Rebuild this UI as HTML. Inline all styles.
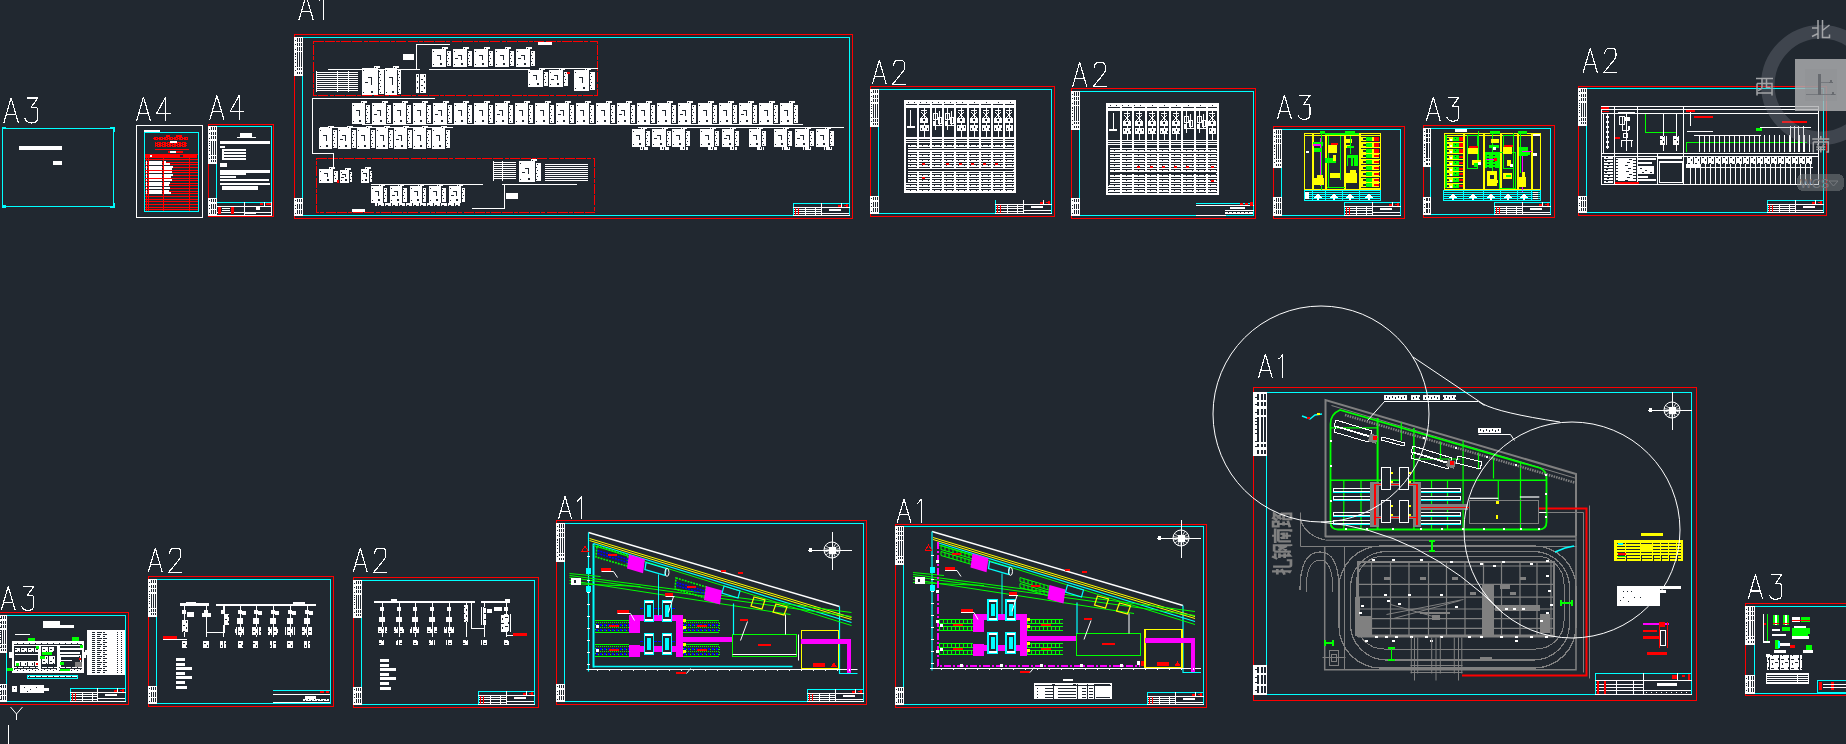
<!DOCTYPE html>
<html><head><meta charset="utf-8"><style>
html,body{margin:0;padding:0;background:#212830;overflow:hidden;width:1846px;height:744px}
svg{display:block}
</style></head><body>
<svg width="1846" height="744" viewBox="0 0 1846 744" shape-rendering="crispEdges">
<defs><pattern id="dense" width="4" height="3" patternUnits="userSpaceOnUse"><rect width="4" height="3" fill="#fff"/><rect x="1" y="1" width="1" height="1" fill="#212830"/><rect x="3" y="2" width="1" height="1" fill="#212830"/></pattern><pattern id="rows" width="3" height="2" patternUnits="userSpaceOnUse"><rect width="3" height="1" fill="#fff"/></pattern><pattern id="rows3" width="3" height="3" patternUnits="userSpaceOnUse"><rect width="3" height="1" fill="#fff"/></pattern><pattern id="blk" width="10" height="9" patternUnits="userSpaceOnUse"><rect width="10" height="9" fill="#fff"/><rect x="1" y="2" width="3" height="1" fill="#212830"/><rect x="5" y="5" width="3" height="1" fill="#212830"/><rect x="2" y="6" width="1" height="2" fill="#212830"/><rect x="8" y="1" width="1" height="2" fill="#212830"/><rect x="9" y="0" width="1" height="9" fill="#212830"/></pattern><pattern id="blk2" width="7" height="6" patternUnits="userSpaceOnUse"><rect width="7" height="6" fill="#fff"/><rect x="1" y="1" width="2" height="1" fill="#212830"/><rect x="4" y="3" width="1" height="2" fill="#212830"/><rect x="6" y="0" width="1" height="6" fill="#212830"/></pattern><pattern id="txt" width="6" height="3" patternUnits="userSpaceOnUse"><rect width="6" height="2" fill="#fff"/><rect x="2" y="0" width="1" height="1" fill="#212830"/><rect x="5" y="1" width="1" height="1" fill="#212830"/></pattern><pattern id="redtxt" width="5" height="2" patternUnits="userSpaceOnUse"><rect width="5" height="2" fill="#ff0000"/><rect x="1" y="0" width="1" height="1" fill="#212830"/><rect x="3" y="1" width="1" height="1" fill="#212830"/></pattern><pattern id="bluedash" width="4" height="2" patternUnits="userSpaceOnUse"><rect width="2" height="2" fill="#0000ff"/></pattern><pattern id="rows2" width="6" height="5" patternUnits="userSpaceOnUse"><rect width="6" height="2" fill="#fff"/><rect y="3" width="6" height="1" fill="#fff"/><rect x="4" y="0" width="1" height="1" fill="#212830"/></pattern><pattern id="grow" width="3" height="2" patternUnits="userSpaceOnUse"><rect width="3" height="1" fill="#808080"/></pattern></defs>
<rect width="1846" height="744" fill="#212830"/>
<rect x="2" y="128" width="112" height="1" fill="#00ffff"/>
<rect x="2" y="206" width="112" height="1" fill="#00ffff"/>
<rect x="2" y="128" width="1" height="79" fill="#00ffff"/>
<rect x="113" y="128" width="1" height="79" fill="#00ffff"/>
<rect x="2" y="127" width="4" height="2" fill="#00ffff" />
<rect x="110" y="127" width="4" height="2" fill="#00ffff" />
<rect x="113" y="127" width="2" height="5" fill="#00ffff" />
<rect x="2" y="205" width="4" height="3" fill="#00ffff" />
<rect x="110" y="206" width="5" height="2" fill="#00ffff" />
<rect x="113" y="203" width="2" height="5" fill="#00ffff" />
<path d="M0,24 L7,0 L14,24 M2.3,16 L11.7,16" transform="translate(3.80,98.00) scale(1.0417)" fill="none" stroke="#fff" stroke-width="1.104" stroke-linejoin="round"/>
<path d="M2,0 L12.5,0 L6.3,9 L10,9 C11.5,9 12.4,10.2 12.4,11.5 L12.4,19.5 C12.4,22.5 10,24 6.5,24 C3.5,24 1.5,22.5 0.3,19.5" transform="translate(24.63,98.00) scale(1.0417)" fill="none" stroke="#fff" stroke-width="1.104" stroke-linejoin="round"/>
<rect x="19" y="146" width="43" height="4" fill="#ffffff" />
<rect x="53" y="161" width="9" height="4" fill="#ffffff" />
<rect x="136" y="125" width="67" height="1" fill="#ffffff"/>
<rect x="136" y="217" width="67" height="1" fill="#ffffff"/>
<rect x="136" y="125" width="1" height="93" fill="#ffffff"/>
<rect x="202" y="125" width="1" height="93" fill="#ffffff"/>
<rect x="144" y="132" width="55" height="1" fill="#00ffff"/>
<rect x="144" y="211" width="55" height="1" fill="#00ffff"/>
<rect x="144" y="132" width="1" height="80" fill="#00ffff"/>
<rect x="198" y="132" width="1" height="80" fill="#00ffff"/>
<path d="M0,24 L7,0 L14,24 M2.3,16 L11.7,16" transform="translate(136.40,97.10) scale(1.0125)" fill="none" stroke="#fff" stroke-width="1.136" stroke-linejoin="round"/>
<path d="M14.2,16 L0,16 L9,0 L9,24" transform="translate(156.65,97.10) scale(1.0125)" fill="none" stroke="#fff" stroke-width="1.136" stroke-linejoin="round"/>
<rect x="144" y="130" width="16" height="2" fill="#ffffff" />
<rect x="153" y="137" width="35" height="3" fill="url(#redtxt)"/>
<rect x="166" y="135" width="4" height="2" fill="#ff0000" />
<rect x="176" y="135" width="6" height="2" fill="#ff0000" />
<rect x="155" y="142" width="32" height="5" fill="url(#redtxt)"/>
<rect x="170" y="141" width="7" height="2" fill="#ffffff" />
<rect x="155" y="149" width="34" height="1" fill="#ff0000"/>
<rect x="168" y="151" width="15" height="2" fill="#ff0000" />
<rect x="170" y="151" width="6" height="2" fill="#ffffff" />
<rect x="145" y="154" width="53" height="1" fill="#ff0000"/>
<rect x="145" y="159" width="53" height="1" fill="#ff0000"/>
<rect x="145" y="162" width="53" height="1" fill="#ff0000"/>
<rect x="145" y="164" width="53" height="1" fill="#ff0000"/>
<rect x="145" y="167" width="53" height="1" fill="#ff0000"/>
<rect x="145" y="170" width="53" height="1" fill="#ff0000"/>
<rect x="145" y="172" width="53" height="1" fill="#ff0000"/>
<rect x="145" y="175" width="53" height="1" fill="#ff0000"/>
<rect x="145" y="178" width="53" height="1" fill="#ff0000"/>
<rect x="145" y="180" width="53" height="1" fill="#ff0000"/>
<rect x="145" y="183" width="53" height="1" fill="#ff0000"/>
<rect x="145" y="185" width="53" height="1" fill="#ff0000"/>
<rect x="145" y="188" width="53" height="1" fill="#ff0000"/>
<rect x="145" y="191" width="53" height="1" fill="#ff0000"/>
<rect x="145" y="193" width="53" height="1" fill="#ff0000"/>
<rect x="145" y="196" width="53" height="1" fill="#ff0000"/>
<rect x="145" y="199" width="53" height="1" fill="#ff0000"/>
<rect x="145" y="201" width="53" height="1" fill="#ff0000"/>
<rect x="145" y="204" width="53" height="1" fill="#ff0000"/>
<rect x="145" y="207" width="53" height="1" fill="#ff0000"/>
<rect x="145" y="209" width="53" height="1" fill="#ff0000"/>
<rect x="146" y="154" width="1" height="57" fill="#ff0000"/>
<rect x="148" y="154" width="1" height="57" fill="#ff0000"/>
<rect x="163" y="154" width="1" height="57" fill="#ff0000"/>
<rect x="189" y="154" width="1" height="57" fill="#ff0000"/>
<rect x="145" y="155" width="52" height="3" fill="#ff0000" />
<rect x="150" y="155" width="2" height="2" fill="#ffffff" />
<rect x="180" y="155" width="3" height="2" fill="#212830" />
<rect x="149" y="161" width="13" height="1.5999999999999943" fill="#ffffff" />
<rect x="164" y="161" width="2" height="1.5999999999999943" fill="#ffffff" />
<rect x="146" y="161" width="1" height="1.5999999999999943" fill="#ffffff" />
<rect x="149" y="163" width="13" height="1.5999999999999943" fill="#ffffff" />
<rect x="164" y="163" width="6" height="1.5999999999999943" fill="#ffffff" />
<rect x="146" y="163" width="1" height="1.5999999999999943" fill="#ffffff" />
<rect x="149" y="166" width="13" height="1.5999999999999943" fill="#ffffff" />
<rect x="164" y="166" width="9" height="1.5999999999999943" fill="#ffffff" />
<rect x="146" y="166" width="1" height="1.5999999999999943" fill="#ffffff" />
<rect x="149" y="168" width="13" height="1.5999999999999943" fill="#ffffff" />
<rect x="164" y="168" width="8" height="1.5999999999999943" fill="#ffffff" />
<rect x="146" y="168" width="1" height="1.5999999999999943" fill="#ffffff" />
<rect x="149" y="171" width="13" height="1.5999999999999943" fill="#ffffff" />
<rect x="164" y="171" width="8" height="1.5999999999999943" fill="#ffffff" />
<rect x="146" y="171" width="1" height="1.5999999999999943" fill="#ffffff" />
<rect x="149" y="174" width="13" height="1.5999999999999943" fill="#ffffff" />
<rect x="164" y="174" width="9" height="1.5999999999999943" fill="#ffffff" />
<rect x="146" y="174" width="1" height="1.5999999999999943" fill="#ffffff" />
<rect x="149" y="176" width="13" height="1.5999999999999943" fill="#ffffff" />
<rect x="164" y="176" width="7" height="1.5999999999999943" fill="#ffffff" />
<rect x="146" y="176" width="1" height="1.5999999999999943" fill="#ffffff" />
<rect x="149" y="179" width="13" height="1.5999999999999943" fill="#ffffff" />
<rect x="164" y="179" width="8" height="1.5999999999999943" fill="#ffffff" />
<rect x="146" y="179" width="1" height="1.5999999999999943" fill="#ffffff" />
<rect x="149" y="182" width="13" height="1.5999999999999943" fill="#ffffff" />
<rect x="164" y="182" width="6" height="1.5999999999999943" fill="#ffffff" />
<rect x="146" y="182" width="1" height="1.5999999999999943" fill="#ffffff" />
<rect x="149" y="184" width="13" height="1.5999999999999943" fill="#ffffff" />
<rect x="164" y="184" width="5" height="1.5999999999999943" fill="#ffffff" />
<rect x="146" y="184" width="1" height="1.5999999999999943" fill="#ffffff" />
<rect x="149" y="187" width="13" height="1.5999999999999943" fill="#ffffff" />
<rect x="164" y="187" width="6" height="1.5999999999999943" fill="#ffffff" />
<rect x="146" y="187" width="1" height="1.5999999999999943" fill="#ffffff" />
<rect x="149" y="190" width="13" height="1.5999999999999943" fill="#ffffff" />
<rect x="164" y="190" width="5" height="1.5999999999999943" fill="#ffffff" />
<rect x="146" y="190" width="1" height="1.5999999999999943" fill="#ffffff" />
<rect x="149" y="192" width="13" height="1.5999999999999943" fill="#ffffff" />
<rect x="164" y="192" width="7" height="1.5999999999999943" fill="#ffffff" />
<rect x="146" y="192" width="1" height="1.5999999999999943" fill="#ffffff" />
<rect x="208" y="124" width="66" height="1" fill="#ff0000"/>
<rect x="208" y="216" width="66" height="1" fill="#ff0000"/>
<rect x="208" y="124" width="1" height="93" fill="#ff0000"/>
<rect x="273" y="124" width="1" height="93" fill="#ff0000"/>
<rect x="216" y="126" width="56" height="1" fill="#00ffff"/>
<rect x="216" y="202" width="56" height="1" fill="#00ffff"/>
<rect x="216" y="126" width="1" height="77" fill="#00ffff"/>
<rect x="271" y="126" width="1" height="77" fill="#00ffff"/>
<rect x="208" y="126" width="9" height="38" fill="#ffffff" />
<rect x="211" y="127" width="1" height="3" fill="#212830"/>
<rect x="211" y="132" width="1" height="3" fill="#212830"/>
<rect x="211" y="136" width="1" height="3" fill="#212830"/>
<rect x="211" y="141" width="1" height="14" fill="#212830"/>
<rect x="211" y="156" width="1" height="3" fill="#212830"/>
<rect x="211" y="160" width="1" height="2" fill="#212830"/>
<rect x="213" y="127" width="1" height="3" fill="#212830"/>
<rect x="213" y="132" width="1" height="3" fill="#212830"/>
<rect x="213" y="136" width="1" height="3" fill="#212830"/>
<rect x="213" y="141" width="1" height="14" fill="#212830"/>
<rect x="213" y="156" width="1" height="3" fill="#212830"/>
<rect x="213" y="160" width="1" height="2" fill="#212830"/>
<rect x="215" y="127" width="1" height="3" fill="#212830"/>
<rect x="215" y="132" width="1" height="3" fill="#212830"/>
<rect x="215" y="136" width="1" height="3" fill="#212830"/>
<rect x="215" y="141" width="1" height="14" fill="#212830"/>
<rect x="215" y="156" width="1" height="3" fill="#212830"/>
<rect x="215" y="160" width="1" height="2" fill="#212830"/>
<rect x="209" y="129" width="1" height="1" fill="#212830"/>
<rect x="209" y="133" width="1" height="1" fill="#212830"/>
<rect x="209" y="138" width="1" height="1" fill="#212830"/>
<rect x="209" y="141" width="1" height="1" fill="#212830"/>
<rect x="209" y="143" width="1" height="1" fill="#212830"/>
<rect x="209" y="145" width="1" height="1" fill="#212830"/>
<rect x="209" y="148" width="1" height="1" fill="#212830"/>
<rect x="209" y="150" width="1" height="1" fill="#212830"/>
<rect x="209" y="154" width="1" height="1" fill="#212830"/>
<rect x="209" y="158" width="1" height="1" fill="#212830"/>
<rect x="208" y="198" width="9" height="18" fill="#ffffff" />
<rect x="211" y="199" width="1" height="3" fill="#212830"/>
<rect x="211" y="204" width="1" height="5" fill="#212830"/>
<rect x="211" y="210" width="1" height="4" fill="#212830"/>
<rect x="213" y="199" width="1" height="3" fill="#212830"/>
<rect x="213" y="204" width="1" height="5" fill="#212830"/>
<rect x="213" y="210" width="1" height="4" fill="#212830"/>
<rect x="215" y="199" width="1" height="3" fill="#212830"/>
<rect x="215" y="204" width="1" height="5" fill="#212830"/>
<rect x="215" y="210" width="1" height="4" fill="#212830"/>
<rect x="209" y="200" width="1" height="1" fill="#212830"/>
<rect x="209" y="205" width="1" height="1" fill="#212830"/>
<rect x="209" y="208" width="1" height="1" fill="#212830"/>
<rect x="209" y="213" width="1" height="1" fill="#212830"/>
<path d="M0,24 L7,0 L14,24 M2.3,16 L11.7,16" transform="translate(209.80,95.50) scale(1.0125)" fill="none" stroke="#fff" stroke-width="1.136" stroke-linejoin="round"/>
<path d="M14.2,16 L0,16 L9,0 L9,24" transform="translate(230.05,95.50) scale(1.0125)" fill="none" stroke="#fff" stroke-width="1.136" stroke-linejoin="round"/>
<rect x="271" y="202" width="1" height="14" fill="#ffffff"/>
<rect x="217" y="206" width="55" height="1" fill="#ffffff"/>
<rect x="217" y="212" width="55" height="1" fill="#ffffff"/>
<rect x="217" y="215" width="55" height="1" fill="#ffffff"/>
<rect x="244" y="202" width="1" height="14" fill="#ffffff"/>
<rect x="264" y="202" width="1" height="5" fill="#ffffff"/>
<rect x="218" y="207" width="3" height="7" fill="#ff0000" />
<rect x="231" y="207" width="3" height="7" fill="#ff0000" />
<rect x="222" y="208" width="8" height="1" fill="#ffffff" />
<rect x="222" y="210" width="8" height="1" fill="#ffffff" />
<rect x="260" y="203" width="3" height="2" fill="#ff0000" />
<rect x="266" y="203" width="5" height="2" fill="#ff0000" />
<rect x="256" y="207" width="4" height="3" fill="#ffffff" />
<rect x="245" y="213" width="11" height="1" fill="#ffffff" />
<rect x="240" y="133" width="12" height="4" fill="#ffffff" />
<rect x="237" y="137" width="19" height="1" fill="#ffffff"/>
<rect x="220" y="141" width="50" height="3" fill="#ffffff" />
<rect x="220" y="146" width="5" height="2" fill="#ffffff" />
<rect x="222" y="149" width="24" height="2" fill="#ffffff" />
<rect x="222" y="152" width="24" height="2" fill="#ffffff" />
<rect x="222" y="155" width="24" height="2" fill="#ffffff" />
<rect x="222" y="158" width="24" height="2" fill="#ffffff" />
<rect x="222" y="151" width="2" height="9" fill="#ffffff" />
<rect x="220" y="163" width="7" height="4" fill="#ffffff" />
<rect x="220" y="170" width="50" height="3" fill="#ffffff" />
<rect x="220" y="173" width="26" height="2" fill="#ffffff" />
<rect x="220" y="176" width="16" height="2" fill="#ffffff" />
<rect x="220" y="179" width="49" height="2" fill="#ffffff" />
<rect x="220" y="183" width="50" height="2" fill="#ffffff" />
<rect x="222" y="186" width="36" height="4" fill="#ffffff" />
<rect x="294" y="34" width="559" height="1" fill="#ff0000"/>
<rect x="294" y="218" width="559" height="1" fill="#ff0000"/>
<rect x="294" y="34" width="1" height="185" fill="#ff0000"/>
<rect x="852" y="34" width="1" height="185" fill="#ff0000"/>
<rect x="302" y="37" width="548" height="1" fill="#00ffff"/>
<rect x="302" y="215" width="548" height="1" fill="#00ffff"/>
<rect x="302" y="37" width="1" height="179" fill="#00ffff"/>
<rect x="849" y="37" width="1" height="179" fill="#00ffff"/>
<rect x="294" y="37" width="9" height="39" fill="#ffffff" />
<rect x="297" y="38" width="1" height="4" fill="#212830"/>
<rect x="297" y="43" width="1" height="3" fill="#212830"/>
<rect x="297" y="47" width="1" height="4" fill="#212830"/>
<rect x="297" y="52" width="1" height="15" fill="#212830"/>
<rect x="297" y="68" width="1" height="2" fill="#212830"/>
<rect x="297" y="72" width="1" height="2" fill="#212830"/>
<rect x="299" y="38" width="1" height="4" fill="#212830"/>
<rect x="299" y="43" width="1" height="3" fill="#212830"/>
<rect x="299" y="47" width="1" height="4" fill="#212830"/>
<rect x="299" y="52" width="1" height="15" fill="#212830"/>
<rect x="299" y="68" width="1" height="2" fill="#212830"/>
<rect x="299" y="72" width="1" height="2" fill="#212830"/>
<rect x="301" y="38" width="1" height="4" fill="#212830"/>
<rect x="301" y="43" width="1" height="3" fill="#212830"/>
<rect x="301" y="47" width="1" height="4" fill="#212830"/>
<rect x="301" y="52" width="1" height="15" fill="#212830"/>
<rect x="301" y="68" width="1" height="2" fill="#212830"/>
<rect x="301" y="72" width="1" height="2" fill="#212830"/>
<rect x="295" y="40" width="1" height="1" fill="#212830"/>
<rect x="295" y="44" width="1" height="1" fill="#212830"/>
<rect x="295" y="49" width="1" height="1" fill="#212830"/>
<rect x="295" y="53" width="1" height="1" fill="#212830"/>
<rect x="295" y="54" width="1" height="1" fill="#212830"/>
<rect x="295" y="56" width="1" height="1" fill="#212830"/>
<rect x="295" y="59" width="1" height="1" fill="#212830"/>
<rect x="295" y="62" width="1" height="1" fill="#212830"/>
<rect x="295" y="66" width="1" height="1" fill="#212830"/>
<rect x="295" y="70" width="1" height="1" fill="#212830"/>
<rect x="294" y="198" width="9" height="18" fill="#ffffff" />
<rect x="297" y="199" width="1" height="3" fill="#212830"/>
<rect x="297" y="204" width="1" height="5" fill="#212830"/>
<rect x="297" y="210" width="1" height="4" fill="#212830"/>
<rect x="299" y="199" width="1" height="3" fill="#212830"/>
<rect x="299" y="204" width="1" height="5" fill="#212830"/>
<rect x="299" y="210" width="1" height="4" fill="#212830"/>
<rect x="301" y="199" width="1" height="3" fill="#212830"/>
<rect x="301" y="204" width="1" height="5" fill="#212830"/>
<rect x="301" y="210" width="1" height="4" fill="#212830"/>
<rect x="295" y="200" width="1" height="1" fill="#212830"/>
<rect x="295" y="205" width="1" height="1" fill="#212830"/>
<rect x="295" y="208" width="1" height="1" fill="#212830"/>
<rect x="295" y="213" width="1" height="1" fill="#212830"/>
<path d="M0,24 L7,0 L14,24 M2.3,16 L11.7,16" transform="translate(299.00,-4.50) scale(1.0125)" fill="none" stroke="#fff" stroke-width="1.136" stroke-linejoin="round"/>
<path d="M0,5 C1.6,4 3.2,2.6 4.3,0 L4.3,24" transform="translate(319.25,-4.50) scale(1.0125)" fill="none" stroke="#fff" stroke-width="1.136" stroke-linejoin="round"/>
<rect x="313.5" y="41.5" width="284" height="54" fill="none" stroke="#ff0000" stroke-width="1" stroke-dasharray="10,1.2,10,1.2,4,1.2"/>
<rect x="316.5" y="158.5" width="278" height="54" fill="none" stroke="#ff0000" stroke-width="1" stroke-dasharray="10,1.2,10,1.2,4,1.2"/>
<rect x="416" y="44" width="34" height="1" fill="#ffffff"/>
<rect x="416" y="44" width="1" height="26" fill="#ffffff"/>
<rect x="403" y="54" width="11" height="6" fill="#ffffff" />
<rect x="328" y="69" width="92" height="1" fill="#ffffff"/>
<rect x="429" y="69" width="101" height="1" fill="#ffffff"/>
<rect x="539" y="68" width="59" height="1" fill="#ffffff"/>
<rect x="432" y="49" width="14" height="18" fill="#ffffff" />
<rect x="447" y="51" width="4" height="15" fill="#ffffff" />
<rect x="448" y="52" width="1" height="1" fill="#212830" />
<rect x="447" y="55" width="1" height="1" fill="#212830" />
<rect x="448" y="58" width="1" height="1" fill="#212830" />
<rect x="447" y="61" width="1" height="1" fill="#212830" />
<rect x="448" y="64" width="1" height="1" fill="#212830" />
<rect x="433" y="51" width="1" height="1" fill="#212830" />
<rect x="433" y="64" width="1" height="1" fill="#212830" />
<rect x="437" y="55" width="4" height="1" fill="#212830" />
<rect x="440" y="55" width="1" height="5" fill="#212830" />
<rect x="440" y="63" width="2" height="2" fill="#212830" />
<rect x="442" y="47" width="6" height="2" fill="#ffffff" />
<rect x="443" y="48" width="1" height="1" fill="#212830" />
<rect x="453" y="49" width="14" height="18" fill="#ffffff" />
<rect x="468" y="51" width="4" height="15" fill="#ffffff" />
<rect x="468" y="52" width="1" height="1" fill="#212830" />
<rect x="469" y="55" width="1" height="1" fill="#212830" />
<rect x="468" y="58" width="1" height="1" fill="#212830" />
<rect x="469" y="61" width="1" height="1" fill="#212830" />
<rect x="468" y="64" width="1" height="1" fill="#212830" />
<rect x="454" y="51" width="1" height="1" fill="#212830" />
<rect x="454" y="64" width="1" height="1" fill="#212830" />
<rect x="458" y="55" width="4" height="1" fill="#212830" />
<rect x="461" y="55" width="1" height="5" fill="#212830" />
<rect x="461" y="63" width="2" height="2" fill="#212830" />
<rect x="455" y="58" width="3" height="1" fill="#212830" />
<rect x="463" y="47" width="6" height="2" fill="#ffffff" />
<rect x="464" y="48" width="1" height="1" fill="#212830" />
<rect x="474" y="49" width="14" height="18" fill="#ffffff" />
<rect x="489" y="51" width="4" height="15" fill="#ffffff" />
<rect x="490" y="52" width="1" height="1" fill="#212830" />
<rect x="489" y="55" width="1" height="1" fill="#212830" />
<rect x="490" y="58" width="1" height="1" fill="#212830" />
<rect x="489" y="61" width="1" height="1" fill="#212830" />
<rect x="490" y="64" width="1" height="1" fill="#212830" />
<rect x="475" y="51" width="1" height="1" fill="#212830" />
<rect x="475" y="64" width="1" height="1" fill="#212830" />
<rect x="479" y="55" width="4" height="1" fill="#212830" />
<rect x="482" y="55" width="1" height="5" fill="#212830" />
<rect x="482" y="63" width="2" height="2" fill="#212830" />
<rect x="484" y="47" width="6" height="2" fill="#ffffff" />
<rect x="485" y="48" width="1" height="1" fill="#212830" />
<rect x="495" y="49" width="14" height="18" fill="#ffffff" />
<rect x="510" y="51" width="4" height="15" fill="#ffffff" />
<rect x="510" y="52" width="1" height="1" fill="#212830" />
<rect x="511" y="55" width="1" height="1" fill="#212830" />
<rect x="510" y="58" width="1" height="1" fill="#212830" />
<rect x="511" y="61" width="1" height="1" fill="#212830" />
<rect x="510" y="64" width="1" height="1" fill="#212830" />
<rect x="496" y="51" width="1" height="1" fill="#212830" />
<rect x="496" y="64" width="1" height="1" fill="#212830" />
<rect x="500" y="55" width="4" height="1" fill="#212830" />
<rect x="503" y="55" width="1" height="5" fill="#212830" />
<rect x="503" y="63" width="2" height="2" fill="#212830" />
<rect x="505" y="47" width="6" height="2" fill="#ffffff" />
<rect x="506" y="48" width="1" height="1" fill="#212830" />
<rect x="516" y="49" width="14" height="18" fill="#ffffff" />
<rect x="531" y="51" width="4" height="15" fill="#ffffff" />
<rect x="532" y="52" width="1" height="1" fill="#212830" />
<rect x="531" y="55" width="1" height="1" fill="#212830" />
<rect x="532" y="58" width="1" height="1" fill="#212830" />
<rect x="531" y="61" width="1" height="1" fill="#212830" />
<rect x="532" y="64" width="1" height="1" fill="#212830" />
<rect x="517" y="51" width="1" height="1" fill="#212830" />
<rect x="517" y="64" width="1" height="1" fill="#212830" />
<rect x="521" y="55" width="4" height="1" fill="#212830" />
<rect x="524" y="55" width="1" height="5" fill="#212830" />
<rect x="524" y="63" width="2" height="2" fill="#212830" />
<rect x="518" y="58" width="3" height="1" fill="#212830" />
<rect x="526" y="47" width="6" height="2" fill="#ffffff" />
<rect x="527" y="48" width="1" height="1" fill="#212830" />
<rect x="316" y="71" width="42" height="20" fill="url(#rows)"/>
<rect x="316" y="71" width="1" height="21" fill="#ffffff"/>
<rect x="337" y="71" width="1" height="21" fill="#ffffff"/>
<rect x="348" y="71" width="1" height="21" fill="#ffffff"/>
<rect x="362" y="68" width="16" height="27" fill="#ffffff" />
<rect x="379" y="70" width="5" height="24" fill="#ffffff" />
<rect x="379" y="71" width="1" height="1" fill="#212830" />
<rect x="380" y="74" width="1" height="1" fill="#212830" />
<rect x="379" y="77" width="1" height="1" fill="#212830" />
<rect x="380" y="80" width="1" height="1" fill="#212830" />
<rect x="379" y="83" width="1" height="1" fill="#212830" />
<rect x="380" y="86" width="1" height="1" fill="#212830" />
<rect x="379" y="89" width="1" height="1" fill="#212830" />
<rect x="380" y="92" width="1" height="1" fill="#212830" />
<rect x="363" y="70" width="1" height="1" fill="#212830" />
<rect x="363" y="92" width="1" height="1" fill="#212830" />
<rect x="368" y="77" width="4" height="1" fill="#212830" />
<rect x="371" y="77" width="1" height="8" fill="#212830" />
<rect x="371" y="91" width="2" height="2" fill="#212830" />
<rect x="365" y="82" width="3" height="1" fill="#212830" />
<rect x="374" y="66" width="6" height="2" fill="#ffffff" />
<rect x="375" y="67" width="1" height="1" fill="#212830" />
<rect x="385" y="68" width="12" height="27" fill="#ffffff" />
<rect x="398" y="70" width="3" height="24" fill="#ffffff" />
<rect x="399" y="71" width="1" height="1" fill="#212830" />
<rect x="398" y="74" width="1" height="1" fill="#212830" />
<rect x="399" y="77" width="1" height="1" fill="#212830" />
<rect x="398" y="80" width="1" height="1" fill="#212830" />
<rect x="399" y="83" width="1" height="1" fill="#212830" />
<rect x="398" y="86" width="1" height="1" fill="#212830" />
<rect x="399" y="89" width="1" height="1" fill="#212830" />
<rect x="398" y="92" width="1" height="1" fill="#212830" />
<rect x="386" y="70" width="1" height="1" fill="#212830" />
<rect x="386" y="92" width="1" height="1" fill="#212830" />
<rect x="389" y="77" width="4" height="1" fill="#212830" />
<rect x="392" y="77" width="1" height="8" fill="#212830" />
<rect x="392" y="91" width="2" height="2" fill="#212830" />
<rect x="393" y="66" width="6" height="2" fill="#ffffff" />
<rect x="394" y="67" width="1" height="1" fill="#212830" />
<rect x="416" y="74" width="11" height="19" fill="url(#blk2)"/>
<rect x="528" y="70" width="15" height="17" fill="#ffffff" />
<rect x="544" y="72" width="4" height="14" fill="#ffffff" />
<rect x="544" y="73" width="1" height="1" fill="#212830" />
<rect x="545" y="76" width="1" height="1" fill="#212830" />
<rect x="544" y="79" width="1" height="1" fill="#212830" />
<rect x="545" y="82" width="1" height="1" fill="#212830" />
<rect x="529" y="72" width="1" height="1" fill="#212830" />
<rect x="529" y="84" width="1" height="1" fill="#212830" />
<rect x="533" y="75" width="4" height="1" fill="#212830" />
<rect x="536" y="75" width="1" height="5" fill="#212830" />
<rect x="537" y="83" width="2" height="2" fill="#212830" />
<rect x="539" y="68" width="6" height="2" fill="#ffffff" />
<rect x="540" y="69" width="1" height="1" fill="#212830" />
<rect x="549" y="70" width="14" height="17" fill="#ffffff" />
<rect x="564" y="72" width="4" height="14" fill="#ffffff" />
<rect x="565" y="73" width="1" height="1" fill="#212830" />
<rect x="564" y="76" width="1" height="1" fill="#212830" />
<rect x="565" y="79" width="1" height="1" fill="#212830" />
<rect x="564" y="82" width="1" height="1" fill="#212830" />
<rect x="550" y="72" width="1" height="1" fill="#212830" />
<rect x="550" y="84" width="1" height="1" fill="#212830" />
<rect x="554" y="75" width="4" height="1" fill="#212830" />
<rect x="557" y="75" width="1" height="5" fill="#212830" />
<rect x="557" y="83" width="2" height="2" fill="#212830" />
<rect x="551" y="79" width="3" height="1" fill="#212830" />
<rect x="559" y="68" width="6" height="2" fill="#ffffff" />
<rect x="560" y="69" width="1" height="1" fill="#212830" />
<rect x="574" y="70" width="15" height="21" fill="#ffffff" />
<rect x="590" y="72" width="5" height="18" fill="#ffffff" />
<rect x="590" y="73" width="1" height="1" fill="#212830" />
<rect x="591" y="76" width="1" height="1" fill="#212830" />
<rect x="590" y="79" width="1" height="1" fill="#212830" />
<rect x="591" y="82" width="1" height="1" fill="#212830" />
<rect x="590" y="85" width="1" height="1" fill="#212830" />
<rect x="591" y="88" width="1" height="1" fill="#212830" />
<rect x="575" y="72" width="1" height="1" fill="#212830" />
<rect x="575" y="88" width="1" height="1" fill="#212830" />
<rect x="579" y="77" width="4" height="1" fill="#212830" />
<rect x="582" y="77" width="1" height="6" fill="#212830" />
<rect x="583" y="87" width="2" height="2" fill="#212830" />
<rect x="585" y="68" width="6" height="2" fill="#ffffff" />
<rect x="586" y="69" width="1" height="1" fill="#212830" />
<rect x="567" y="72" width="3" height="2" fill="#ff0000" />
<rect x="538" y="42" width="14" height="3" fill="#ffffff" />
<rect x="312" y="98" width="123" height="1" fill="#ffffff"/>
<rect x="312" y="98" width="1" height="56" fill="#ffffff"/>
<rect x="312" y="153" width="22" height="1" fill="#ffffff"/>
<rect x="333" y="153" width="1" height="14" fill="#ffffff"/>
<rect x="352" y="103" width="13" height="21" fill="#ffffff" />
<rect x="366" y="105" width="4" height="18" fill="#ffffff" />
<rect x="367" y="106" width="1" height="1" fill="#212830" />
<rect x="366" y="109" width="1" height="1" fill="#212830" />
<rect x="367" y="112" width="1" height="1" fill="#212830" />
<rect x="366" y="115" width="1" height="1" fill="#212830" />
<rect x="367" y="118" width="1" height="1" fill="#212830" />
<rect x="366" y="121" width="1" height="1" fill="#212830" />
<rect x="353" y="105" width="1" height="1" fill="#212830" />
<rect x="353" y="121" width="1" height="1" fill="#212830" />
<rect x="356" y="110" width="4" height="1" fill="#212830" />
<rect x="359" y="110" width="1" height="6" fill="#212830" />
<rect x="359" y="120" width="2" height="2" fill="#212830" />
<rect x="361" y="101" width="6" height="2" fill="#ffffff" />
<rect x="362" y="102" width="1" height="1" fill="#212830" />
<rect x="372" y="103" width="14" height="21" fill="#ffffff" />
<rect x="387" y="105" width="4" height="18" fill="#ffffff" />
<rect x="387" y="106" width="1" height="1" fill="#212830" />
<rect x="388" y="109" width="1" height="1" fill="#212830" />
<rect x="387" y="112" width="1" height="1" fill="#212830" />
<rect x="388" y="115" width="1" height="1" fill="#212830" />
<rect x="387" y="118" width="1" height="1" fill="#212830" />
<rect x="388" y="121" width="1" height="1" fill="#212830" />
<rect x="373" y="105" width="1" height="1" fill="#212830" />
<rect x="373" y="121" width="1" height="1" fill="#212830" />
<rect x="377" y="110" width="4" height="1" fill="#212830" />
<rect x="380" y="110" width="1" height="6" fill="#212830" />
<rect x="380" y="120" width="2" height="2" fill="#212830" />
<rect x="374" y="114" width="3" height="1" fill="#212830" />
<rect x="382" y="101" width="6" height="2" fill="#ffffff" />
<rect x="383" y="102" width="1" height="1" fill="#212830" />
<rect x="393" y="103" width="13" height="21" fill="#ffffff" />
<rect x="407" y="105" width="4" height="18" fill="#ffffff" />
<rect x="408" y="106" width="1" height="1" fill="#212830" />
<rect x="407" y="109" width="1" height="1" fill="#212830" />
<rect x="408" y="112" width="1" height="1" fill="#212830" />
<rect x="407" y="115" width="1" height="1" fill="#212830" />
<rect x="408" y="118" width="1" height="1" fill="#212830" />
<rect x="407" y="121" width="1" height="1" fill="#212830" />
<rect x="394" y="105" width="1" height="1" fill="#212830" />
<rect x="394" y="121" width="1" height="1" fill="#212830" />
<rect x="397" y="110" width="4" height="1" fill="#212830" />
<rect x="400" y="110" width="1" height="6" fill="#212830" />
<rect x="400" y="120" width="2" height="2" fill="#212830" />
<rect x="402" y="101" width="6" height="2" fill="#ffffff" />
<rect x="403" y="102" width="1" height="1" fill="#212830" />
<rect x="413" y="103" width="13" height="21" fill="#ffffff" />
<rect x="427" y="105" width="4" height="18" fill="#ffffff" />
<rect x="427" y="106" width="1" height="1" fill="#212830" />
<rect x="428" y="109" width="1" height="1" fill="#212830" />
<rect x="427" y="112" width="1" height="1" fill="#212830" />
<rect x="428" y="115" width="1" height="1" fill="#212830" />
<rect x="427" y="118" width="1" height="1" fill="#212830" />
<rect x="428" y="121" width="1" height="1" fill="#212830" />
<rect x="414" y="105" width="1" height="1" fill="#212830" />
<rect x="414" y="121" width="1" height="1" fill="#212830" />
<rect x="417" y="110" width="4" height="1" fill="#212830" />
<rect x="420" y="110" width="1" height="6" fill="#212830" />
<rect x="420" y="120" width="2" height="2" fill="#212830" />
<rect x="422" y="101" width="6" height="2" fill="#ffffff" />
<rect x="423" y="102" width="1" height="1" fill="#212830" />
<rect x="433" y="103" width="14" height="21" fill="#ffffff" />
<rect x="448" y="105" width="4" height="18" fill="#ffffff" />
<rect x="449" y="106" width="1" height="1" fill="#212830" />
<rect x="448" y="109" width="1" height="1" fill="#212830" />
<rect x="449" y="112" width="1" height="1" fill="#212830" />
<rect x="448" y="115" width="1" height="1" fill="#212830" />
<rect x="449" y="118" width="1" height="1" fill="#212830" />
<rect x="448" y="121" width="1" height="1" fill="#212830" />
<rect x="434" y="105" width="1" height="1" fill="#212830" />
<rect x="434" y="121" width="1" height="1" fill="#212830" />
<rect x="438" y="110" width="4" height="1" fill="#212830" />
<rect x="441" y="110" width="1" height="6" fill="#212830" />
<rect x="441" y="120" width="2" height="2" fill="#212830" />
<rect x="435" y="114" width="3" height="1" fill="#212830" />
<rect x="443" y="101" width="6" height="2" fill="#ffffff" />
<rect x="444" y="102" width="1" height="1" fill="#212830" />
<rect x="454" y="103" width="13" height="21" fill="#ffffff" />
<rect x="468" y="105" width="4" height="18" fill="#ffffff" />
<rect x="468" y="106" width="1" height="1" fill="#212830" />
<rect x="469" y="109" width="1" height="1" fill="#212830" />
<rect x="468" y="112" width="1" height="1" fill="#212830" />
<rect x="469" y="115" width="1" height="1" fill="#212830" />
<rect x="468" y="118" width="1" height="1" fill="#212830" />
<rect x="469" y="121" width="1" height="1" fill="#212830" />
<rect x="455" y="105" width="1" height="1" fill="#212830" />
<rect x="455" y="121" width="1" height="1" fill="#212830" />
<rect x="458" y="110" width="4" height="1" fill="#212830" />
<rect x="461" y="110" width="1" height="6" fill="#212830" />
<rect x="461" y="120" width="2" height="2" fill="#212830" />
<rect x="463" y="101" width="6" height="2" fill="#ffffff" />
<rect x="464" y="102" width="1" height="1" fill="#212830" />
<rect x="474" y="103" width="14" height="21" fill="#ffffff" />
<rect x="489" y="105" width="4" height="18" fill="#ffffff" />
<rect x="490" y="106" width="1" height="1" fill="#212830" />
<rect x="489" y="109" width="1" height="1" fill="#212830" />
<rect x="490" y="112" width="1" height="1" fill="#212830" />
<rect x="489" y="115" width="1" height="1" fill="#212830" />
<rect x="490" y="118" width="1" height="1" fill="#212830" />
<rect x="489" y="121" width="1" height="1" fill="#212830" />
<rect x="475" y="105" width="1" height="1" fill="#212830" />
<rect x="475" y="121" width="1" height="1" fill="#212830" />
<rect x="479" y="110" width="4" height="1" fill="#212830" />
<rect x="482" y="110" width="1" height="6" fill="#212830" />
<rect x="482" y="120" width="2" height="2" fill="#212830" />
<rect x="484" y="101" width="6" height="2" fill="#ffffff" />
<rect x="485" y="102" width="1" height="1" fill="#212830" />
<rect x="495" y="103" width="13" height="21" fill="#ffffff" />
<rect x="509" y="105" width="4" height="18" fill="#ffffff" />
<rect x="509" y="106" width="1" height="1" fill="#212830" />
<rect x="510" y="109" width="1" height="1" fill="#212830" />
<rect x="509" y="112" width="1" height="1" fill="#212830" />
<rect x="510" y="115" width="1" height="1" fill="#212830" />
<rect x="509" y="118" width="1" height="1" fill="#212830" />
<rect x="510" y="121" width="1" height="1" fill="#212830" />
<rect x="496" y="105" width="1" height="1" fill="#212830" />
<rect x="496" y="121" width="1" height="1" fill="#212830" />
<rect x="499" y="110" width="4" height="1" fill="#212830" />
<rect x="502" y="110" width="1" height="6" fill="#212830" />
<rect x="502" y="120" width="2" height="2" fill="#212830" />
<rect x="497" y="114" width="3" height="1" fill="#212830" />
<rect x="504" y="101" width="6" height="2" fill="#ffffff" />
<rect x="505" y="102" width="1" height="1" fill="#212830" />
<rect x="515" y="103" width="13" height="21" fill="#ffffff" />
<rect x="529" y="105" width="4" height="18" fill="#ffffff" />
<rect x="530" y="106" width="1" height="1" fill="#212830" />
<rect x="529" y="109" width="1" height="1" fill="#212830" />
<rect x="530" y="112" width="1" height="1" fill="#212830" />
<rect x="529" y="115" width="1" height="1" fill="#212830" />
<rect x="530" y="118" width="1" height="1" fill="#212830" />
<rect x="529" y="121" width="1" height="1" fill="#212830" />
<rect x="516" y="105" width="1" height="1" fill="#212830" />
<rect x="516" y="121" width="1" height="1" fill="#212830" />
<rect x="519" y="110" width="4" height="1" fill="#212830" />
<rect x="522" y="110" width="1" height="6" fill="#212830" />
<rect x="522" y="120" width="2" height="2" fill="#212830" />
<rect x="524" y="101" width="6" height="2" fill="#ffffff" />
<rect x="525" y="102" width="1" height="1" fill="#212830" />
<rect x="535" y="103" width="14" height="21" fill="#ffffff" />
<rect x="550" y="105" width="4" height="18" fill="#ffffff" />
<rect x="550" y="106" width="1" height="1" fill="#212830" />
<rect x="551" y="109" width="1" height="1" fill="#212830" />
<rect x="550" y="112" width="1" height="1" fill="#212830" />
<rect x="551" y="115" width="1" height="1" fill="#212830" />
<rect x="550" y="118" width="1" height="1" fill="#212830" />
<rect x="551" y="121" width="1" height="1" fill="#212830" />
<rect x="536" y="105" width="1" height="1" fill="#212830" />
<rect x="536" y="121" width="1" height="1" fill="#212830" />
<rect x="540" y="110" width="4" height="1" fill="#212830" />
<rect x="543" y="110" width="1" height="6" fill="#212830" />
<rect x="543" y="120" width="2" height="2" fill="#212830" />
<rect x="545" y="101" width="6" height="2" fill="#ffffff" />
<rect x="546" y="102" width="1" height="1" fill="#212830" />
<rect x="556" y="103" width="13" height="21" fill="#ffffff" />
<rect x="570" y="105" width="4" height="18" fill="#ffffff" />
<rect x="571" y="106" width="1" height="1" fill="#212830" />
<rect x="570" y="109" width="1" height="1" fill="#212830" />
<rect x="571" y="112" width="1" height="1" fill="#212830" />
<rect x="570" y="115" width="1" height="1" fill="#212830" />
<rect x="571" y="118" width="1" height="1" fill="#212830" />
<rect x="570" y="121" width="1" height="1" fill="#212830" />
<rect x="557" y="105" width="1" height="1" fill="#212830" />
<rect x="557" y="121" width="1" height="1" fill="#212830" />
<rect x="560" y="110" width="4" height="1" fill="#212830" />
<rect x="563" y="110" width="1" height="6" fill="#212830" />
<rect x="563" y="120" width="2" height="2" fill="#212830" />
<rect x="558" y="114" width="3" height="1" fill="#212830" />
<rect x="565" y="101" width="6" height="2" fill="#ffffff" />
<rect x="566" y="102" width="1" height="1" fill="#212830" />
<rect x="576" y="103" width="13" height="21" fill="#ffffff" />
<rect x="590" y="105" width="4" height="18" fill="#ffffff" />
<rect x="590" y="106" width="1" height="1" fill="#212830" />
<rect x="591" y="109" width="1" height="1" fill="#212830" />
<rect x="590" y="112" width="1" height="1" fill="#212830" />
<rect x="591" y="115" width="1" height="1" fill="#212830" />
<rect x="590" y="118" width="1" height="1" fill="#212830" />
<rect x="591" y="121" width="1" height="1" fill="#212830" />
<rect x="577" y="105" width="1" height="1" fill="#212830" />
<rect x="577" y="121" width="1" height="1" fill="#212830" />
<rect x="580" y="110" width="4" height="1" fill="#212830" />
<rect x="583" y="110" width="1" height="6" fill="#212830" />
<rect x="583" y="120" width="2" height="2" fill="#212830" />
<rect x="585" y="101" width="6" height="2" fill="#ffffff" />
<rect x="586" y="102" width="1" height="1" fill="#212830" />
<rect x="596" y="103" width="14" height="21" fill="#ffffff" />
<rect x="611" y="105" width="4" height="18" fill="#ffffff" />
<rect x="612" y="106" width="1" height="1" fill="#212830" />
<rect x="611" y="109" width="1" height="1" fill="#212830" />
<rect x="612" y="112" width="1" height="1" fill="#212830" />
<rect x="611" y="115" width="1" height="1" fill="#212830" />
<rect x="612" y="118" width="1" height="1" fill="#212830" />
<rect x="611" y="121" width="1" height="1" fill="#212830" />
<rect x="597" y="105" width="1" height="1" fill="#212830" />
<rect x="597" y="121" width="1" height="1" fill="#212830" />
<rect x="601" y="110" width="4" height="1" fill="#212830" />
<rect x="604" y="110" width="1" height="6" fill="#212830" />
<rect x="604" y="120" width="2" height="2" fill="#212830" />
<rect x="606" y="101" width="6" height="2" fill="#ffffff" />
<rect x="607" y="102" width="1" height="1" fill="#212830" />
<rect x="617" y="103" width="13" height="21" fill="#ffffff" />
<rect x="631" y="105" width="4" height="18" fill="#ffffff" />
<rect x="631" y="106" width="1" height="1" fill="#212830" />
<rect x="632" y="109" width="1" height="1" fill="#212830" />
<rect x="631" y="112" width="1" height="1" fill="#212830" />
<rect x="632" y="115" width="1" height="1" fill="#212830" />
<rect x="631" y="118" width="1" height="1" fill="#212830" />
<rect x="632" y="121" width="1" height="1" fill="#212830" />
<rect x="618" y="105" width="1" height="1" fill="#212830" />
<rect x="618" y="121" width="1" height="1" fill="#212830" />
<rect x="621" y="110" width="4" height="1" fill="#212830" />
<rect x="624" y="110" width="1" height="6" fill="#212830" />
<rect x="624" y="120" width="2" height="2" fill="#212830" />
<rect x="619" y="114" width="3" height="1" fill="#212830" />
<rect x="626" y="101" width="6" height="2" fill="#ffffff" />
<rect x="627" y="102" width="1" height="1" fill="#212830" />
<rect x="637" y="103" width="13" height="21" fill="#ffffff" />
<rect x="651" y="105" width="4" height="18" fill="#ffffff" />
<rect x="652" y="106" width="1" height="1" fill="#212830" />
<rect x="651" y="109" width="1" height="1" fill="#212830" />
<rect x="652" y="112" width="1" height="1" fill="#212830" />
<rect x="651" y="115" width="1" height="1" fill="#212830" />
<rect x="652" y="118" width="1" height="1" fill="#212830" />
<rect x="651" y="121" width="1" height="1" fill="#212830" />
<rect x="638" y="105" width="1" height="1" fill="#212830" />
<rect x="638" y="121" width="1" height="1" fill="#212830" />
<rect x="641" y="110" width="4" height="1" fill="#212830" />
<rect x="644" y="110" width="1" height="6" fill="#212830" />
<rect x="644" y="120" width="2" height="2" fill="#212830" />
<rect x="646" y="101" width="6" height="2" fill="#ffffff" />
<rect x="647" y="102" width="1" height="1" fill="#212830" />
<rect x="657" y="103" width="14" height="21" fill="#ffffff" />
<rect x="672" y="105" width="4" height="18" fill="#ffffff" />
<rect x="672" y="106" width="1" height="1" fill="#212830" />
<rect x="673" y="109" width="1" height="1" fill="#212830" />
<rect x="672" y="112" width="1" height="1" fill="#212830" />
<rect x="673" y="115" width="1" height="1" fill="#212830" />
<rect x="672" y="118" width="1" height="1" fill="#212830" />
<rect x="673" y="121" width="1" height="1" fill="#212830" />
<rect x="658" y="105" width="1" height="1" fill="#212830" />
<rect x="658" y="121" width="1" height="1" fill="#212830" />
<rect x="662" y="110" width="4" height="1" fill="#212830" />
<rect x="665" y="110" width="1" height="6" fill="#212830" />
<rect x="665" y="120" width="2" height="2" fill="#212830" />
<rect x="667" y="101" width="6" height="2" fill="#ffffff" />
<rect x="668" y="102" width="1" height="1" fill="#212830" />
<rect x="678" y="103" width="13" height="21" fill="#ffffff" />
<rect x="692" y="105" width="4" height="18" fill="#ffffff" />
<rect x="693" y="106" width="1" height="1" fill="#212830" />
<rect x="692" y="109" width="1" height="1" fill="#212830" />
<rect x="693" y="112" width="1" height="1" fill="#212830" />
<rect x="692" y="115" width="1" height="1" fill="#212830" />
<rect x="693" y="118" width="1" height="1" fill="#212830" />
<rect x="692" y="121" width="1" height="1" fill="#212830" />
<rect x="679" y="105" width="1" height="1" fill="#212830" />
<rect x="679" y="121" width="1" height="1" fill="#212830" />
<rect x="682" y="110" width="4" height="1" fill="#212830" />
<rect x="685" y="110" width="1" height="6" fill="#212830" />
<rect x="685" y="120" width="2" height="2" fill="#212830" />
<rect x="680" y="114" width="3" height="1" fill="#212830" />
<rect x="687" y="101" width="6" height="2" fill="#ffffff" />
<rect x="688" y="102" width="1" height="1" fill="#212830" />
<rect x="698" y="103" width="14" height="21" fill="#ffffff" />
<rect x="713" y="105" width="4" height="18" fill="#ffffff" />
<rect x="713" y="106" width="1" height="1" fill="#212830" />
<rect x="714" y="109" width="1" height="1" fill="#212830" />
<rect x="713" y="112" width="1" height="1" fill="#212830" />
<rect x="714" y="115" width="1" height="1" fill="#212830" />
<rect x="713" y="118" width="1" height="1" fill="#212830" />
<rect x="714" y="121" width="1" height="1" fill="#212830" />
<rect x="699" y="105" width="1" height="1" fill="#212830" />
<rect x="699" y="121" width="1" height="1" fill="#212830" />
<rect x="703" y="110" width="4" height="1" fill="#212830" />
<rect x="706" y="110" width="1" height="6" fill="#212830" />
<rect x="706" y="120" width="2" height="2" fill="#212830" />
<rect x="708" y="101" width="6" height="2" fill="#ffffff" />
<rect x="709" y="102" width="1" height="1" fill="#212830" />
<rect x="719" y="103" width="13" height="21" fill="#ffffff" />
<rect x="733" y="105" width="4" height="18" fill="#ffffff" />
<rect x="734" y="106" width="1" height="1" fill="#212830" />
<rect x="733" y="109" width="1" height="1" fill="#212830" />
<rect x="734" y="112" width="1" height="1" fill="#212830" />
<rect x="733" y="115" width="1" height="1" fill="#212830" />
<rect x="734" y="118" width="1" height="1" fill="#212830" />
<rect x="733" y="121" width="1" height="1" fill="#212830" />
<rect x="720" y="105" width="1" height="1" fill="#212830" />
<rect x="720" y="121" width="1" height="1" fill="#212830" />
<rect x="723" y="110" width="4" height="1" fill="#212830" />
<rect x="726" y="110" width="1" height="6" fill="#212830" />
<rect x="726" y="120" width="2" height="2" fill="#212830" />
<rect x="728" y="101" width="6" height="2" fill="#ffffff" />
<rect x="729" y="102" width="1" height="1" fill="#212830" />
<rect x="739" y="103" width="13" height="21" fill="#ffffff" />
<rect x="753" y="105" width="4" height="18" fill="#ffffff" />
<rect x="753" y="106" width="1" height="1" fill="#212830" />
<rect x="754" y="109" width="1" height="1" fill="#212830" />
<rect x="753" y="112" width="1" height="1" fill="#212830" />
<rect x="754" y="115" width="1" height="1" fill="#212830" />
<rect x="753" y="118" width="1" height="1" fill="#212830" />
<rect x="754" y="121" width="1" height="1" fill="#212830" />
<rect x="740" y="105" width="1" height="1" fill="#212830" />
<rect x="740" y="121" width="1" height="1" fill="#212830" />
<rect x="743" y="110" width="4" height="1" fill="#212830" />
<rect x="746" y="110" width="1" height="6" fill="#212830" />
<rect x="746" y="120" width="2" height="2" fill="#212830" />
<rect x="741" y="114" width="3" height="1" fill="#212830" />
<rect x="748" y="101" width="6" height="2" fill="#ffffff" />
<rect x="749" y="102" width="1" height="1" fill="#212830" />
<rect x="759" y="103" width="14" height="21" fill="#ffffff" />
<rect x="774" y="105" width="4" height="18" fill="#ffffff" />
<rect x="775" y="106" width="1" height="1" fill="#212830" />
<rect x="774" y="109" width="1" height="1" fill="#212830" />
<rect x="775" y="112" width="1" height="1" fill="#212830" />
<rect x="774" y="115" width="1" height="1" fill="#212830" />
<rect x="775" y="118" width="1" height="1" fill="#212830" />
<rect x="774" y="121" width="1" height="1" fill="#212830" />
<rect x="760" y="105" width="1" height="1" fill="#212830" />
<rect x="760" y="121" width="1" height="1" fill="#212830" />
<rect x="764" y="110" width="4" height="1" fill="#212830" />
<rect x="767" y="110" width="1" height="6" fill="#212830" />
<rect x="767" y="120" width="2" height="2" fill="#212830" />
<rect x="769" y="101" width="6" height="2" fill="#ffffff" />
<rect x="770" y="102" width="1" height="1" fill="#212830" />
<rect x="780" y="103" width="13" height="21" fill="#ffffff" />
<rect x="794" y="105" width="4" height="18" fill="#ffffff" />
<rect x="794" y="106" width="1" height="1" fill="#212830" />
<rect x="795" y="109" width="1" height="1" fill="#212830" />
<rect x="794" y="112" width="1" height="1" fill="#212830" />
<rect x="795" y="115" width="1" height="1" fill="#212830" />
<rect x="794" y="118" width="1" height="1" fill="#212830" />
<rect x="795" y="121" width="1" height="1" fill="#212830" />
<rect x="781" y="105" width="1" height="1" fill="#212830" />
<rect x="781" y="121" width="1" height="1" fill="#212830" />
<rect x="784" y="110" width="4" height="1" fill="#212830" />
<rect x="787" y="110" width="1" height="6" fill="#212830" />
<rect x="787" y="120" width="2" height="2" fill="#212830" />
<rect x="789" y="101" width="6" height="2" fill="#ffffff" />
<rect x="790" y="102" width="1" height="1" fill="#212830" />
<rect x="362" y="124" width="441" height="1" fill="#ffffff"/>
<rect x="320" y="127" width="133" height="1" fill="#ffffff"/>
<rect x="319" y="128" width="13" height="21" fill="#ffffff" />
<rect x="333" y="130" width="4" height="18" fill="#ffffff" />
<rect x="334" y="131" width="1" height="1" fill="#212830" />
<rect x="333" y="134" width="1" height="1" fill="#212830" />
<rect x="334" y="137" width="1" height="1" fill="#212830" />
<rect x="333" y="140" width="1" height="1" fill="#212830" />
<rect x="334" y="143" width="1" height="1" fill="#212830" />
<rect x="333" y="146" width="1" height="1" fill="#212830" />
<rect x="320" y="130" width="1" height="1" fill="#212830" />
<rect x="320" y="146" width="1" height="1" fill="#212830" />
<rect x="323" y="135" width="4" height="1" fill="#212830" />
<rect x="326" y="135" width="1" height="6" fill="#212830" />
<rect x="326" y="145" width="2" height="2" fill="#212830" />
<rect x="328" y="126" width="6" height="2" fill="#ffffff" />
<rect x="329" y="127" width="1" height="1" fill="#212830" />
<rect x="338" y="128" width="13" height="21" fill="#ffffff" />
<rect x="352" y="130" width="4" height="18" fill="#ffffff" />
<rect x="352" y="131" width="1" height="1" fill="#212830" />
<rect x="353" y="134" width="1" height="1" fill="#212830" />
<rect x="352" y="137" width="1" height="1" fill="#212830" />
<rect x="353" y="140" width="1" height="1" fill="#212830" />
<rect x="352" y="143" width="1" height="1" fill="#212830" />
<rect x="353" y="146" width="1" height="1" fill="#212830" />
<rect x="339" y="130" width="1" height="1" fill="#212830" />
<rect x="339" y="146" width="1" height="1" fill="#212830" />
<rect x="342" y="135" width="4" height="1" fill="#212830" />
<rect x="345" y="135" width="1" height="6" fill="#212830" />
<rect x="345" y="145" width="2" height="2" fill="#212830" />
<rect x="340" y="139" width="3" height="1" fill="#212830" />
<rect x="347" y="126" width="6" height="2" fill="#ffffff" />
<rect x="348" y="127" width="1" height="1" fill="#212830" />
<rect x="357" y="128" width="13" height="21" fill="#ffffff" />
<rect x="371" y="130" width="4" height="18" fill="#ffffff" />
<rect x="372" y="131" width="1" height="1" fill="#212830" />
<rect x="371" y="134" width="1" height="1" fill="#212830" />
<rect x="372" y="137" width="1" height="1" fill="#212830" />
<rect x="371" y="140" width="1" height="1" fill="#212830" />
<rect x="372" y="143" width="1" height="1" fill="#212830" />
<rect x="371" y="146" width="1" height="1" fill="#212830" />
<rect x="358" y="130" width="1" height="1" fill="#212830" />
<rect x="358" y="146" width="1" height="1" fill="#212830" />
<rect x="361" y="135" width="4" height="1" fill="#212830" />
<rect x="364" y="135" width="1" height="6" fill="#212830" />
<rect x="364" y="145" width="2" height="2" fill="#212830" />
<rect x="366" y="126" width="6" height="2" fill="#ffffff" />
<rect x="367" y="127" width="1" height="1" fill="#212830" />
<rect x="376" y="128" width="12" height="21" fill="#ffffff" />
<rect x="389" y="130" width="4" height="18" fill="#ffffff" />
<rect x="389" y="131" width="1" height="1" fill="#212830" />
<rect x="390" y="134" width="1" height="1" fill="#212830" />
<rect x="389" y="137" width="1" height="1" fill="#212830" />
<rect x="390" y="140" width="1" height="1" fill="#212830" />
<rect x="389" y="143" width="1" height="1" fill="#212830" />
<rect x="390" y="146" width="1" height="1" fill="#212830" />
<rect x="377" y="130" width="1" height="1" fill="#212830" />
<rect x="377" y="146" width="1" height="1" fill="#212830" />
<rect x="380" y="135" width="4" height="1" fill="#212830" />
<rect x="383" y="135" width="1" height="6" fill="#212830" />
<rect x="383" y="145" width="2" height="2" fill="#212830" />
<rect x="384" y="126" width="6" height="2" fill="#ffffff" />
<rect x="385" y="127" width="1" height="1" fill="#212830" />
<rect x="394" y="128" width="13" height="21" fill="#ffffff" />
<rect x="408" y="130" width="4" height="18" fill="#ffffff" />
<rect x="409" y="131" width="1" height="1" fill="#212830" />
<rect x="408" y="134" width="1" height="1" fill="#212830" />
<rect x="409" y="137" width="1" height="1" fill="#212830" />
<rect x="408" y="140" width="1" height="1" fill="#212830" />
<rect x="409" y="143" width="1" height="1" fill="#212830" />
<rect x="408" y="146" width="1" height="1" fill="#212830" />
<rect x="395" y="130" width="1" height="1" fill="#212830" />
<rect x="395" y="146" width="1" height="1" fill="#212830" />
<rect x="398" y="135" width="4" height="1" fill="#212830" />
<rect x="401" y="135" width="1" height="6" fill="#212830" />
<rect x="401" y="145" width="2" height="2" fill="#212830" />
<rect x="396" y="139" width="3" height="1" fill="#212830" />
<rect x="403" y="126" width="6" height="2" fill="#ffffff" />
<rect x="404" y="127" width="1" height="1" fill="#212830" />
<rect x="413" y="128" width="13" height="21" fill="#ffffff" />
<rect x="427" y="130" width="4" height="18" fill="#ffffff" />
<rect x="427" y="131" width="1" height="1" fill="#212830" />
<rect x="428" y="134" width="1" height="1" fill="#212830" />
<rect x="427" y="137" width="1" height="1" fill="#212830" />
<rect x="428" y="140" width="1" height="1" fill="#212830" />
<rect x="427" y="143" width="1" height="1" fill="#212830" />
<rect x="428" y="146" width="1" height="1" fill="#212830" />
<rect x="414" y="130" width="1" height="1" fill="#212830" />
<rect x="414" y="146" width="1" height="1" fill="#212830" />
<rect x="417" y="135" width="4" height="1" fill="#212830" />
<rect x="420" y="135" width="1" height="6" fill="#212830" />
<rect x="420" y="145" width="2" height="2" fill="#212830" />
<rect x="422" y="126" width="6" height="2" fill="#ffffff" />
<rect x="423" y="127" width="1" height="1" fill="#212830" />
<rect x="432" y="128" width="13" height="21" fill="#ffffff" />
<rect x="446" y="130" width="4" height="18" fill="#ffffff" />
<rect x="447" y="131" width="1" height="1" fill="#212830" />
<rect x="446" y="134" width="1" height="1" fill="#212830" />
<rect x="447" y="137" width="1" height="1" fill="#212830" />
<rect x="446" y="140" width="1" height="1" fill="#212830" />
<rect x="447" y="143" width="1" height="1" fill="#212830" />
<rect x="446" y="146" width="1" height="1" fill="#212830" />
<rect x="433" y="130" width="1" height="1" fill="#212830" />
<rect x="433" y="146" width="1" height="1" fill="#212830" />
<rect x="436" y="135" width="4" height="1" fill="#212830" />
<rect x="439" y="135" width="1" height="6" fill="#212830" />
<rect x="439" y="145" width="2" height="2" fill="#212830" />
<rect x="441" y="126" width="6" height="2" fill="#ffffff" />
<rect x="442" y="127" width="1" height="1" fill="#212830" />
<rect x="638" y="127" width="206" height="1" fill="#ffffff"/>
<rect x="632" y="129" width="13" height="18" fill="#ffffff" />
<rect x="646" y="131" width="4" height="15" fill="#ffffff" />
<rect x="646" y="132" width="1" height="1" fill="#212830" />
<rect x="647" y="135" width="1" height="1" fill="#212830" />
<rect x="646" y="138" width="1" height="1" fill="#212830" />
<rect x="647" y="141" width="1" height="1" fill="#212830" />
<rect x="646" y="144" width="1" height="1" fill="#212830" />
<rect x="633" y="131" width="1" height="1" fill="#212830" />
<rect x="633" y="144" width="1" height="1" fill="#212830" />
<rect x="636" y="135" width="4" height="1" fill="#212830" />
<rect x="639" y="135" width="1" height="5" fill="#212830" />
<rect x="639" y="143" width="2" height="2" fill="#212830" />
<rect x="641" y="127" width="6" height="2" fill="#ffffff" />
<rect x="642" y="128" width="1" height="1" fill="#212830" />
<rect x="640" y="147" width="8" height="3" fill="url(#blk2)"/>
<rect x="652" y="129" width="14" height="18" fill="#ffffff" />
<rect x="667" y="131" width="4" height="15" fill="#ffffff" />
<rect x="668" y="132" width="1" height="1" fill="#212830" />
<rect x="667" y="135" width="1" height="1" fill="#212830" />
<rect x="668" y="138" width="1" height="1" fill="#212830" />
<rect x="667" y="141" width="1" height="1" fill="#212830" />
<rect x="668" y="144" width="1" height="1" fill="#212830" />
<rect x="653" y="131" width="1" height="1" fill="#212830" />
<rect x="653" y="144" width="1" height="1" fill="#212830" />
<rect x="657" y="135" width="4" height="1" fill="#212830" />
<rect x="660" y="135" width="1" height="5" fill="#212830" />
<rect x="660" y="143" width="2" height="2" fill="#212830" />
<rect x="654" y="138" width="3" height="1" fill="#212830" />
<rect x="662" y="127" width="6" height="2" fill="#ffffff" />
<rect x="663" y="128" width="1" height="1" fill="#212830" />
<rect x="660" y="147" width="9" height="3" fill="url(#blk2)"/>
<rect x="672" y="129" width="13" height="18" fill="#ffffff" />
<rect x="686" y="131" width="4" height="15" fill="#ffffff" />
<rect x="686" y="132" width="1" height="1" fill="#212830" />
<rect x="687" y="135" width="1" height="1" fill="#212830" />
<rect x="686" y="138" width="1" height="1" fill="#212830" />
<rect x="687" y="141" width="1" height="1" fill="#212830" />
<rect x="686" y="144" width="1" height="1" fill="#212830" />
<rect x="673" y="131" width="1" height="1" fill="#212830" />
<rect x="673" y="144" width="1" height="1" fill="#212830" />
<rect x="676" y="135" width="4" height="1" fill="#212830" />
<rect x="679" y="135" width="1" height="5" fill="#212830" />
<rect x="679" y="143" width="2" height="2" fill="#212830" />
<rect x="681" y="127" width="6" height="2" fill="#ffffff" />
<rect x="682" y="128" width="1" height="1" fill="#212830" />
<rect x="680" y="147" width="8" height="3" fill="url(#blk2)"/>
<rect x="700" y="129" width="14" height="18" fill="#ffffff" />
<rect x="715" y="131" width="4" height="15" fill="#ffffff" />
<rect x="716" y="132" width="1" height="1" fill="#212830" />
<rect x="715" y="135" width="1" height="1" fill="#212830" />
<rect x="716" y="138" width="1" height="1" fill="#212830" />
<rect x="715" y="141" width="1" height="1" fill="#212830" />
<rect x="716" y="144" width="1" height="1" fill="#212830" />
<rect x="701" y="131" width="1" height="1" fill="#212830" />
<rect x="701" y="144" width="1" height="1" fill="#212830" />
<rect x="705" y="135" width="4" height="1" fill="#212830" />
<rect x="708" y="135" width="1" height="5" fill="#212830" />
<rect x="708" y="143" width="2" height="2" fill="#212830" />
<rect x="710" y="127" width="6" height="2" fill="#ffffff" />
<rect x="711" y="128" width="1" height="1" fill="#212830" />
<rect x="708" y="147" width="9" height="3" fill="url(#blk2)"/>
<rect x="722" y="129" width="12" height="18" fill="#ffffff" />
<rect x="735" y="131" width="4" height="15" fill="#ffffff" />
<rect x="735" y="132" width="1" height="1" fill="#212830" />
<rect x="736" y="135" width="1" height="1" fill="#212830" />
<rect x="735" y="138" width="1" height="1" fill="#212830" />
<rect x="736" y="141" width="1" height="1" fill="#212830" />
<rect x="735" y="144" width="1" height="1" fill="#212830" />
<rect x="723" y="131" width="1" height="1" fill="#212830" />
<rect x="723" y="144" width="1" height="1" fill="#212830" />
<rect x="726" y="135" width="4" height="1" fill="#212830" />
<rect x="729" y="135" width="1" height="5" fill="#212830" />
<rect x="729" y="143" width="2" height="2" fill="#212830" />
<rect x="724" y="138" width="3" height="1" fill="#212830" />
<rect x="730" y="127" width="6" height="2" fill="#ffffff" />
<rect x="731" y="128" width="1" height="1" fill="#212830" />
<rect x="730" y="147" width="7" height="3" fill="url(#blk2)"/>
<rect x="749" y="129" width="12" height="18" fill="#ffffff" />
<rect x="762" y="131" width="4" height="15" fill="#ffffff" />
<rect x="763" y="132" width="1" height="1" fill="#212830" />
<rect x="762" y="135" width="1" height="1" fill="#212830" />
<rect x="763" y="138" width="1" height="1" fill="#212830" />
<rect x="762" y="141" width="1" height="1" fill="#212830" />
<rect x="763" y="144" width="1" height="1" fill="#212830" />
<rect x="750" y="131" width="1" height="1" fill="#212830" />
<rect x="750" y="144" width="1" height="1" fill="#212830" />
<rect x="753" y="135" width="4" height="1" fill="#212830" />
<rect x="756" y="135" width="1" height="5" fill="#212830" />
<rect x="756" y="143" width="2" height="2" fill="#212830" />
<rect x="757" y="127" width="6" height="2" fill="#ffffff" />
<rect x="758" y="128" width="1" height="1" fill="#212830" />
<rect x="757" y="147" width="7" height="3" fill="url(#blk2)"/>
<rect x="774" y="129" width="13" height="18" fill="#ffffff" />
<rect x="788" y="131" width="4" height="15" fill="#ffffff" />
<rect x="788" y="132" width="1" height="1" fill="#212830" />
<rect x="789" y="135" width="1" height="1" fill="#212830" />
<rect x="788" y="138" width="1" height="1" fill="#212830" />
<rect x="789" y="141" width="1" height="1" fill="#212830" />
<rect x="788" y="144" width="1" height="1" fill="#212830" />
<rect x="775" y="131" width="1" height="1" fill="#212830" />
<rect x="775" y="144" width="1" height="1" fill="#212830" />
<rect x="778" y="135" width="4" height="1" fill="#212830" />
<rect x="781" y="135" width="1" height="5" fill="#212830" />
<rect x="781" y="143" width="2" height="2" fill="#212830" />
<rect x="783" y="127" width="6" height="2" fill="#ffffff" />
<rect x="784" y="128" width="1" height="1" fill="#212830" />
<rect x="782" y="147" width="8" height="3" fill="url(#blk2)"/>
<rect x="795" y="129" width="14" height="18" fill="#ffffff" />
<rect x="810" y="131" width="4" height="15" fill="#ffffff" />
<rect x="811" y="132" width="1" height="1" fill="#212830" />
<rect x="810" y="135" width="1" height="1" fill="#212830" />
<rect x="811" y="138" width="1" height="1" fill="#212830" />
<rect x="810" y="141" width="1" height="1" fill="#212830" />
<rect x="811" y="144" width="1" height="1" fill="#212830" />
<rect x="796" y="131" width="1" height="1" fill="#212830" />
<rect x="796" y="144" width="1" height="1" fill="#212830" />
<rect x="800" y="135" width="4" height="1" fill="#212830" />
<rect x="803" y="135" width="1" height="5" fill="#212830" />
<rect x="803" y="143" width="2" height="2" fill="#212830" />
<rect x="797" y="138" width="3" height="1" fill="#212830" />
<rect x="805" y="127" width="6" height="2" fill="#ffffff" />
<rect x="806" y="128" width="1" height="1" fill="#212830" />
<rect x="803" y="147" width="9" height="3" fill="url(#blk2)"/>
<rect x="816" y="129" width="13" height="18" fill="#ffffff" />
<rect x="830" y="131" width="4" height="15" fill="#ffffff" />
<rect x="830" y="132" width="1" height="1" fill="#212830" />
<rect x="831" y="135" width="1" height="1" fill="#212830" />
<rect x="830" y="138" width="1" height="1" fill="#212830" />
<rect x="831" y="141" width="1" height="1" fill="#212830" />
<rect x="830" y="144" width="1" height="1" fill="#212830" />
<rect x="817" y="131" width="1" height="1" fill="#212830" />
<rect x="817" y="144" width="1" height="1" fill="#212830" />
<rect x="820" y="135" width="4" height="1" fill="#212830" />
<rect x="823" y="135" width="1" height="5" fill="#212830" />
<rect x="823" y="143" width="2" height="2" fill="#212830" />
<rect x="825" y="127" width="6" height="2" fill="#ffffff" />
<rect x="826" y="128" width="1" height="1" fill="#212830" />
<rect x="824" y="147" width="8" height="3" fill="url(#blk2)"/>
<rect x="319" y="169" width="14" height="14" fill="#ffffff" />
<rect x="334" y="171" width="4" height="11" fill="#ffffff" />
<rect x="335" y="172" width="1" height="1" fill="#212830" />
<rect x="334" y="175" width="1" height="1" fill="#212830" />
<rect x="335" y="178" width="1" height="1" fill="#212830" />
<rect x="320" y="171" width="1" height="1" fill="#212830" />
<rect x="320" y="180" width="1" height="1" fill="#212830" />
<rect x="324" y="173" width="4" height="1" fill="#212830" />
<rect x="327" y="173" width="1" height="4" fill="#212830" />
<rect x="327" y="179" width="2" height="2" fill="#212830" />
<rect x="329" y="167" width="6" height="2" fill="#ffffff" />
<rect x="330" y="168" width="1" height="1" fill="#212830" />
<rect x="340" y="170" width="9" height="13" fill="#ffffff" />
<rect x="350" y="172" width="2" height="10" fill="#ffffff" />
<rect x="350" y="173" width="1" height="1" fill="#212830" />
<rect x="351" y="176" width="1" height="1" fill="#212830" />
<rect x="350" y="179" width="1" height="1" fill="#212830" />
<rect x="341" y="172" width="1" height="1" fill="#212830" />
<rect x="341" y="180" width="1" height="1" fill="#212830" />
<rect x="342" y="174" width="4" height="1" fill="#212830" />
<rect x="345" y="174" width="1" height="3" fill="#212830" />
<rect x="345" y="179" width="2" height="2" fill="#212830" />
<rect x="341" y="177" width="3" height="1" fill="#212830" />
<rect x="345" y="168" width="6" height="2" fill="#ffffff" />
<rect x="346" y="169" width="1" height="1" fill="#212830" />
<rect x="361" y="169" width="8" height="14" fill="#ffffff" />
<rect x="370" y="171" width="2" height="11" fill="#ffffff" />
<rect x="371" y="172" width="1" height="1" fill="#212830" />
<rect x="370" y="175" width="1" height="1" fill="#212830" />
<rect x="371" y="178" width="1" height="1" fill="#212830" />
<rect x="362" y="171" width="1" height="1" fill="#212830" />
<rect x="362" y="180" width="1" height="1" fill="#212830" />
<rect x="363" y="173" width="4" height="1" fill="#212830" />
<rect x="366" y="173" width="1" height="4" fill="#212830" />
<rect x="365" y="179" width="2" height="2" fill="#212830" />
<rect x="365" y="167" width="6" height="2" fill="#ffffff" />
<rect x="366" y="168" width="1" height="1" fill="#212830" />
<rect x="337" y="180" width="2" height="3" fill="#ff0000" />
<rect x="371" y="184" width="112" height="1" fill="#ffffff"/>
<rect x="371" y="186" width="12" height="17" fill="#ffffff" />
<rect x="384" y="188" width="3" height="14" fill="#ffffff" />
<rect x="385" y="189" width="1" height="1" fill="#212830" />
<rect x="384" y="192" width="1" height="1" fill="#212830" />
<rect x="385" y="195" width="1" height="1" fill="#212830" />
<rect x="384" y="198" width="1" height="1" fill="#212830" />
<rect x="372" y="188" width="1" height="1" fill="#212830" />
<rect x="372" y="200" width="1" height="1" fill="#212830" />
<rect x="375" y="191" width="4" height="1" fill="#212830" />
<rect x="378" y="191" width="1" height="5" fill="#212830" />
<rect x="378" y="199" width="2" height="2" fill="#212830" />
<rect x="379" y="184" width="6" height="2" fill="#ffffff" />
<rect x="380" y="185" width="1" height="1" fill="#212830" />
<rect x="390" y="186" width="12" height="17" fill="#ffffff" />
<rect x="403" y="188" width="4" height="14" fill="#ffffff" />
<rect x="403" y="189" width="1" height="1" fill="#212830" />
<rect x="404" y="192" width="1" height="1" fill="#212830" />
<rect x="403" y="195" width="1" height="1" fill="#212830" />
<rect x="404" y="198" width="1" height="1" fill="#212830" />
<rect x="391" y="188" width="1" height="1" fill="#212830" />
<rect x="391" y="200" width="1" height="1" fill="#212830" />
<rect x="394" y="191" width="4" height="1" fill="#212830" />
<rect x="397" y="191" width="1" height="5" fill="#212830" />
<rect x="397" y="199" width="2" height="2" fill="#212830" />
<rect x="392" y="195" width="3" height="1" fill="#212830" />
<rect x="398" y="184" width="6" height="2" fill="#ffffff" />
<rect x="399" y="185" width="1" height="1" fill="#212830" />
<rect x="410" y="186" width="12" height="17" fill="#ffffff" />
<rect x="423" y="188" width="3" height="14" fill="#ffffff" />
<rect x="424" y="189" width="1" height="1" fill="#212830" />
<rect x="423" y="192" width="1" height="1" fill="#212830" />
<rect x="424" y="195" width="1" height="1" fill="#212830" />
<rect x="423" y="198" width="1" height="1" fill="#212830" />
<rect x="411" y="188" width="1" height="1" fill="#212830" />
<rect x="411" y="200" width="1" height="1" fill="#212830" />
<rect x="414" y="191" width="4" height="1" fill="#212830" />
<rect x="417" y="191" width="1" height="5" fill="#212830" />
<rect x="417" y="199" width="2" height="2" fill="#212830" />
<rect x="418" y="184" width="6" height="2" fill="#ffffff" />
<rect x="419" y="185" width="1" height="1" fill="#212830" />
<rect x="429" y="186" width="12" height="17" fill="#ffffff" />
<rect x="442" y="188" width="4" height="14" fill="#ffffff" />
<rect x="442" y="189" width="1" height="1" fill="#212830" />
<rect x="443" y="192" width="1" height="1" fill="#212830" />
<rect x="442" y="195" width="1" height="1" fill="#212830" />
<rect x="443" y="198" width="1" height="1" fill="#212830" />
<rect x="430" y="188" width="1" height="1" fill="#212830" />
<rect x="430" y="200" width="1" height="1" fill="#212830" />
<rect x="433" y="191" width="4" height="1" fill="#212830" />
<rect x="436" y="191" width="1" height="5" fill="#212830" />
<rect x="436" y="199" width="2" height="2" fill="#212830" />
<rect x="437" y="184" width="6" height="2" fill="#ffffff" />
<rect x="438" y="185" width="1" height="1" fill="#212830" />
<rect x="449" y="186" width="12" height="17" fill="#ffffff" />
<rect x="462" y="188" width="3" height="14" fill="#ffffff" />
<rect x="463" y="189" width="1" height="1" fill="#212830" />
<rect x="462" y="192" width="1" height="1" fill="#212830" />
<rect x="463" y="195" width="1" height="1" fill="#212830" />
<rect x="462" y="198" width="1" height="1" fill="#212830" />
<rect x="450" y="188" width="1" height="1" fill="#212830" />
<rect x="450" y="200" width="1" height="1" fill="#212830" />
<rect x="453" y="191" width="4" height="1" fill="#212830" />
<rect x="456" y="191" width="1" height="5" fill="#212830" />
<rect x="456" y="199" width="2" height="2" fill="#212830" />
<rect x="451" y="195" width="3" height="1" fill="#212830" />
<rect x="457" y="184" width="6" height="2" fill="#ffffff" />
<rect x="458" y="185" width="1" height="1" fill="#212830" />
<rect x="375" y="203" width="85" height="3" fill="url(#blk2)"/>
<rect x="493" y="161" width="23" height="19" fill="url(#rows)"/>
<rect x="493" y="161" width="1" height="20" fill="#ffffff"/>
<rect x="502" y="161" width="1" height="20" fill="#ffffff"/>
<rect x="519" y="161" width="16" height="21" fill="#ffffff" />
<rect x="536" y="163" width="5" height="18" fill="#ffffff" />
<rect x="537" y="164" width="1" height="1" fill="#212830" />
<rect x="536" y="167" width="1" height="1" fill="#212830" />
<rect x="537" y="170" width="1" height="1" fill="#212830" />
<rect x="536" y="173" width="1" height="1" fill="#212830" />
<rect x="537" y="176" width="1" height="1" fill="#212830" />
<rect x="536" y="179" width="1" height="1" fill="#212830" />
<rect x="520" y="163" width="1" height="1" fill="#212830" />
<rect x="520" y="179" width="1" height="1" fill="#212830" />
<rect x="525" y="168" width="4" height="1" fill="#212830" />
<rect x="528" y="168" width="1" height="6" fill="#212830" />
<rect x="528" y="178" width="2" height="2" fill="#212830" />
<rect x="522" y="172" width="3" height="1" fill="#212830" />
<rect x="531" y="159" width="6" height="2" fill="#ffffff" />
<rect x="532" y="160" width="1" height="1" fill="#212830" />
<rect x="545" y="163" width="43" height="18" fill="url(#rows)"/>
<rect x="502" y="184" width="75" height="1" fill="#ffffff"/>
<rect x="504" y="184" width="1" height="25" fill="#ffffff"/>
<rect x="472" y="208" width="33" height="1" fill="#ffffff"/>
<rect x="506" y="193" width="12" height="6" fill="#ffffff" />
<rect x="352" y="209" width="13" height="3" fill="#ffffff" />
<rect x="793" y="203" width="57" height="1" fill="#00ffff"/>
<rect x="793" y="203" width="1" height="13" fill="#00ffff"/>
<rect x="821" y="203" width="1" height="13" fill="#ffffff"/>
<rect x="841" y="203" width="1" height="5" fill="#ffffff"/>
<rect x="793" y="207" width="57" height="1" fill="#ffffff"/>
<rect x="794" y="209" width="27" height="1" fill="#ffffff"/>
<rect x="794" y="211" width="27" height="1" fill="#ffffff"/>
<rect x="794" y="213" width="27" height="1" fill="#ffffff"/>
<rect x="805" y="207" width="1" height="9" fill="#ffffff"/>
<rect x="815" y="207" width="1" height="9" fill="#ffffff"/>
<rect x="795" y="208" width="1" height="7" fill="#ff0000" />
<rect x="798" y="208" width="1" height="7" fill="#ff0000" />
<rect x="793" y="215" width="57" height="1" fill="#ffffff"/>
<rect x="822" y="213" width="27" height="1" fill="#ffffff"/>
<rect x="829" y="209" width="12" height="2" fill="#ffffff" />
<rect x="838" y="205" width="3" height="2" fill="#ff0000" />
<rect x="844" y="205" width="2" height="1" fill="#ff0000" />
<rect x="846" y="204" width="2" height="3" fill="#ff0000" />
<rect x="824" y="215" width="1" height="-1" fill="#ffffff" />
<rect x="829" y="215" width="1" height="-1" fill="#ffffff" />
<rect x="834" y="215" width="1" height="-1" fill="#ffffff" />
<rect x="839" y="215" width="1" height="-1" fill="#ffffff" />
<rect x="844" y="215" width="1" height="-1" fill="#ffffff" />
<rect x="870" y="86" width="185" height="1" fill="#ff0000"/>
<rect x="870" y="216" width="185" height="1" fill="#ff0000"/>
<rect x="870" y="86" width="1" height="131" fill="#ff0000"/>
<rect x="1054" y="86" width="1" height="131" fill="#ff0000"/>
<rect x="878" y="89" width="174" height="1" fill="#00ffff"/>
<rect x="878" y="213" width="174" height="1" fill="#00ffff"/>
<rect x="878" y="89" width="1" height="125" fill="#00ffff"/>
<rect x="1051" y="89" width="1" height="125" fill="#00ffff"/>
<rect x="870" y="89" width="9" height="38" fill="#ffffff" />
<rect x="873" y="90" width="1" height="3" fill="#212830"/>
<rect x="873" y="95" width="1" height="3" fill="#212830"/>
<rect x="873" y="99" width="1" height="3" fill="#212830"/>
<rect x="873" y="104" width="1" height="14" fill="#212830"/>
<rect x="873" y="119" width="1" height="3" fill="#212830"/>
<rect x="873" y="123" width="1" height="2" fill="#212830"/>
<rect x="875" y="90" width="1" height="3" fill="#212830"/>
<rect x="875" y="95" width="1" height="3" fill="#212830"/>
<rect x="875" y="99" width="1" height="3" fill="#212830"/>
<rect x="875" y="104" width="1" height="14" fill="#212830"/>
<rect x="875" y="119" width="1" height="3" fill="#212830"/>
<rect x="875" y="123" width="1" height="2" fill="#212830"/>
<rect x="877" y="90" width="1" height="3" fill="#212830"/>
<rect x="877" y="95" width="1" height="3" fill="#212830"/>
<rect x="877" y="99" width="1" height="3" fill="#212830"/>
<rect x="877" y="104" width="1" height="14" fill="#212830"/>
<rect x="877" y="119" width="1" height="3" fill="#212830"/>
<rect x="877" y="123" width="1" height="2" fill="#212830"/>
<rect x="871" y="92" width="1" height="1" fill="#212830"/>
<rect x="871" y="96" width="1" height="1" fill="#212830"/>
<rect x="871" y="101" width="1" height="1" fill="#212830"/>
<rect x="871" y="104" width="1" height="1" fill="#212830"/>
<rect x="871" y="106" width="1" height="1" fill="#212830"/>
<rect x="871" y="108" width="1" height="1" fill="#212830"/>
<rect x="871" y="111" width="1" height="1" fill="#212830"/>
<rect x="871" y="113" width="1" height="1" fill="#212830"/>
<rect x="871" y="117" width="1" height="1" fill="#212830"/>
<rect x="871" y="121" width="1" height="1" fill="#212830"/>
<rect x="870" y="196" width="9" height="18" fill="#ffffff" />
<rect x="873" y="197" width="1" height="3" fill="#212830"/>
<rect x="873" y="202" width="1" height="5" fill="#212830"/>
<rect x="873" y="208" width="1" height="4" fill="#212830"/>
<rect x="875" y="197" width="1" height="3" fill="#212830"/>
<rect x="875" y="202" width="1" height="5" fill="#212830"/>
<rect x="875" y="208" width="1" height="4" fill="#212830"/>
<rect x="877" y="197" width="1" height="3" fill="#212830"/>
<rect x="877" y="202" width="1" height="5" fill="#212830"/>
<rect x="877" y="208" width="1" height="4" fill="#212830"/>
<rect x="871" y="198" width="1" height="1" fill="#212830"/>
<rect x="871" y="203" width="1" height="1" fill="#212830"/>
<rect x="871" y="206" width="1" height="1" fill="#212830"/>
<rect x="871" y="211" width="1" height="1" fill="#212830"/>
<path d="M0,24 L7,0 L14,24 M2.3,16 L11.7,16" transform="translate(872.30,60.30) scale(1.0000)" fill="none" stroke="#fff" stroke-width="1.150" stroke-linejoin="round"/>
<path d="M1.3,6 C1.3,2.5 3,0 5.5,0 L8.5,0 C11,0 12.3,2 12.3,4.5 L12.3,7.5 C12.3,9 11.5,10.3 10.5,11.4 L0.3,24 L13.6,24" transform="translate(892.30,60.30) scale(1.0000)" fill="none" stroke="#fff" stroke-width="1.150" stroke-linejoin="round"/>
<rect x="904" y="100" width="112" height="1" fill="#ffffff"/>
<rect x="904" y="192" width="112" height="1" fill="#ffffff"/>
<rect x="904" y="100" width="1" height="93" fill="#ffffff"/>
<rect x="1015" y="100" width="1" height="93" fill="#ffffff"/>
<rect x="905" y="101" width="110" height="1" fill="#ffffff"/>
<rect x="905" y="191" width="110" height="1" fill="#ffffff"/>
<rect x="905" y="101" width="1" height="91" fill="#ffffff"/>
<rect x="1014" y="101" width="1" height="91" fill="#ffffff"/>
<rect x="906" y="102" width="108" height="2" fill="#ffffff" />
<rect x="908" y="102" width="1" height="1" fill="#212830" />
<rect x="914" y="102" width="1" height="1" fill="#212830" />
<rect x="920" y="102" width="1" height="1" fill="#212830" />
<rect x="926" y="102" width="1" height="1" fill="#212830" />
<rect x="932" y="102" width="1" height="1" fill="#212830" />
<rect x="938" y="102" width="1" height="1" fill="#212830" />
<rect x="944" y="102" width="1" height="1" fill="#212830" />
<rect x="950" y="102" width="1" height="1" fill="#212830" />
<rect x="956" y="102" width="1" height="1" fill="#212830" />
<rect x="962" y="102" width="1" height="1" fill="#212830" />
<rect x="968" y="102" width="1" height="1" fill="#212830" />
<rect x="974" y="102" width="1" height="1" fill="#212830" />
<rect x="980" y="102" width="1" height="1" fill="#212830" />
<rect x="986" y="102" width="1" height="1" fill="#212830" />
<rect x="992" y="102" width="1" height="1" fill="#212830" />
<rect x="998" y="102" width="1" height="1" fill="#212830" />
<rect x="1004" y="102" width="1" height="1" fill="#212830" />
<rect x="1010" y="102" width="1" height="1" fill="#212830" />
<rect x="904" y="105" width="112" height="1" fill="#ffffff"/>
<rect x="904" y="106" width="112" height="1" fill="#ffffff"/>
<rect x="904" y="107" width="112" height="1" fill="#ffffff"/>
<rect x="904" y="137" width="112" height="1" fill="#ffffff"/>
<rect x="906" y="138" width="108" height="5" fill="url(#rows)"/>
<rect x="906" y="144" width="108" height="47" fill="url(#rows2)"/>
<rect x="904" y="100" width="1" height="93" fill="#ffffff"/>
<rect x="905" y="100" width="1" height="93" fill="#ffffff"/>
<rect x="917" y="100" width="1" height="93" fill="#ffffff"/>
<rect x="918" y="100" width="1" height="93" fill="#ffffff"/>
<rect x="930" y="100" width="1" height="93" fill="#ffffff"/>
<rect x="931" y="100" width="1" height="93" fill="#ffffff"/>
<rect x="942" y="100" width="1" height="93" fill="#ffffff"/>
<rect x="943" y="100" width="1" height="93" fill="#ffffff"/>
<rect x="954" y="100" width="1" height="93" fill="#ffffff"/>
<rect x="955" y="100" width="1" height="93" fill="#ffffff"/>
<rect x="967" y="100" width="1" height="93" fill="#ffffff"/>
<rect x="968" y="100" width="1" height="93" fill="#ffffff"/>
<rect x="979" y="100" width="1" height="93" fill="#ffffff"/>
<rect x="980" y="100" width="1" height="93" fill="#ffffff"/>
<rect x="991" y="100" width="1" height="93" fill="#ffffff"/>
<rect x="992" y="100" width="1" height="93" fill="#ffffff"/>
<rect x="1003" y="100" width="1" height="93" fill="#ffffff"/>
<rect x="1004" y="100" width="1" height="93" fill="#ffffff"/>
<rect x="1014" y="100" width="1" height="93" fill="#ffffff"/>
<rect x="1015" y="100" width="1" height="93" fill="#ffffff"/>
<rect x="924" y="108" width="1" height="29" fill="#ffffff"/>
<rect x="921" y="110" width="6" height="1" fill="#ffffff" />
<path d="M921,112 L927,118 M927,112 L921,118" stroke="#fff" stroke-width="1.3"/>
<rect x="920" y="118" width="8" height="5" fill="#ffffff" />
<rect x="923" y="119" width="2" height="2" fill="#212830" />
<rect x="920" y="125" width="9" height="6" fill="#ffffff" />
<rect x="921" y="128" width="1" height="2" fill="#212830" />
<rect x="924" y="126" width="1" height="2" fill="#212830" />
<rect x="927" y="128" width="1" height="2" fill="#212830" />
<rect x="935" y="108" width="1" height="22" fill="#ffffff"/>
<rect x="939" y="111" width="1" height="15" fill="#ffffff"/>
<rect x="933" y="125" width="9" height="1" fill="#ffffff"/>
<rect x="933" y="113" width="5" height="1" fill="#ffffff"/>
<rect x="933" y="119" width="5" height="1" fill="#ffffff"/>
<rect x="933" y="113" width="1" height="7" fill="#ffffff"/>
<rect x="937" y="113" width="1" height="7" fill="#ffffff"/>
<rect x="938" y="117" width="4" height="1" fill="#ffffff"/>
<rect x="938" y="123" width="4" height="1" fill="#ffffff"/>
<rect x="938" y="117" width="1" height="7" fill="#ffffff"/>
<rect x="941" y="117" width="1" height="7" fill="#ffffff"/>
<rect x="933" y="121" width="3" height="4" fill="#ffffff" />
<rect x="947" y="108" width="1" height="22" fill="#ffffff"/>
<rect x="951" y="111" width="1" height="15" fill="#ffffff"/>
<rect x="945" y="125" width="9" height="1" fill="#ffffff"/>
<rect x="945" y="113" width="5" height="1" fill="#ffffff"/>
<rect x="945" y="119" width="5" height="1" fill="#ffffff"/>
<rect x="945" y="113" width="1" height="7" fill="#ffffff"/>
<rect x="949" y="113" width="1" height="7" fill="#ffffff"/>
<rect x="950" y="117" width="4" height="1" fill="#ffffff"/>
<rect x="950" y="123" width="4" height="1" fill="#ffffff"/>
<rect x="950" y="117" width="1" height="7" fill="#ffffff"/>
<rect x="953" y="117" width="1" height="7" fill="#ffffff"/>
<rect x="945" y="121" width="3" height="4" fill="#ffffff" />
<rect x="961" y="108" width="1" height="29" fill="#ffffff"/>
<rect x="958" y="110" width="6" height="1" fill="#ffffff" />
<path d="M958,112 L964,118 M964,112 L958,118" stroke="#fff" stroke-width="1.3"/>
<rect x="957" y="118" width="8" height="5" fill="#ffffff" />
<rect x="960" y="119" width="2" height="2" fill="#212830" />
<rect x="957" y="125" width="9" height="6" fill="#ffffff" />
<rect x="958" y="126" width="1" height="2" fill="#212830" />
<rect x="961" y="128" width="1" height="2" fill="#212830" />
<rect x="964" y="126" width="1" height="2" fill="#212830" />
<rect x="974" y="108" width="1" height="29" fill="#ffffff"/>
<rect x="971" y="110" width="6" height="1" fill="#ffffff" />
<path d="M971,112 L977,118 M977,112 L971,118" stroke="#fff" stroke-width="1.3"/>
<rect x="970" y="118" width="8" height="5" fill="#ffffff" />
<rect x="973" y="119" width="2" height="2" fill="#212830" />
<rect x="970" y="125" width="8" height="6" fill="#ffffff" />
<rect x="971" y="128" width="1" height="2" fill="#212830" />
<rect x="974" y="126" width="1" height="2" fill="#212830" />
<rect x="977" y="128" width="1" height="2" fill="#212830" />
<rect x="986" y="108" width="1" height="29" fill="#ffffff"/>
<rect x="983" y="110" width="6" height="1" fill="#ffffff" />
<path d="M983,112 L989,118 M989,112 L983,118" stroke="#fff" stroke-width="1.3"/>
<rect x="982" y="118" width="8" height="5" fill="#ffffff" />
<rect x="985" y="119" width="2" height="2" fill="#212830" />
<rect x="982" y="125" width="8" height="6" fill="#ffffff" />
<rect x="983" y="128" width="1" height="2" fill="#212830" />
<rect x="986" y="126" width="1" height="2" fill="#212830" />
<rect x="989" y="128" width="1" height="2" fill="#212830" />
<rect x="998" y="108" width="1" height="29" fill="#ffffff"/>
<rect x="995" y="110" width="6" height="1" fill="#ffffff" />
<path d="M995,112 L1001,118 M1001,112 L995,118" stroke="#fff" stroke-width="1.3"/>
<rect x="994" y="118" width="8" height="5" fill="#ffffff" />
<rect x="997" y="119" width="2" height="2" fill="#212830" />
<rect x="994" y="125" width="8" height="6" fill="#ffffff" />
<rect x="995" y="128" width="1" height="2" fill="#212830" />
<rect x="998" y="126" width="1" height="2" fill="#212830" />
<rect x="1001" y="128" width="1" height="2" fill="#212830" />
<rect x="1009" y="108" width="1" height="29" fill="#ffffff"/>
<rect x="1006" y="110" width="6" height="1" fill="#ffffff" />
<path d="M1006,112 L1012,118 M1012,112 L1006,118" stroke="#fff" stroke-width="1.3"/>
<rect x="1005" y="118" width="8" height="5" fill="#ffffff" />
<rect x="1008" y="119" width="2" height="2" fill="#212830" />
<rect x="1006" y="125" width="7" height="6" fill="#ffffff" />
<rect x="1007" y="128" width="1" height="2" fill="#212830" />
<rect x="1010" y="126" width="1" height="2" fill="#212830" />
<rect x="908" y="149" width="105" height="2" fill="#212830" />
<rect x="908" y="149" width="105" height="2" fill="url(#rows3)"/>
<rect x="908" y="169" width="105" height="3" fill="#212830" />
<rect x="908" y="169" width="105" height="3" fill="url(#rows3)"/>
<rect x="922" y="163" width="3" height="2" fill="#ff0000" />
<rect x="946" y="163" width="3" height="2" fill="#ff0000" />
<rect x="959" y="163" width="3" height="2" fill="#ff0000" />
<rect x="971" y="163" width="3" height="2" fill="#ff0000" />
<rect x="983" y="163" width="3" height="2" fill="#ff0000" />
<rect x="995" y="163" width="3" height="2" fill="#ff0000" />
<rect x="922" y="177" width="3" height="2" fill="#ff0000" />
<rect x="906" y="145" width="2" height="37" fill="#212830" />
<rect x="906" y="108" width="10" height="28" fill="#212830" />
<rect x="910" y="110" width="1" height="16" fill="#ffffff"/>
<rect x="907" y="126" width="8" height="2" fill="#ffffff" />
<rect x="995" y="200" width="1" height="14" fill="#00ffff"/>
<rect x="1023" y="200" width="1" height="14" fill="#ffffff"/>
<rect x="1043" y="200" width="1" height="5" fill="#ffffff"/>
<rect x="995" y="204" width="57" height="1" fill="#ffffff"/>
<rect x="996" y="206" width="27" height="1" fill="#ffffff"/>
<rect x="996" y="208" width="27" height="1" fill="#ffffff"/>
<rect x="996" y="211" width="27" height="1" fill="#ffffff"/>
<rect x="1007" y="204" width="1" height="10" fill="#ffffff"/>
<rect x="1017" y="204" width="1" height="10" fill="#ffffff"/>
<rect x="997" y="205" width="1" height="8" fill="#ff0000" />
<rect x="1000" y="205" width="1" height="8" fill="#ff0000" />
<rect x="995" y="213" width="57" height="1" fill="#ffffff"/>
<rect x="1024" y="210" width="27" height="1" fill="#ffffff"/>
<rect x="1031" y="206" width="12" height="2" fill="#ffffff" />
<rect x="1040" y="202" width="3" height="2" fill="#ff0000" />
<rect x="1046" y="202" width="2" height="1" fill="#ff0000" />
<rect x="1048" y="201" width="2" height="3" fill="#ff0000" />
<rect x="1026" y="212" width="1" height="0" fill="#ffffff" />
<rect x="1031" y="212" width="1" height="0" fill="#ffffff" />
<rect x="1036" y="212" width="1" height="0" fill="#ffffff" />
<rect x="1041" y="212" width="1" height="0" fill="#ffffff" />
<rect x="1046" y="212" width="1" height="0" fill="#ffffff" />
<rect x="1071" y="88" width="185" height="1" fill="#ff0000"/>
<rect x="1071" y="218" width="185" height="1" fill="#ff0000"/>
<rect x="1071" y="88" width="1" height="131" fill="#ff0000"/>
<rect x="1255" y="88" width="1" height="131" fill="#ff0000"/>
<rect x="1079" y="91" width="175" height="1" fill="#00ffff"/>
<rect x="1079" y="215" width="175" height="1" fill="#00ffff"/>
<rect x="1079" y="91" width="1" height="125" fill="#00ffff"/>
<rect x="1253" y="91" width="1" height="125" fill="#00ffff"/>
<rect x="1071" y="91" width="9" height="39" fill="#ffffff" />
<rect x="1074" y="92" width="1" height="4" fill="#212830"/>
<rect x="1074" y="97" width="1" height="3" fill="#212830"/>
<rect x="1074" y="101" width="1" height="4" fill="#212830"/>
<rect x="1074" y="106" width="1" height="15" fill="#212830"/>
<rect x="1074" y="122" width="1" height="2" fill="#212830"/>
<rect x="1074" y="126" width="1" height="2" fill="#212830"/>
<rect x="1076" y="92" width="1" height="4" fill="#212830"/>
<rect x="1076" y="97" width="1" height="3" fill="#212830"/>
<rect x="1076" y="101" width="1" height="4" fill="#212830"/>
<rect x="1076" y="106" width="1" height="15" fill="#212830"/>
<rect x="1076" y="122" width="1" height="2" fill="#212830"/>
<rect x="1076" y="126" width="1" height="2" fill="#212830"/>
<rect x="1078" y="92" width="1" height="4" fill="#212830"/>
<rect x="1078" y="97" width="1" height="3" fill="#212830"/>
<rect x="1078" y="101" width="1" height="4" fill="#212830"/>
<rect x="1078" y="106" width="1" height="15" fill="#212830"/>
<rect x="1078" y="122" width="1" height="2" fill="#212830"/>
<rect x="1078" y="126" width="1" height="2" fill="#212830"/>
<rect x="1072" y="94" width="1" height="1" fill="#212830"/>
<rect x="1072" y="98" width="1" height="1" fill="#212830"/>
<rect x="1072" y="103" width="1" height="1" fill="#212830"/>
<rect x="1072" y="107" width="1" height="1" fill="#212830"/>
<rect x="1072" y="108" width="1" height="1" fill="#212830"/>
<rect x="1072" y="110" width="1" height="1" fill="#212830"/>
<rect x="1072" y="113" width="1" height="1" fill="#212830"/>
<rect x="1072" y="116" width="1" height="1" fill="#212830"/>
<rect x="1072" y="120" width="1" height="1" fill="#212830"/>
<rect x="1072" y="124" width="1" height="1" fill="#212830"/>
<rect x="1071" y="198" width="9" height="18" fill="#ffffff" />
<rect x="1074" y="199" width="1" height="3" fill="#212830"/>
<rect x="1074" y="204" width="1" height="5" fill="#212830"/>
<rect x="1074" y="210" width="1" height="4" fill="#212830"/>
<rect x="1076" y="199" width="1" height="3" fill="#212830"/>
<rect x="1076" y="204" width="1" height="5" fill="#212830"/>
<rect x="1076" y="210" width="1" height="4" fill="#212830"/>
<rect x="1078" y="199" width="1" height="3" fill="#212830"/>
<rect x="1078" y="204" width="1" height="5" fill="#212830"/>
<rect x="1078" y="210" width="1" height="4" fill="#212830"/>
<rect x="1072" y="200" width="1" height="1" fill="#212830"/>
<rect x="1072" y="205" width="1" height="1" fill="#212830"/>
<rect x="1072" y="208" width="1" height="1" fill="#212830"/>
<rect x="1072" y="213" width="1" height="1" fill="#212830"/>
<path d="M0,24 L7,0 L14,24 M2.3,16 L11.7,16" transform="translate(1072.60,62.40) scale(1.0125)" fill="none" stroke="#fff" stroke-width="1.136" stroke-linejoin="round"/>
<path d="M1.3,6 C1.3,2.5 3,0 5.5,0 L8.5,0 C11,0 12.3,2 12.3,4.5 L12.3,7.5 C12.3,9 11.5,10.3 10.5,11.4 L0.3,24 L13.6,24" transform="translate(1092.85,62.40) scale(1.0125)" fill="none" stroke="#fff" stroke-width="1.136" stroke-linejoin="round"/>
<rect x="1106" y="103" width="113" height="1" fill="#ffffff"/>
<rect x="1106" y="194" width="113" height="1" fill="#ffffff"/>
<rect x="1106" y="103" width="1" height="92" fill="#ffffff"/>
<rect x="1218" y="103" width="1" height="92" fill="#ffffff"/>
<rect x="1107" y="104" width="111" height="1" fill="#ffffff"/>
<rect x="1107" y="193" width="111" height="1" fill="#ffffff"/>
<rect x="1107" y="104" width="1" height="90" fill="#ffffff"/>
<rect x="1217" y="104" width="1" height="90" fill="#ffffff"/>
<rect x="1108" y="105" width="109" height="2" fill="#ffffff" />
<rect x="1110" y="105" width="1" height="1" fill="#212830" />
<rect x="1116" y="105" width="1" height="1" fill="#212830" />
<rect x="1122" y="105" width="1" height="1" fill="#212830" />
<rect x="1128" y="105" width="1" height="1" fill="#212830" />
<rect x="1134" y="105" width="1" height="1" fill="#212830" />
<rect x="1140" y="105" width="1" height="1" fill="#212830" />
<rect x="1146" y="105" width="1" height="1" fill="#212830" />
<rect x="1152" y="105" width="1" height="1" fill="#212830" />
<rect x="1158" y="105" width="1" height="1" fill="#212830" />
<rect x="1164" y="105" width="1" height="1" fill="#212830" />
<rect x="1170" y="105" width="1" height="1" fill="#212830" />
<rect x="1176" y="105" width="1" height="1" fill="#212830" />
<rect x="1182" y="105" width="1" height="1" fill="#212830" />
<rect x="1188" y="105" width="1" height="1" fill="#212830" />
<rect x="1194" y="105" width="1" height="1" fill="#212830" />
<rect x="1200" y="105" width="1" height="1" fill="#212830" />
<rect x="1206" y="105" width="1" height="1" fill="#212830" />
<rect x="1212" y="105" width="1" height="1" fill="#212830" />
<rect x="1106" y="108" width="113" height="1" fill="#ffffff"/>
<rect x="1106" y="109" width="113" height="1" fill="#ffffff"/>
<rect x="1106" y="110" width="113" height="1" fill="#ffffff"/>
<rect x="1106" y="140" width="113" height="1" fill="#ffffff"/>
<rect x="1108" y="141" width="109" height="5" fill="url(#rows)"/>
<rect x="1108" y="147" width="109" height="46" fill="url(#rows2)"/>
<rect x="1106" y="103" width="1" height="92" fill="#ffffff"/>
<rect x="1107" y="103" width="1" height="92" fill="#ffffff"/>
<rect x="1120" y="103" width="1" height="92" fill="#ffffff"/>
<rect x="1121" y="103" width="1" height="92" fill="#ffffff"/>
<rect x="1132" y="103" width="1" height="92" fill="#ffffff"/>
<rect x="1133" y="103" width="1" height="92" fill="#ffffff"/>
<rect x="1145" y="103" width="1" height="92" fill="#ffffff"/>
<rect x="1146" y="103" width="1" height="92" fill="#ffffff"/>
<rect x="1157" y="103" width="1" height="92" fill="#ffffff"/>
<rect x="1158" y="103" width="1" height="92" fill="#ffffff"/>
<rect x="1169" y="103" width="1" height="92" fill="#ffffff"/>
<rect x="1170" y="103" width="1" height="92" fill="#ffffff"/>
<rect x="1181" y="103" width="1" height="92" fill="#ffffff"/>
<rect x="1182" y="103" width="1" height="92" fill="#ffffff"/>
<rect x="1194" y="103" width="1" height="92" fill="#ffffff"/>
<rect x="1195" y="103" width="1" height="92" fill="#ffffff"/>
<rect x="1206" y="103" width="1" height="92" fill="#ffffff"/>
<rect x="1207" y="103" width="1" height="92" fill="#ffffff"/>
<rect x="1217" y="103" width="1" height="92" fill="#ffffff"/>
<rect x="1218" y="103" width="1" height="92" fill="#ffffff"/>
<rect x="1127" y="111" width="1" height="29" fill="#ffffff"/>
<rect x="1124" y="113" width="6" height="1" fill="#ffffff" />
<path d="M1124,115 L1130,121 M1130,115 L1124,121" stroke="#fff" stroke-width="1.3"/>
<rect x="1123" y="121" width="8" height="5" fill="#ffffff" />
<rect x="1126" y="122" width="2" height="2" fill="#212830" />
<rect x="1123" y="128" width="8" height="6" fill="#ffffff" />
<rect x="1124" y="129" width="1" height="2" fill="#212830" />
<rect x="1127" y="131" width="1" height="2" fill="#212830" />
<rect x="1130" y="129" width="1" height="2" fill="#212830" />
<rect x="1139" y="111" width="1" height="29" fill="#ffffff"/>
<rect x="1136" y="113" width="6" height="1" fill="#ffffff" />
<path d="M1136,115 L1142,121 M1142,115 L1136,121" stroke="#fff" stroke-width="1.3"/>
<rect x="1135" y="121" width="8" height="5" fill="#ffffff" />
<rect x="1138" y="122" width="2" height="2" fill="#212830" />
<rect x="1135" y="128" width="9" height="6" fill="#ffffff" />
<rect x="1136" y="129" width="1" height="2" fill="#212830" />
<rect x="1139" y="131" width="1" height="2" fill="#212830" />
<rect x="1142" y="129" width="1" height="2" fill="#212830" />
<rect x="1152" y="111" width="1" height="29" fill="#ffffff"/>
<rect x="1149" y="113" width="6" height="1" fill="#ffffff" />
<path d="M1149,115 L1155,121 M1155,115 L1149,121" stroke="#fff" stroke-width="1.3"/>
<rect x="1148" y="121" width="8" height="5" fill="#ffffff" />
<rect x="1151" y="122" width="2" height="2" fill="#212830" />
<rect x="1148" y="128" width="8" height="6" fill="#ffffff" />
<rect x="1149" y="131" width="1" height="2" fill="#212830" />
<rect x="1152" y="129" width="1" height="2" fill="#212830" />
<rect x="1155" y="131" width="1" height="2" fill="#212830" />
<rect x="1164" y="111" width="1" height="29" fill="#ffffff"/>
<rect x="1161" y="113" width="6" height="1" fill="#ffffff" />
<path d="M1161,115 L1167,121 M1167,115 L1161,121" stroke="#fff" stroke-width="1.3"/>
<rect x="1160" y="121" width="8" height="5" fill="#ffffff" />
<rect x="1163" y="122" width="2" height="2" fill="#212830" />
<rect x="1160" y="128" width="8" height="6" fill="#ffffff" />
<rect x="1161" y="131" width="1" height="2" fill="#212830" />
<rect x="1164" y="129" width="1" height="2" fill="#212830" />
<rect x="1167" y="131" width="1" height="2" fill="#212830" />
<rect x="1176" y="111" width="1" height="29" fill="#ffffff"/>
<rect x="1173" y="113" width="6" height="1" fill="#ffffff" />
<path d="M1173,115 L1179,121 M1179,115 L1173,121" stroke="#fff" stroke-width="1.3"/>
<rect x="1172" y="121" width="8" height="5" fill="#ffffff" />
<rect x="1175" y="122" width="2" height="2" fill="#212830" />
<rect x="1172" y="128" width="8" height="6" fill="#ffffff" />
<rect x="1173" y="131" width="1" height="2" fill="#212830" />
<rect x="1176" y="129" width="1" height="2" fill="#212830" />
<rect x="1179" y="131" width="1" height="2" fill="#212830" />
<rect x="1186" y="111" width="1" height="22" fill="#ffffff"/>
<rect x="1190" y="114" width="1" height="15" fill="#ffffff"/>
<rect x="1184" y="128" width="10" height="1" fill="#ffffff"/>
<rect x="1184" y="116" width="5" height="1" fill="#ffffff"/>
<rect x="1184" y="122" width="5" height="1" fill="#ffffff"/>
<rect x="1184" y="116" width="1" height="7" fill="#ffffff"/>
<rect x="1188" y="116" width="1" height="7" fill="#ffffff"/>
<rect x="1189" y="120" width="4" height="1" fill="#ffffff"/>
<rect x="1189" y="126" width="4" height="1" fill="#ffffff"/>
<rect x="1189" y="120" width="1" height="7" fill="#ffffff"/>
<rect x="1192" y="120" width="1" height="7" fill="#ffffff"/>
<rect x="1184" y="124" width="3" height="4" fill="#ffffff" />
<rect x="1199" y="111" width="1" height="22" fill="#ffffff"/>
<rect x="1203" y="114" width="1" height="15" fill="#ffffff"/>
<rect x="1197" y="128" width="9" height="1" fill="#ffffff"/>
<rect x="1197" y="116" width="5" height="1" fill="#ffffff"/>
<rect x="1197" y="122" width="5" height="1" fill="#ffffff"/>
<rect x="1197" y="116" width="1" height="7" fill="#ffffff"/>
<rect x="1201" y="116" width="1" height="7" fill="#ffffff"/>
<rect x="1202" y="120" width="4" height="1" fill="#ffffff"/>
<rect x="1202" y="126" width="4" height="1" fill="#ffffff"/>
<rect x="1202" y="120" width="1" height="7" fill="#ffffff"/>
<rect x="1205" y="120" width="1" height="7" fill="#ffffff"/>
<rect x="1197" y="124" width="3" height="4" fill="#ffffff" />
<rect x="1212" y="111" width="1" height="29" fill="#ffffff"/>
<rect x="1209" y="113" width="6" height="1" fill="#ffffff" />
<path d="M1209,115 L1215,121 M1215,115 L1209,121" stroke="#fff" stroke-width="1.3"/>
<rect x="1208" y="121" width="8" height="5" fill="#ffffff" />
<rect x="1211" y="122" width="2" height="2" fill="#212830" />
<rect x="1209" y="128" width="7" height="6" fill="#ffffff" />
<rect x="1210" y="129" width="1" height="2" fill="#212830" />
<rect x="1213" y="131" width="1" height="2" fill="#212830" />
<rect x="1110" y="152" width="106" height="2" fill="#212830" />
<rect x="1110" y="152" width="106" height="2" fill="url(#rows3)"/>
<rect x="1110" y="171" width="106" height="3" fill="#212830" />
<rect x="1110" y="171" width="106" height="3" fill="url(#rows3)"/>
<rect x="1137" y="166" width="3" height="2" fill="#ff0000" />
<rect x="1150" y="166" width="3" height="2" fill="#ff0000" />
<rect x="1162" y="166" width="3" height="2" fill="#ff0000" />
<rect x="1174" y="166" width="3" height="2" fill="#ff0000" />
<rect x="1186" y="166" width="3" height="2" fill="#ff0000" />
<rect x="1211" y="166" width="3" height="2" fill="#ff0000" />
<rect x="1211" y="180" width="3" height="2" fill="#ff0000" />
<rect x="1108" y="148" width="2" height="36" fill="#212830" />
<rect x="1108" y="111" width="10" height="28" fill="#212830" />
<rect x="1113" y="113" width="1" height="16" fill="#ffffff"/>
<rect x="1109" y="129" width="8" height="2" fill="#ffffff" />
<rect x="1196" y="203" width="58" height="1" fill="#00ffff"/>
<rect x="1196" y="205" width="58" height="1" fill="#ffffff"/>
<rect x="1230" y="207" width="15" height="2" fill="#ffffff" />
<rect x="1225" y="210" width="29" height="1" fill="#ffffff"/>
<rect x="1225" y="212" width="28" height="2" fill="#ffffff" />
<rect x="1196" y="215" width="30" height="1" fill="#ffffff"/>
<rect x="1228" y="212" width="1" height="1" fill="#212830" />
<rect x="1232" y="212" width="1" height="1" fill="#212830" />
<rect x="1236" y="212" width="1" height="1" fill="#212830" />
<rect x="1240" y="212" width="1" height="1" fill="#212830" />
<rect x="1244" y="212" width="1" height="1" fill="#212830" />
<rect x="1248" y="212" width="1" height="1" fill="#212830" />
<rect x="1240" y="203" width="3" height="2" fill="#ff0000" />
<rect x="1245" y="203" width="3" height="2" fill="#ff0000" />
<rect x="1250" y="202" width="3" height="4" fill="#ff0000" />
<rect x="1273" y="126" width="132" height="1" fill="#ff0000"/>
<rect x="1273" y="218" width="132" height="1" fill="#ff0000"/>
<rect x="1273" y="126" width="1" height="93" fill="#ff0000"/>
<rect x="1404" y="126" width="1" height="93" fill="#ff0000"/>
<rect x="1281" y="129" width="120" height="1" fill="#00ffff"/>
<rect x="1281" y="215" width="120" height="1" fill="#00ffff"/>
<rect x="1281" y="129" width="1" height="87" fill="#00ffff"/>
<rect x="1400" y="129" width="1" height="87" fill="#00ffff"/>
<rect x="1273" y="129" width="9" height="39" fill="#ffffff" />
<rect x="1276" y="130" width="1" height="4" fill="#212830"/>
<rect x="1276" y="135" width="1" height="3" fill="#212830"/>
<rect x="1276" y="139" width="1" height="4" fill="#212830"/>
<rect x="1276" y="144" width="1" height="15" fill="#212830"/>
<rect x="1276" y="160" width="1" height="2" fill="#212830"/>
<rect x="1276" y="164" width="1" height="2" fill="#212830"/>
<rect x="1278" y="130" width="1" height="4" fill="#212830"/>
<rect x="1278" y="135" width="1" height="3" fill="#212830"/>
<rect x="1278" y="139" width="1" height="4" fill="#212830"/>
<rect x="1278" y="144" width="1" height="15" fill="#212830"/>
<rect x="1278" y="160" width="1" height="2" fill="#212830"/>
<rect x="1278" y="164" width="1" height="2" fill="#212830"/>
<rect x="1280" y="130" width="1" height="4" fill="#212830"/>
<rect x="1280" y="135" width="1" height="3" fill="#212830"/>
<rect x="1280" y="139" width="1" height="4" fill="#212830"/>
<rect x="1280" y="144" width="1" height="15" fill="#212830"/>
<rect x="1280" y="160" width="1" height="2" fill="#212830"/>
<rect x="1280" y="164" width="1" height="2" fill="#212830"/>
<rect x="1274" y="132" width="1" height="1" fill="#212830"/>
<rect x="1274" y="136" width="1" height="1" fill="#212830"/>
<rect x="1274" y="141" width="1" height="1" fill="#212830"/>
<rect x="1274" y="145" width="1" height="1" fill="#212830"/>
<rect x="1274" y="146" width="1" height="1" fill="#212830"/>
<rect x="1274" y="148" width="1" height="1" fill="#212830"/>
<rect x="1274" y="151" width="1" height="1" fill="#212830"/>
<rect x="1274" y="154" width="1" height="1" fill="#212830"/>
<rect x="1274" y="158" width="1" height="1" fill="#212830"/>
<rect x="1274" y="162" width="1" height="1" fill="#212830"/>
<rect x="1273" y="197" width="9" height="19" fill="#ffffff" />
<rect x="1276" y="198" width="1" height="4" fill="#212830"/>
<rect x="1276" y="203" width="1" height="6" fill="#212830"/>
<rect x="1276" y="210" width="1" height="4" fill="#212830"/>
<rect x="1278" y="198" width="1" height="4" fill="#212830"/>
<rect x="1278" y="203" width="1" height="6" fill="#212830"/>
<rect x="1278" y="210" width="1" height="4" fill="#212830"/>
<rect x="1280" y="198" width="1" height="4" fill="#212830"/>
<rect x="1280" y="203" width="1" height="6" fill="#212830"/>
<rect x="1280" y="210" width="1" height="4" fill="#212830"/>
<rect x="1274" y="200" width="1" height="1" fill="#212830"/>
<rect x="1274" y="205" width="1" height="1" fill="#212830"/>
<rect x="1274" y="207" width="1" height="1" fill="#212830"/>
<rect x="1274" y="212" width="1" height="1" fill="#212830"/>
<path d="M0,24 L7,0 L14,24 M2.3,16 L11.7,16" transform="translate(1277.40,95.20) scale(1.0042)" fill="none" stroke="#fff" stroke-width="1.145" stroke-linejoin="round"/>
<path d="M2,0 L12.5,0 L6.3,9 L10,9 C11.5,9 12.4,10.2 12.4,11.5 L12.4,19.5 C12.4,22.5 10,24 6.5,24 C3.5,24 1.5,22.5 0.3,19.5" transform="translate(1297.48,95.20) scale(1.0042)" fill="none" stroke="#fff" stroke-width="1.145" stroke-linejoin="round"/>
<rect x="1304" y="133" width="77" height="1" fill="#ffff00"/>
<rect x="1304" y="189" width="77" height="1" fill="#ffff00"/>
<rect x="1304" y="133" width="1" height="57" fill="#ffff00"/>
<rect x="1380" y="133" width="1" height="57" fill="#ffff00"/>
<rect x="1304" y="135" width="77" height="1" fill="#ffff00"/>
<rect x="1312" y="133" width="1" height="57" fill="#ffff00"/>
<rect x="1313" y="133" width="1" height="57" fill="#ffff00"/>
<rect x="1325" y="133" width="1" height="57" fill="#ffff00"/>
<rect x="1326" y="133" width="1" height="57" fill="#ffff00"/>
<rect x="1344" y="133" width="1" height="57" fill="#ffff00"/>
<rect x="1345" y="133" width="1" height="57" fill="#ffff00"/>
<rect x="1359" y="133" width="1" height="57" fill="#ffff00"/>
<rect x="1360" y="133" width="1" height="57" fill="#ffff00"/>
<rect x="1320" y="131" width="5" height="3" fill="#00ff00" />
<rect x="1345" y="131" width="10" height="3" fill="#00ff00" />
<rect x="1325" y="133" width="34" height="2" fill="#00ff00" />
<rect x="1361" y="137.0" width="18" height="4.0" fill="#ffff00" />
<rect x="1363" y="138.0" width="3" height="2.0" fill="#212830" />
<rect x="1366" y="137.0" width="6" height="4.0" fill="#00ff00" />
<rect x="1374" y="137.0" width="5" height="4.0" fill="#ff0000" />
<rect x="1360" y="142" width="21" height="1" fill="#ffff00"/>
<rect x="1361" y="142.8" width="18" height="4.0" fill="#ffff00" />
<rect x="1363" y="143.8" width="3" height="2.0" fill="#212830" />
<rect x="1366" y="142.8" width="6" height="4.0" fill="#00ff00" />
<rect x="1374" y="142.8" width="5" height="4.0" fill="#ff0000" />
<rect x="1360" y="147" width="21" height="1" fill="#ffff00"/>
<rect x="1361" y="148.6" width="18" height="4.0" fill="#ffff00" />
<rect x="1363" y="149.6" width="3" height="2.0" fill="#212830" />
<rect x="1366" y="148.6" width="6" height="4.0" fill="#00ff00" />
<rect x="1374" y="148.6" width="5" height="4.0" fill="#ff0000" />
<rect x="1360" y="153" width="21" height="1" fill="#ffff00"/>
<rect x="1361" y="154.4" width="18" height="4.0" fill="#ffff00" />
<rect x="1363" y="155.4" width="3" height="2.0" fill="#212830" />
<rect x="1366" y="154.4" width="6" height="4.0" fill="#00ff00" />
<rect x="1374" y="155.4" width="5" height="2.0" fill="#ff0000" />
<rect x="1360" y="159" width="21" height="1" fill="#ffff00"/>
<rect x="1361" y="160.2" width="18" height="4.0" fill="#ffff00" />
<rect x="1363" y="161.2" width="3" height="2.0" fill="#212830" />
<rect x="1366" y="160.2" width="6" height="4.0" fill="#00ff00" />
<rect x="1374" y="161.2" width="5" height="2.0" fill="#ff0000" />
<rect x="1360" y="165" width="21" height="1" fill="#ffff00"/>
<rect x="1361" y="166.0" width="18" height="4.0" fill="#ffff00" />
<rect x="1363" y="167.0" width="3" height="2.0" fill="#212830" />
<rect x="1366" y="166.0" width="6" height="4.0" fill="#00ff00" />
<rect x="1374" y="167.0" width="5" height="2.0" fill="#ff0000" />
<rect x="1360" y="171" width="21" height="1" fill="#ffff00"/>
<rect x="1361" y="171.8" width="18" height="4.0" fill="#ffff00" />
<rect x="1363" y="172.8" width="3" height="2.0" fill="#212830" />
<rect x="1366" y="171.8" width="6" height="4.0" fill="#00ff00" />
<rect x="1374" y="172.8" width="5" height="2.0" fill="#ff0000" />
<rect x="1360" y="176" width="21" height="1" fill="#ffff00"/>
<rect x="1361" y="177.6" width="18" height="4.0" fill="#ffff00" />
<rect x="1363" y="178.6" width="3" height="2.0" fill="#212830" />
<rect x="1366" y="177.6" width="6" height="4.0" fill="#00ff00" />
<rect x="1374" y="178.6" width="5" height="2.0" fill="#ff0000" />
<rect x="1360" y="182" width="21" height="1" fill="#ffff00"/>
<rect x="1361" y="183.4" width="18" height="4.0" fill="#ffff00" />
<rect x="1363" y="184.4" width="3" height="2.0" fill="#212830" />
<rect x="1366" y="183.4" width="6" height="4.0" fill="#00ff00" />
<rect x="1374" y="184.4" width="5" height="2.0" fill="#ff0000" />
<rect x="1360" y="188" width="21" height="1" fill="#ffff00"/>
<rect x="1306" y="151" width="3" height="2" fill="#ffffff" />
<rect x="1321" y="133" width="1" height="57" fill="#00ff00"/>
<rect x="1320" y="138" width="1" height="48" fill="#ff00ff"/>
<rect x="1313" y="142" width="10" height="4" fill="#00ff00" />
<rect x="1313" y="144" width="8" height="2" fill="#ff00ff" />
<rect x="1314" y="148" width="7" height="4" fill="#00ff00" />
<rect x="1314" y="178" width="10" height="7" fill="#ffff00" />
<rect x="1317" y="175" width="6" height="4" fill="#ffff00" />
<rect x="1328" y="136" width="1" height="52" fill="#00ff00"/>
<rect x="1340" y="136" width="1" height="44" fill="#00ff00"/>
<rect x="1328" y="145" width="9" height="8" fill="#ffff00" />
<rect x="1331" y="143" width="7" height="2" fill="#ff0000" />
<rect x="1325" y="158" width="11" height="5" fill="#00ff00" />
<rect x="1333" y="155" width="3" height="6" fill="#ffff00" />
<rect x="1330" y="173" width="10" height="5" fill="#ffff00" />
<rect x="1327" y="187" width="18" height="1" fill="#00ff00"/>
<rect x="1344" y="139" width="8" height="4" fill="#ffff00" />
<rect x="1344" y="145" width="6" height="3" fill="#ffff00" />
<rect x="1347" y="146" width="7" height="2" fill="#00ff00" />
<rect x="1347" y="155" width="11" height="11" fill="#00ff00" />
<rect x="1348" y="158" width="3" height="8" fill="#212830" />
<rect x="1353" y="158" width="1" height="8" fill="#212830" />
<rect x="1346" y="173" width="11" height="10" fill="#ffff00" />
<rect x="1350" y="170" width="6" height="4" fill="#ffff00" />
<rect x="1350" y="136" width="1" height="18" fill="#00ff00"/>
<rect x="1304" y="190" width="77" height="1" fill="#00ffff"/>
<rect x="1304" y="200" width="77" height="1" fill="#00ffff"/>
<rect x="1304" y="190" width="1" height="11" fill="#00ffff"/>
<rect x="1380" y="190" width="1" height="11" fill="#00ffff"/>
<rect x="1304" y="192" width="77" height="1" fill="#00ffff"/>
<rect x="1304" y="194" width="77" height="1" fill="#00ffff"/>
<rect x="1304" y="196" width="77" height="1" fill="#00ffff"/>
<rect x="1304" y="198" width="77" height="1" fill="#00ffff"/>
<rect x="1312" y="190" width="1" height="11" fill="#00ffff"/>
<rect x="1325" y="190" width="1" height="11" fill="#00ffff"/>
<rect x="1342" y="190" width="1" height="11" fill="#00ffff"/>
<rect x="1359" y="190" width="1" height="11" fill="#00ffff"/>
<path d="M1314,198 L1318,193 L1322,198 Z" fill="#fff"/>
<rect x="1317" y="197" width="2" height="3" fill="#ffffff" />
<path d="M1330,198 L1334,193 L1338,198 Z" fill="#fff"/>
<rect x="1333" y="197" width="2" height="3" fill="#ffffff" />
<path d="M1346,198 L1350,193 L1354,198 Z" fill="#fff"/>
<rect x="1349" y="197" width="2" height="3" fill="#ffffff" />
<path d="M1365,198 L1369,193 L1373,198 Z" fill="#fff"/>
<rect x="1368" y="197" width="2" height="3" fill="#ffffff" />
<rect x="1305" y="192" width="4" height="7" fill="#ffffff" />
<rect x="1344" y="202" width="57" height="1" fill="#00ffff"/>
<rect x="1344" y="202" width="1" height="14" fill="#00ffff"/>
<rect x="1372" y="202" width="1" height="14" fill="#ffffff"/>
<rect x="1392" y="202" width="1" height="5" fill="#ffffff"/>
<rect x="1344" y="206" width="57" height="1" fill="#ffffff"/>
<rect x="1345" y="208" width="27" height="1" fill="#ffffff"/>
<rect x="1345" y="210" width="27" height="1" fill="#ffffff"/>
<rect x="1345" y="213" width="27" height="1" fill="#ffffff"/>
<rect x="1356" y="206" width="1" height="10" fill="#ffffff"/>
<rect x="1366" y="206" width="1" height="10" fill="#ffffff"/>
<rect x="1346" y="207" width="1" height="8" fill="#ff0000" />
<rect x="1349" y="207" width="1" height="8" fill="#ff0000" />
<rect x="1344" y="215" width="57" height="1" fill="#ffffff"/>
<rect x="1373" y="212" width="27" height="1" fill="#ffffff"/>
<rect x="1380" y="208" width="12" height="2" fill="#ffffff" />
<rect x="1389" y="204" width="3" height="2" fill="#ff0000" />
<rect x="1395" y="204" width="2" height="1" fill="#ff0000" />
<rect x="1397" y="203" width="2" height="3" fill="#ff0000" />
<rect x="1375" y="214" width="1" height="0" fill="#ffffff" />
<rect x="1380" y="214" width="1" height="0" fill="#ffffff" />
<rect x="1385" y="214" width="1" height="0" fill="#ffffff" />
<rect x="1390" y="214" width="1" height="0" fill="#ffffff" />
<rect x="1395" y="214" width="1" height="0" fill="#ffffff" />
<rect x="1423" y="125" width="132" height="1" fill="#ff0000"/>
<rect x="1423" y="217" width="132" height="1" fill="#ff0000"/>
<rect x="1423" y="125" width="1" height="93" fill="#ff0000"/>
<rect x="1554" y="125" width="1" height="93" fill="#ff0000"/>
<rect x="1430" y="128" width="121" height="1" fill="#00ffff"/>
<rect x="1430" y="214" width="121" height="1" fill="#00ffff"/>
<rect x="1430" y="128" width="1" height="87" fill="#00ffff"/>
<rect x="1550" y="128" width="1" height="87" fill="#00ffff"/>
<rect x="1423" y="128" width="8" height="39" fill="#ffffff" />
<rect x="1426" y="129" width="1" height="4" fill="#212830"/>
<rect x="1426" y="134" width="1" height="3" fill="#212830"/>
<rect x="1426" y="138" width="1" height="4" fill="#212830"/>
<rect x="1426" y="143" width="1" height="15" fill="#212830"/>
<rect x="1426" y="159" width="1" height="2" fill="#212830"/>
<rect x="1426" y="163" width="1" height="2" fill="#212830"/>
<rect x="1427" y="129" width="1" height="4" fill="#212830"/>
<rect x="1427" y="134" width="1" height="3" fill="#212830"/>
<rect x="1427" y="138" width="1" height="4" fill="#212830"/>
<rect x="1427" y="143" width="1" height="15" fill="#212830"/>
<rect x="1427" y="159" width="1" height="2" fill="#212830"/>
<rect x="1427" y="163" width="1" height="2" fill="#212830"/>
<rect x="1429" y="129" width="1" height="4" fill="#212830"/>
<rect x="1429" y="134" width="1" height="3" fill="#212830"/>
<rect x="1429" y="138" width="1" height="4" fill="#212830"/>
<rect x="1429" y="143" width="1" height="15" fill="#212830"/>
<rect x="1429" y="159" width="1" height="2" fill="#212830"/>
<rect x="1429" y="163" width="1" height="2" fill="#212830"/>
<rect x="1424" y="131" width="1" height="1" fill="#212830"/>
<rect x="1424" y="135" width="1" height="1" fill="#212830"/>
<rect x="1424" y="140" width="1" height="1" fill="#212830"/>
<rect x="1424" y="144" width="1" height="1" fill="#212830"/>
<rect x="1424" y="145" width="1" height="1" fill="#212830"/>
<rect x="1424" y="147" width="1" height="1" fill="#212830"/>
<rect x="1424" y="150" width="1" height="1" fill="#212830"/>
<rect x="1424" y="153" width="1" height="1" fill="#212830"/>
<rect x="1424" y="157" width="1" height="1" fill="#212830"/>
<rect x="1424" y="161" width="1" height="1" fill="#212830"/>
<rect x="1423" y="197" width="8" height="18" fill="#ffffff" />
<rect x="1426" y="198" width="1" height="3" fill="#212830"/>
<rect x="1426" y="203" width="1" height="5" fill="#212830"/>
<rect x="1426" y="209" width="1" height="4" fill="#212830"/>
<rect x="1427" y="198" width="1" height="3" fill="#212830"/>
<rect x="1427" y="203" width="1" height="5" fill="#212830"/>
<rect x="1427" y="209" width="1" height="4" fill="#212830"/>
<rect x="1429" y="198" width="1" height="3" fill="#212830"/>
<rect x="1429" y="203" width="1" height="5" fill="#212830"/>
<rect x="1429" y="209" width="1" height="4" fill="#212830"/>
<rect x="1424" y="199" width="1" height="1" fill="#212830"/>
<rect x="1424" y="204" width="1" height="1" fill="#212830"/>
<rect x="1424" y="207" width="1" height="1" fill="#212830"/>
<rect x="1424" y="212" width="1" height="1" fill="#212830"/>
<path d="M0,24 L7,0 L14,24 M2.3,16 L11.7,16" transform="translate(1426.30,97.20) scale(1.0000)" fill="none" stroke="#fff" stroke-width="1.150" stroke-linejoin="round"/>
<path d="M2,0 L12.5,0 L6.3,9 L10,9 C11.5,9 12.4,10.2 12.4,11.5 L12.4,19.5 C12.4,22.5 10,24 6.5,24 C3.5,24 1.5,22.5 0.3,19.5" transform="translate(1446.30,97.20) scale(1.0000)" fill="none" stroke="#fff" stroke-width="1.150" stroke-linejoin="round"/>
<rect x="1444" y="133" width="97" height="1" fill="#ffff00"/>
<rect x="1444" y="189" width="97" height="1" fill="#ffff00"/>
<rect x="1444" y="133" width="1" height="57" fill="#ffff00"/>
<rect x="1540" y="133" width="1" height="57" fill="#ffff00"/>
<rect x="1444" y="135" width="97" height="1" fill="#ffff00"/>
<rect x="1463" y="133" width="1" height="57" fill="#ffff00"/>
<rect x="1464" y="133" width="1" height="57" fill="#ffff00"/>
<rect x="1483" y="133" width="1" height="57" fill="#ffff00"/>
<rect x="1484" y="133" width="1" height="57" fill="#ffff00"/>
<rect x="1500" y="133" width="1" height="57" fill="#ffff00"/>
<rect x="1501" y="133" width="1" height="57" fill="#ffff00"/>
<rect x="1517" y="133" width="1" height="57" fill="#ffff00"/>
<rect x="1518" y="133" width="1" height="57" fill="#ffff00"/>
<rect x="1531" y="133" width="1" height="57" fill="#ffff00"/>
<rect x="1532" y="133" width="1" height="57" fill="#ffff00"/>
<rect x="1446" y="137.0" width="7" height="4.0" fill="#ffff00" />
<rect x="1447" y="138.0" width="2" height="2.0" fill="#212830" />
<rect x="1450" y="139.0" width="2" height="2.0" fill="#ffffff" />
<rect x="1453" y="137.0" width="6" height="4.0" fill="#00ff00" />
<rect x="1455" y="138.0" width="1" height="1.0" fill="#212830" />
<rect x="1459" y="137.0" width="4" height="4.0" fill="#ff0000" />
<rect x="1445" y="142" width="19" height="1" fill="#ffff00"/>
<rect x="1446" y="142.9" width="7" height="4.0" fill="#ffff00" />
<rect x="1447" y="143.9" width="2" height="2.0" fill="#212830" />
<rect x="1450" y="144.9" width="2" height="2.0" fill="#ffffff" />
<rect x="1453" y="142.9" width="6" height="4.0" fill="#00ff00" />
<rect x="1455" y="143.9" width="1" height="1.0" fill="#212830" />
<rect x="1459" y="142.9" width="4" height="4.0" fill="#ff0000" />
<rect x="1445" y="147" width="19" height="1" fill="#ffff00"/>
<rect x="1446" y="148.8" width="7" height="4.0" fill="#ffff00" />
<rect x="1447" y="149.8" width="2" height="2.0" fill="#212830" />
<rect x="1450" y="150.8" width="2" height="2.0" fill="#ffffff" />
<rect x="1453" y="148.8" width="6" height="4.0" fill="#00ff00" />
<rect x="1455" y="149.8" width="1" height="1.0" fill="#212830" />
<rect x="1459" y="148.8" width="4" height="4.0" fill="#ff0000" />
<rect x="1445" y="153" width="19" height="1" fill="#ffff00"/>
<rect x="1446" y="154.7" width="7" height="4.0" fill="#ffff00" />
<rect x="1447" y="155.7" width="2" height="2.0" fill="#212830" />
<rect x="1450" y="156.7" width="2" height="2.0" fill="#ffffff" />
<rect x="1453" y="154.7" width="6" height="4.0" fill="#00ff00" />
<rect x="1455" y="155.7" width="1" height="1.0" fill="#212830" />
<rect x="1459" y="155.7" width="4" height="2.0" fill="#ff0000" />
<rect x="1445" y="159" width="19" height="1" fill="#ffff00"/>
<rect x="1446" y="160.6" width="7" height="4.0" fill="#ffff00" />
<rect x="1447" y="161.6" width="2" height="2.0" fill="#212830" />
<rect x="1450" y="162.6" width="2" height="2.0" fill="#ffffff" />
<rect x="1453" y="160.6" width="6" height="4.0" fill="#00ff00" />
<rect x="1455" y="161.6" width="1" height="1.0" fill="#212830" />
<rect x="1459" y="161.6" width="4" height="2.0" fill="#ff0000" />
<rect x="1445" y="165" width="19" height="1" fill="#ffff00"/>
<rect x="1446" y="166.5" width="7" height="4.0" fill="#ffff00" />
<rect x="1447" y="167.5" width="2" height="2.0" fill="#212830" />
<rect x="1450" y="168.5" width="2" height="2.0" fill="#ffffff" />
<rect x="1453" y="166.5" width="6" height="4.0" fill="#00ff00" />
<rect x="1455" y="167.5" width="1" height="1.0" fill="#212830" />
<rect x="1459" y="167.5" width="4" height="2.0" fill="#ff0000" />
<rect x="1445" y="171" width="19" height="1" fill="#ffff00"/>
<rect x="1446" y="172.4" width="7" height="4.0" fill="#ffff00" />
<rect x="1447" y="173.4" width="2" height="2.0" fill="#212830" />
<rect x="1450" y="174.4" width="2" height="2.0" fill="#ffffff" />
<rect x="1453" y="172.4" width="6" height="4.0" fill="#00ff00" />
<rect x="1455" y="173.4" width="1" height="1.0" fill="#212830" />
<rect x="1459" y="173.4" width="4" height="2.0" fill="#ff0000" />
<rect x="1445" y="177" width="19" height="1" fill="#ffff00"/>
<rect x="1446" y="178.3" width="7" height="4.0" fill="#ffff00" />
<rect x="1447" y="179.3" width="2" height="2.0" fill="#212830" />
<rect x="1450" y="180.3" width="2" height="2.0" fill="#ffffff" />
<rect x="1453" y="178.3" width="6" height="4.0" fill="#00ff00" />
<rect x="1455" y="179.3" width="1" height="1.0" fill="#212830" />
<rect x="1459" y="179.3" width="4" height="2.0" fill="#ff0000" />
<rect x="1445" y="183" width="19" height="1" fill="#ffff00"/>
<rect x="1446" y="184.2" width="7" height="4.0" fill="#ffff00" />
<rect x="1447" y="185.2" width="2" height="2.0" fill="#212830" />
<rect x="1450" y="186.2" width="2" height="2.0" fill="#ffffff" />
<rect x="1453" y="184.2" width="6" height="4.0" fill="#00ff00" />
<rect x="1455" y="185.2" width="1" height="1.0" fill="#212830" />
<rect x="1459" y="185.2" width="4" height="2.0" fill="#ff0000" />
<rect x="1445" y="189" width="19" height="1" fill="#ffff00"/>
<rect x="1445" y="135" width="2" height="53" fill="#00ff00" />
<rect x="1467" y="135" width="11" height="1" fill="#00ff00"/>
<rect x="1467" y="168" width="11" height="1" fill="#00ff00"/>
<rect x="1467" y="135" width="1" height="34" fill="#00ff00"/>
<rect x="1477" y="135" width="1" height="34" fill="#00ff00"/>
<rect x="1478" y="131" width="1" height="33" fill="#00ff00"/>
<rect x="1469" y="146" width="9" height="2" fill="#ff0000" />
<rect x="1468" y="148" width="10" height="6" fill="#ffff00" />
<rect x="1472" y="160" width="9" height="5" fill="#ffff00" />
<rect x="1474" y="163" width="4" height="4" fill="#00ff00" />
<rect x="1478" y="162" width="3" height="3" fill="#ffffff" />
<rect x="1490" y="131" width="10" height="3" fill="#00ff00" />
<rect x="1492" y="133" width="1" height="38" fill="#00ff00"/>
<rect x="1491" y="139" width="8" height="4" fill="#ffff00" />
<rect x="1489" y="145" width="10" height="3" fill="#00ff00" />
<rect x="1493" y="147" width="3" height="3" fill="#ffffff" />
<rect x="1485" y="152" width="15" height="16" fill="#00ff00" />
<rect x="1487" y="155" width="2" height="1" fill="#212830" />
<rect x="1493" y="155" width="2" height="1" fill="#212830" />
<rect x="1487" y="158" width="2" height="1" fill="#212830" />
<rect x="1493" y="158" width="2" height="1" fill="#212830" />
<rect x="1487" y="161" width="2" height="1" fill="#212830" />
<rect x="1493" y="161" width="2" height="1" fill="#212830" />
<rect x="1487" y="164" width="2" height="1" fill="#212830" />
<rect x="1493" y="164" width="2" height="1" fill="#212830" />
<rect x="1487" y="167" width="2" height="1" fill="#212830" />
<rect x="1493" y="167" width="2" height="1" fill="#212830" />
<rect x="1486" y="159" width="9" height="1" fill="#ff00ff"/>
<rect x="1494" y="158" width="3" height="3" fill="#ff0000" />
<rect x="1487" y="171" width="10" height="15" fill="#ffff00" />
<rect x="1490" y="175" width="4" height="4" fill="#212830" />
<rect x="1493" y="180" width="5" height="3" fill="#ffff00" />
<rect x="1503" y="135" width="11" height="1" fill="#00ff00"/>
<rect x="1503" y="168" width="11" height="1" fill="#00ff00"/>
<rect x="1503" y="135" width="1" height="34" fill="#00ff00"/>
<rect x="1513" y="135" width="1" height="34" fill="#00ff00"/>
<rect x="1513" y="133" width="1" height="56" fill="#00ff00"/>
<rect x="1499" y="152" width="17" height="1" fill="#00ff00"/>
<rect x="1499" y="188" width="17" height="1" fill="#00ff00"/>
<rect x="1499" y="152" width="1" height="37" fill="#00ff00"/>
<rect x="1515" y="152" width="1" height="37" fill="#00ff00"/>
<rect x="1504" y="145" width="9" height="2" fill="#ff0000" />
<rect x="1503" y="147" width="9" height="7" fill="#ffff00" />
<rect x="1507" y="160" width="4" height="6" fill="#ffff00" />
<rect x="1510" y="164" width="3" height="3" fill="#ffffff" />
<rect x="1503" y="173" width="9" height="6" fill="#ffff00" />
<rect x="1506" y="175" width="5" height="2" fill="#00ff00" />
<rect x="1518" y="131" width="9" height="3" fill="#00ff00" />
<rect x="1520" y="133" width="1" height="40" fill="#00ff00"/>
<rect x="1522" y="147" width="1" height="45" fill="#ff00ff"/>
<rect x="1519" y="147" width="9" height="9" fill="#00ff00" />
<rect x="1522" y="151" width="10" height="1" fill="#ff00ff"/>
<rect x="1522" y="152" width="8" height="3" fill="#00ff00" />
<rect x="1518" y="177" width="8" height="10" fill="#ffff00" />
<rect x="1522" y="172" width="3" height="5" fill="#ffff00" />
<rect x="1533" y="153" width="4" height="3" fill="#ffffff" />
<rect x="1533" y="134" width="7" height="2" fill="#ffffff" />
<rect x="1455" y="129" width="12" height="3" fill="#ffffff" />
<rect x="1443" y="190" width="98" height="1" fill="#00ffff"/>
<rect x="1443" y="200" width="98" height="1" fill="#00ffff"/>
<rect x="1443" y="190" width="1" height="11" fill="#00ffff"/>
<rect x="1540" y="190" width="1" height="11" fill="#00ffff"/>
<rect x="1443" y="192" width="98" height="1" fill="#00ffff"/>
<rect x="1443" y="194" width="98" height="1" fill="#00ffff"/>
<rect x="1443" y="196" width="98" height="1" fill="#00ffff"/>
<rect x="1443" y="198" width="98" height="1" fill="#00ffff"/>
<rect x="1463" y="190" width="1" height="11" fill="#00ffff"/>
<rect x="1483" y="190" width="1" height="11" fill="#00ffff"/>
<rect x="1500" y="190" width="1" height="11" fill="#00ffff"/>
<rect x="1517" y="190" width="1" height="11" fill="#00ffff"/>
<rect x="1531" y="190" width="1" height="11" fill="#00ffff"/>
<path d="M1449,198 L1453,193 L1457,198 Z" fill="#fff"/>
<rect x="1452" y="197" width="2" height="3" fill="#ffffff" />
<path d="M1469,198 L1473,193 L1477,198 Z" fill="#fff"/>
<rect x="1472" y="197" width="2" height="3" fill="#ffffff" />
<path d="M1487,198 L1491,193 L1495,198 Z" fill="#fff"/>
<rect x="1490" y="197" width="2" height="3" fill="#ffffff" />
<path d="M1504,198 L1508,193 L1512,198 Z" fill="#fff"/>
<rect x="1507" y="197" width="2" height="3" fill="#ffffff" />
<path d="M1520,198 L1524,193 L1528,198 Z" fill="#fff"/>
<rect x="1523" y="197" width="2" height="3" fill="#ffffff" />
<rect x="1533" y="192" width="5" height="1" fill="#ffffff" />
<rect x="1533" y="194" width="5" height="1" fill="#ffffff" />
<rect x="1533" y="196" width="5" height="1" fill="#ffffff" />
<rect x="1533" y="198" width="5" height="1" fill="#ffffff" />
<rect x="1494" y="202" width="57" height="1" fill="#00ffff"/>
<rect x="1494" y="202" width="1" height="13" fill="#00ffff"/>
<rect x="1522" y="202" width="1" height="13" fill="#ffffff"/>
<rect x="1542" y="202" width="1" height="5" fill="#ffffff"/>
<rect x="1494" y="206" width="57" height="1" fill="#ffffff"/>
<rect x="1495" y="208" width="27" height="1" fill="#ffffff"/>
<rect x="1495" y="210" width="27" height="1" fill="#ffffff"/>
<rect x="1495" y="212" width="27" height="1" fill="#ffffff"/>
<rect x="1506" y="206" width="1" height="9" fill="#ffffff"/>
<rect x="1516" y="206" width="1" height="9" fill="#ffffff"/>
<rect x="1496" y="207" width="1" height="7" fill="#ff0000" />
<rect x="1499" y="207" width="1" height="7" fill="#ff0000" />
<rect x="1494" y="214" width="57" height="1" fill="#ffffff"/>
<rect x="1523" y="212" width="27" height="1" fill="#ffffff"/>
<rect x="1530" y="208" width="12" height="2" fill="#ffffff" />
<rect x="1539" y="204" width="3" height="2" fill="#ff0000" />
<rect x="1545" y="204" width="2" height="1" fill="#ff0000" />
<rect x="1547" y="203" width="2" height="3" fill="#ff0000" />
<rect x="1525" y="214" width="1" height="-1" fill="#ffffff" />
<rect x="1530" y="214" width="1" height="-1" fill="#ffffff" />
<rect x="1535" y="214" width="1" height="-1" fill="#ffffff" />
<rect x="1540" y="214" width="1" height="-1" fill="#ffffff" />
<rect x="1545" y="214" width="1" height="-1" fill="#ffffff" />
<rect x="1578" y="86" width="249" height="1" fill="#ff0000"/>
<rect x="1578" y="215" width="249" height="1" fill="#ff0000"/>
<rect x="1578" y="86" width="1" height="130" fill="#ff0000"/>
<rect x="1826" y="86" width="1" height="130" fill="#ff0000"/>
<rect x="1586" y="88" width="238" height="1" fill="#00ffff"/>
<rect x="1586" y="212" width="238" height="1" fill="#00ffff"/>
<rect x="1586" y="88" width="1" height="125" fill="#00ffff"/>
<rect x="1823" y="88" width="1" height="125" fill="#00ffff"/>
<rect x="1578" y="88" width="9" height="38" fill="#ffffff" />
<rect x="1581" y="89" width="1" height="3" fill="#212830"/>
<rect x="1581" y="94" width="1" height="3" fill="#212830"/>
<rect x="1581" y="98" width="1" height="3" fill="#212830"/>
<rect x="1581" y="103" width="1" height="14" fill="#212830"/>
<rect x="1581" y="118" width="1" height="3" fill="#212830"/>
<rect x="1581" y="122" width="1" height="2" fill="#212830"/>
<rect x="1583" y="89" width="1" height="3" fill="#212830"/>
<rect x="1583" y="94" width="1" height="3" fill="#212830"/>
<rect x="1583" y="98" width="1" height="3" fill="#212830"/>
<rect x="1583" y="103" width="1" height="14" fill="#212830"/>
<rect x="1583" y="118" width="1" height="3" fill="#212830"/>
<rect x="1583" y="122" width="1" height="2" fill="#212830"/>
<rect x="1585" y="89" width="1" height="3" fill="#212830"/>
<rect x="1585" y="94" width="1" height="3" fill="#212830"/>
<rect x="1585" y="98" width="1" height="3" fill="#212830"/>
<rect x="1585" y="103" width="1" height="14" fill="#212830"/>
<rect x="1585" y="118" width="1" height="3" fill="#212830"/>
<rect x="1585" y="122" width="1" height="2" fill="#212830"/>
<rect x="1579" y="91" width="1" height="1" fill="#212830"/>
<rect x="1579" y="95" width="1" height="1" fill="#212830"/>
<rect x="1579" y="100" width="1" height="1" fill="#212830"/>
<rect x="1579" y="103" width="1" height="1" fill="#212830"/>
<rect x="1579" y="105" width="1" height="1" fill="#212830"/>
<rect x="1579" y="107" width="1" height="1" fill="#212830"/>
<rect x="1579" y="110" width="1" height="1" fill="#212830"/>
<rect x="1579" y="112" width="1" height="1" fill="#212830"/>
<rect x="1579" y="116" width="1" height="1" fill="#212830"/>
<rect x="1579" y="120" width="1" height="1" fill="#212830"/>
<rect x="1578" y="196" width="9" height="17" fill="#ffffff" />
<rect x="1581" y="197" width="1" height="3" fill="#212830"/>
<rect x="1581" y="201" width="1" height="6" fill="#212830"/>
<rect x="1581" y="208" width="1" height="3" fill="#212830"/>
<rect x="1583" y="197" width="1" height="3" fill="#212830"/>
<rect x="1583" y="201" width="1" height="6" fill="#212830"/>
<rect x="1583" y="208" width="1" height="3" fill="#212830"/>
<rect x="1585" y="197" width="1" height="3" fill="#212830"/>
<rect x="1585" y="201" width="1" height="6" fill="#212830"/>
<rect x="1585" y="208" width="1" height="3" fill="#212830"/>
<rect x="1579" y="198" width="1" height="1" fill="#212830"/>
<rect x="1579" y="203" width="1" height="1" fill="#212830"/>
<rect x="1579" y="205" width="1" height="1" fill="#212830"/>
<rect x="1579" y="210" width="1" height="1" fill="#212830"/>
<path d="M0,24 L7,0 L14,24 M2.3,16 L11.7,16" transform="translate(1583.10,48.30) scale(1.0167)" fill="none" stroke="#fff" stroke-width="1.131" stroke-linejoin="round"/>
<path d="M1.3,6 C1.3,2.5 3,0 5.5,0 L8.5,0 C11,0 12.3,2 12.3,4.5 L12.3,7.5 C12.3,9 11.5,10.3 10.5,11.4 L0.3,24 L13.6,24" transform="translate(1603.43,48.30) scale(1.0167)" fill="none" stroke="#fff" stroke-width="1.131" stroke-linejoin="round"/>
<rect x="1601" y="106" width="218" height="1" fill="#ffffff"/>
<rect x="1601" y="184" width="218" height="1" fill="#ffffff"/>
<rect x="1601" y="106" width="1" height="79" fill="#ffffff"/>
<rect x="1818" y="106" width="1" height="79" fill="#ffffff"/>
<rect x="1601" y="109" width="218" height="1" fill="#ffffff"/>
<rect x="1601" y="153" width="218" height="1" fill="#ffffff"/>
<rect x="1601" y="156" width="218" height="1" fill="#ffffff"/>
<rect x="1614" y="106" width="1" height="79" fill="#ffffff"/>
<rect x="1637" y="106" width="1" height="79" fill="#ffffff"/>
<rect x="1683" y="106" width="1" height="79" fill="#ffffff"/>
<rect x="1603" y="113" width="1" height="41" fill="#ffffff"/>
<rect x="1657" y="153" width="1" height="32" fill="#ffffff"/>
<rect x="1601" y="113" width="218" height="1" fill="#ffffff"/>
<rect x="1601" y="107" width="8" height="2" fill="#ff0000" />
<rect x="1602" y="111" width="7" height="1" fill="#ff0000" />
<rect x="1607" y="113" width="1" height="36" fill="#ffffff"/>
<rect x="1606" y="116" width="3" height="2" fill="#ffffff" />
<rect x="1606" y="121" width="3" height="2" fill="#ffffff" />
<rect x="1606" y="126" width="3" height="2" fill="#ffffff" />
<rect x="1606" y="131" width="3" height="2" fill="#ffffff" />
<rect x="1606" y="136" width="3" height="2" fill="#ffffff" />
<rect x="1606" y="141" width="3" height="2" fill="#ffffff" />
<rect x="1606" y="146" width="3" height="2" fill="#ffffff" />
<rect x="1615" y="137" width="5" height="2" fill="#ff0000" />
<rect x="1618" y="112" width="17" height="1" fill="#ffffff"/>
<rect x="1626" y="112" width="1" height="39" fill="#ffffff"/>
<rect x="1619" y="116" width="6" height="1" fill="#ffffff"/>
<rect x="1619" y="124" width="6" height="1" fill="#ffffff"/>
<rect x="1619" y="116" width="1" height="9" fill="#ffffff"/>
<rect x="1624" y="116" width="1" height="9" fill="#ffffff"/>
<rect x="1622" y="116" width="1" height="15" fill="#ffffff"/>
<rect x="1622" y="130" width="7" height="1" fill="#ffffff"/>
<rect x="1623" y="133" width="5" height="1" fill="#ffffff"/>
<rect x="1623" y="137" width="5" height="1" fill="#ffffff"/>
<rect x="1623" y="133" width="1" height="5" fill="#ffffff"/>
<rect x="1627" y="133" width="1" height="5" fill="#ffffff"/>
<rect x="1621" y="140" width="12" height="1" fill="#ffffff"/>
<rect x="1621" y="140" width="1" height="7" fill="#ffffff"/>
<rect x="1631" y="140" width="1" height="7" fill="#ffffff"/>
<rect x="1625" y="117" width="5" height="4" fill="#ffffff" />
<rect x="1628" y="126" width="2" height="4" fill="#ffffff" />
<path d="M1645.5,114 L1645.5,132.5 L1675.5,132.5" fill="none" stroke="#00ff00" stroke-width="1"/>
<rect x="1645" y="113" width="33" height="1" fill="#ffffff"/>
<rect x="1663" y="113" width="1" height="38" fill="#ffffff"/>
<rect x="1676" y="113" width="1" height="38" fill="#ffffff"/>
<rect x="1660" y="136" width="7" height="9" fill="url(#blk2)"/>
<rect x="1673" y="136" width="7" height="9" fill="url(#blk2)"/>
<rect x="1686" y="110" width="9" height="2" fill="#ff0000" />
<rect x="1694" y="116" width="19" height="2" fill="#ff0000" />
<rect x="1690" y="112" width="1" height="14" fill="#ffffff"/>
<rect x="1687" y="131" width="26" height="1" fill="#ffffff"/>
<path d="M1686.5,152 L1686.5,142.5 L1806.5,142.5" fill="none" stroke="#00ff00" stroke-width="1"/>
<rect x="1694" y="135" width="67" height="1" fill="#ffffff"/>
<rect x="1760" y="127" width="51" height="1" fill="#ffffff"/>
<rect x="1699" y="135" width="1" height="17" fill="#ffffff"/>
<rect x="1704" y="135" width="1" height="17" fill="#ffffff"/>
<rect x="1709" y="135" width="1" height="17" fill="#ffffff"/>
<rect x="1714" y="135" width="1" height="17" fill="#ffffff"/>
<rect x="1719" y="135" width="1" height="17" fill="#ffffff"/>
<rect x="1724" y="135" width="1" height="17" fill="#ffffff"/>
<rect x="1729" y="135" width="1" height="17" fill="#ffffff"/>
<rect x="1734" y="135" width="1" height="17" fill="#ffffff"/>
<rect x="1739" y="135" width="1" height="17" fill="#ffffff"/>
<rect x="1744" y="135" width="1" height="17" fill="#ffffff"/>
<rect x="1749" y="135" width="1" height="17" fill="#ffffff"/>
<rect x="1754" y="135" width="1" height="17" fill="#ffffff"/>
<rect x="1759" y="135" width="1" height="17" fill="#ffffff"/>
<rect x="1764" y="135" width="1" height="17" fill="#ffffff"/>
<rect x="1769" y="135" width="1" height="17" fill="#ffffff"/>
<rect x="1774" y="135" width="1" height="17" fill="#ffffff"/>
<rect x="1779" y="135" width="1" height="17" fill="#ffffff"/>
<rect x="1784" y="135" width="1" height="17" fill="#ffffff"/>
<rect x="1789" y="135" width="1" height="17" fill="#ffffff"/>
<rect x="1794" y="135" width="1" height="17" fill="#ffffff"/>
<rect x="1799" y="135" width="1" height="17" fill="#ffffff"/>
<rect x="1804" y="135" width="1" height="17" fill="#ffffff"/>
<rect x="1809" y="135" width="1" height="17" fill="#ffffff"/>
<rect x="1756" y="128" width="6" height="3" fill="#00ff00" />
<rect x="1782" y="121" width="25" height="2" fill="#ff0000" />
<rect x="1790" y="126" width="1" height="26" fill="#ffffff"/>
<rect x="1794" y="126" width="1" height="26" fill="#ffffff"/>
<rect x="1798" y="126" width="1" height="26" fill="#ffffff"/>
<rect x="1803" y="126" width="1" height="26" fill="#ffffff"/>
<rect x="1604" y="157" width="9" height="2" fill="#ffffff" />
<rect x="1606" y="157" width="2" height="1" fill="#212830" />
<rect x="1604" y="160" width="9" height="2" fill="#ffffff" />
<rect x="1605" y="160" width="2" height="1" fill="#212830" />
<rect x="1604" y="163" width="9" height="2" fill="#ffffff" />
<rect x="1608" y="163" width="2" height="1" fill="#212830" />
<rect x="1604" y="166" width="9" height="2" fill="#ffffff" />
<rect x="1607" y="166" width="2" height="1" fill="#212830" />
<rect x="1604" y="169" width="9" height="2" fill="#ffffff" />
<rect x="1606" y="169" width="2" height="1" fill="#212830" />
<rect x="1604" y="172" width="9" height="2" fill="#ffffff" />
<rect x="1605" y="172" width="2" height="1" fill="#212830" />
<rect x="1604" y="175" width="9" height="2" fill="#ffffff" />
<rect x="1608" y="175" width="2" height="1" fill="#212830" />
<rect x="1604" y="178" width="9" height="2" fill="#ffffff" />
<rect x="1607" y="178" width="2" height="1" fill="#212830" />
<rect x="1604" y="181" width="9" height="2" fill="#ffffff" />
<rect x="1606" y="181" width="2" height="1" fill="#212830" />
<rect x="1616" y="158" width="20" height="23" fill="#ffffff" />
<rect x="1616" y="159" width="2" height="1" fill="#212830" />
<rect x="1629" y="159" width="3" height="1" fill="#212830" />
<rect x="1633" y="160" width="3" height="1" fill="#212830" />
<rect x="1616" y="162" width="2" height="1" fill="#212830" />
<rect x="1627" y="162" width="3" height="1" fill="#212830" />
<rect x="1633" y="163" width="3" height="1" fill="#212830" />
<rect x="1616" y="165" width="2" height="1" fill="#212830" />
<rect x="1625" y="165" width="3" height="1" fill="#212830" />
<rect x="1633" y="166" width="3" height="1" fill="#212830" />
<rect x="1616" y="168" width="2" height="1" fill="#212830" />
<rect x="1628" y="168" width="3" height="1" fill="#212830" />
<rect x="1633" y="169" width="3" height="1" fill="#212830" />
<rect x="1616" y="171" width="2" height="1" fill="#212830" />
<rect x="1626" y="171" width="3" height="1" fill="#212830" />
<rect x="1633" y="172" width="3" height="1" fill="#212830" />
<rect x="1616" y="174" width="2" height="1" fill="#212830" />
<rect x="1629" y="174" width="3" height="1" fill="#212830" />
<rect x="1633" y="175" width="3" height="1" fill="#212830" />
<rect x="1616" y="177" width="2" height="1" fill="#212830" />
<rect x="1627" y="177" width="3" height="1" fill="#212830" />
<rect x="1633" y="178" width="3" height="1" fill="#212830" />
<rect x="1616" y="180" width="2" height="1" fill="#212830" />
<rect x="1625" y="180" width="3" height="1" fill="#212830" />
<rect x="1633" y="181" width="3" height="1" fill="#212830" />
<rect x="1638" y="158" width="18" height="2" fill="#ffffff" />
<rect x="1638" y="162" width="14" height="2" fill="#ffffff" />
<rect x="1638" y="166" width="16" height="8" fill="#ffffff" />
<rect x="1638" y="176" width="10" height="2" fill="#ffffff" />
<rect x="1638" y="179" width="18" height="2" fill="#ffffff" />
<rect x="1640" y="168" width="2" height="1" fill="#212830" />
<rect x="1645" y="170" width="2" height="1" fill="#212830" />
<rect x="1650" y="172" width="2" height="1" fill="#212830" />
<rect x="1642" y="172" width="2" height="1" fill="#212830" />
<rect x="1658" y="157" width="24" height="2" fill="#ffffff" />
<rect x="1659" y="161" width="24" height="1" fill="#ffffff"/>
<rect x="1659" y="182" width="24" height="1" fill="#ffffff"/>
<rect x="1659" y="161" width="1" height="22" fill="#ffffff"/>
<rect x="1682" y="161" width="1" height="22" fill="#ffffff"/>
<rect x="1660" y="162" width="22" height="1" fill="#ffffff" />
<rect x="1686" y="157" width="126" height="7" fill="url(#blk2)"/>
<rect x="1686" y="164" width="14" height="4" fill="#ffffff" />
<rect x="1690" y="164" width="1" height="20" fill="#ffffff"/>
<rect x="1695" y="164" width="1" height="20" fill="#ffffff"/>
<rect x="1700" y="164" width="1" height="20" fill="#ffffff"/>
<rect x="1705" y="164" width="1" height="20" fill="#ffffff"/>
<rect x="1710" y="164" width="1" height="20" fill="#ffffff"/>
<rect x="1715" y="164" width="1" height="20" fill="#ffffff"/>
<rect x="1720" y="164" width="1" height="20" fill="#ffffff"/>
<rect x="1725" y="164" width="1" height="20" fill="#ffffff"/>
<rect x="1730" y="164" width="1" height="20" fill="#ffffff"/>
<rect x="1735" y="164" width="1" height="20" fill="#ffffff"/>
<rect x="1740" y="164" width="1" height="20" fill="#ffffff"/>
<rect x="1745" y="164" width="1" height="20" fill="#ffffff"/>
<rect x="1750" y="164" width="1" height="20" fill="#ffffff"/>
<rect x="1755" y="164" width="1" height="20" fill="#ffffff"/>
<rect x="1760" y="164" width="1" height="20" fill="#ffffff"/>
<rect x="1765" y="164" width="1" height="20" fill="#ffffff"/>
<rect x="1770" y="164" width="1" height="20" fill="#ffffff"/>
<rect x="1775" y="164" width="1" height="20" fill="#ffffff"/>
<rect x="1780" y="164" width="1" height="20" fill="#ffffff"/>
<rect x="1785" y="164" width="1" height="20" fill="#ffffff"/>
<rect x="1790" y="164" width="1" height="20" fill="#ffffff"/>
<rect x="1795" y="164" width="1" height="20" fill="#ffffff"/>
<rect x="1800" y="164" width="1" height="20" fill="#ffffff"/>
<rect x="1805" y="164" width="1" height="20" fill="#ffffff"/>
<rect x="1810" y="164" width="1" height="20" fill="#ffffff"/>
<rect x="1686" y="167" width="127" height="1" fill="#ffffff"/>
<rect x="1615" y="182" width="24" height="2" fill="#ff0000" />
<rect x="1767" y="200" width="57" height="1" fill="#00ffff"/>
<rect x="1767" y="200" width="1" height="13" fill="#00ffff"/>
<rect x="1795" y="200" width="1" height="13" fill="#ffffff"/>
<rect x="1815" y="200" width="1" height="5" fill="#ffffff"/>
<rect x="1767" y="204" width="57" height="1" fill="#ffffff"/>
<rect x="1768" y="206" width="27" height="1" fill="#ffffff"/>
<rect x="1768" y="208" width="27" height="1" fill="#ffffff"/>
<rect x="1768" y="210" width="27" height="1" fill="#ffffff"/>
<rect x="1779" y="204" width="1" height="9" fill="#ffffff"/>
<rect x="1789" y="204" width="1" height="9" fill="#ffffff"/>
<rect x="1769" y="205" width="1" height="7" fill="#ff0000" />
<rect x="1772" y="205" width="1" height="7" fill="#ff0000" />
<rect x="1767" y="212" width="57" height="1" fill="#ffffff"/>
<rect x="1796" y="210" width="27" height="1" fill="#ffffff"/>
<rect x="1803" y="206" width="12" height="2" fill="#ffffff" />
<rect x="1812" y="202" width="3" height="2" fill="#ff0000" />
<rect x="1818" y="202" width="2" height="1" fill="#ff0000" />
<rect x="1820" y="201" width="2" height="3" fill="#ff0000" />
<rect x="1798" y="212" width="1" height="-1" fill="#ffffff" />
<rect x="1803" y="212" width="1" height="-1" fill="#ffffff" />
<rect x="1808" y="212" width="1" height="-1" fill="#ffffff" />
<rect x="1813" y="212" width="1" height="-1" fill="#ffffff" />
<rect x="1818" y="212" width="1" height="-1" fill="#ffffff" />
<rect x="-2" y="612" width="131" height="1" fill="#ff0000"/>
<rect x="-2" y="704" width="131" height="1" fill="#ff0000"/>
<rect x="-2" y="612" width="1" height="93" fill="#ff0000"/>
<rect x="128" y="612" width="1" height="93" fill="#ff0000"/>
<rect x="6" y="615" width="120" height="1" fill="#00ffff"/>
<rect x="6" y="701" width="120" height="1" fill="#00ffff"/>
<rect x="6" y="615" width="1" height="87" fill="#00ffff"/>
<rect x="125" y="615" width="1" height="87" fill="#00ffff"/>
<rect x="-2" y="615" width="9" height="38" fill="#ffffff" />
<rect x="1" y="616" width="1" height="3" fill="#212830"/>
<rect x="1" y="621" width="1" height="3" fill="#212830"/>
<rect x="1" y="625" width="1" height="3" fill="#212830"/>
<rect x="1" y="630" width="1" height="14" fill="#212830"/>
<rect x="1" y="645" width="1" height="3" fill="#212830"/>
<rect x="1" y="649" width="1" height="2" fill="#212830"/>
<rect x="3" y="616" width="1" height="3" fill="#212830"/>
<rect x="3" y="621" width="1" height="3" fill="#212830"/>
<rect x="3" y="625" width="1" height="3" fill="#212830"/>
<rect x="3" y="630" width="1" height="14" fill="#212830"/>
<rect x="3" y="645" width="1" height="3" fill="#212830"/>
<rect x="3" y="649" width="1" height="2" fill="#212830"/>
<rect x="5" y="616" width="1" height="3" fill="#212830"/>
<rect x="5" y="621" width="1" height="3" fill="#212830"/>
<rect x="5" y="625" width="1" height="3" fill="#212830"/>
<rect x="5" y="630" width="1" height="14" fill="#212830"/>
<rect x="5" y="645" width="1" height="3" fill="#212830"/>
<rect x="5" y="649" width="1" height="2" fill="#212830"/>
<rect x="0" y="618" width="1" height="1" fill="#212830"/>
<rect x="0" y="622" width="1" height="1" fill="#212830"/>
<rect x="0" y="627" width="1" height="1" fill="#212830"/>
<rect x="0" y="630" width="1" height="1" fill="#212830"/>
<rect x="0" y="632" width="1" height="1" fill="#212830"/>
<rect x="0" y="634" width="1" height="1" fill="#212830"/>
<rect x="0" y="637" width="1" height="1" fill="#212830"/>
<rect x="0" y="639" width="1" height="1" fill="#212830"/>
<rect x="0" y="643" width="1" height="1" fill="#212830"/>
<rect x="0" y="647" width="1" height="1" fill="#212830"/>
<rect x="-2" y="684" width="9" height="18" fill="#ffffff" />
<rect x="1" y="685" width="1" height="3" fill="#212830"/>
<rect x="1" y="690" width="1" height="5" fill="#212830"/>
<rect x="1" y="696" width="1" height="4" fill="#212830"/>
<rect x="3" y="685" width="1" height="3" fill="#212830"/>
<rect x="3" y="690" width="1" height="5" fill="#212830"/>
<rect x="3" y="696" width="1" height="4" fill="#212830"/>
<rect x="5" y="685" width="1" height="3" fill="#212830"/>
<rect x="5" y="690" width="1" height="5" fill="#212830"/>
<rect x="5" y="696" width="1" height="4" fill="#212830"/>
<rect x="0" y="686" width="1" height="1" fill="#212830"/>
<rect x="0" y="691" width="1" height="1" fill="#212830"/>
<rect x="0" y="694" width="1" height="1" fill="#212830"/>
<rect x="0" y="699" width="1" height="1" fill="#212830"/>
<path d="M0,24 L7,0 L14,24 M2.3,16 L11.7,16" transform="translate(1.20,586.40) scale(1.0000)" fill="none" stroke="#fff" stroke-width="1.150" stroke-linejoin="round"/>
<path d="M2,0 L12.5,0 L6.3,9 L10,9 C11.5,9 12.4,10.2 12.4,11.5 L12.4,19.5 C12.4,22.5 10,24 6.5,24 C3.5,24 1.5,22.5 0.3,19.5" transform="translate(21.20,586.40) scale(1.0000)" fill="none" stroke="#fff" stroke-width="1.150" stroke-linejoin="round"/>
<rect x="12" y="641" width="72" height="1" fill="#ffffff"/>
<rect x="12" y="672" width="72" height="1" fill="#ffffff"/>
<rect x="12" y="641" width="1" height="32" fill="#ffffff"/>
<rect x="83" y="641" width="1" height="32" fill="#ffffff"/>
<rect x="13" y="642" width="70" height="1" fill="#ffffff"/>
<rect x="13" y="671" width="70" height="1" fill="#ffffff"/>
<rect x="13" y="642" width="1" height="30" fill="#ffffff"/>
<rect x="82" y="642" width="1" height="30" fill="#ffffff"/>
<rect x="14" y="643" width="68" height="2" fill="url(#txt)"/>
<rect x="14" y="645" width="68" height="1" fill="#ffffff" />
<rect x="15" y="648" width="23" height="4" fill="url(#blk2)"/>
<rect x="41" y="647" width="13" height="5" fill="url(#blk2)"/>
<rect x="59" y="648" width="23" height="2" fill="#ffffff" />
<rect x="60" y="652" width="20" height="2" fill="#ffffff" />
<rect x="38" y="646" width="3" height="26" fill="#ffffff" />
<rect x="57" y="646" width="3" height="26" fill="#ffffff" />
<rect x="15" y="654" width="23" height="1" fill="#ffffff" />
<rect x="15" y="661" width="23" height="1" fill="#ffffff" />
<rect x="15" y="662" width="23" height="4" fill="url(#blk2)"/>
<rect x="42" y="656" width="13" height="8" fill="url(#blk2)"/>
<rect x="61" y="656" width="18" height="1" fill="#ffffff" />
<rect x="61" y="660" width="11" height="1" fill="#ffffff" />
<rect x="60" y="655" width="21" height="1" fill="#ffffff"/>
<rect x="60" y="667" width="21" height="1" fill="#ffffff"/>
<rect x="60" y="655" width="1" height="13" fill="#ffffff"/>
<rect x="80" y="655" width="1" height="13" fill="#ffffff"/>
<rect x="14" y="667" width="68" height="4" fill="url(#txt)"/>
<rect x="9" y="652" width="4" height="6" fill="#ffffff" />
<rect x="83" y="652" width="3" height="6" fill="#ffffff" />
<rect x="28" y="638" width="7" height="3" fill="#00ff00" />
<rect x="72" y="637" width="7" height="4" fill="#00ff00" />
<rect x="36" y="646" width="3" height="3" fill="#00ff00" />
<rect x="42" y="652" width="10" height="3" fill="#00ff00" />
<rect x="40" y="656" width="5" height="3" fill="#00ff00" />
<rect x="16" y="663" width="3" height="3" fill="#00ff00" />
<rect x="7" y="668" width="6" height="3" fill="#00ff00" />
<rect x="60" y="662" width="4" height="3" fill="#00ff00" />
<rect x="60" y="669" width="10" height="2" fill="#00ff00" />
<rect x="80" y="645" width="3" height="3" fill="#00ff00" />
<rect x="75" y="662" width="7" height="5" fill="#808080" />
<rect x="36" y="663" width="2" height="2" fill="#ff0000" />
<rect x="79" y="658" width="2" height="2" fill="#ff0000" />
<rect x="15" y="634" width="15" height="1" fill="#ffffff" />
<rect x="27" y="676" width="51" height="2" fill="url(#txt)"/>
<rect x="27" y="675" width="51" height="1" fill="#00ffff"/>
<rect x="27" y="678" width="51" height="1" fill="#00ffff"/>
<rect x="27" y="675" width="1" height="4" fill="#00ffff"/>
<rect x="77" y="675" width="1" height="4" fill="#00ffff"/>
<rect x="43" y="621" width="17" height="7" fill="#ffffff" />
<rect x="58" y="625" width="16" height="3" fill="#ffffff" />
<rect x="87" y="630" width="38" height="45" fill="#ffffff" />
<rect x="92" y="632" width="3" height="1" fill="#212830" />
<rect x="97" y="632" width="5" height="1" fill="#212830" />
<rect x="103" y="632" width="2" height="1" fill="#212830" />
<rect x="117" y="632" width="1" height="1" fill="#212830" />
<rect x="121" y="632" width="1" height="1" fill="#212830" />
<rect x="92" y="634" width="3" height="1" fill="#212830" />
<rect x="97" y="634" width="4" height="1" fill="#212830" />
<rect x="103" y="634" width="4" height="1" fill="#212830" />
<rect x="117" y="634" width="1" height="1" fill="#212830" />
<rect x="121" y="634" width="1" height="1" fill="#212830" />
<rect x="92" y="636" width="3" height="1" fill="#212830" />
<rect x="97" y="636" width="3" height="1" fill="#212830" />
<rect x="103" y="636" width="2" height="1" fill="#212830" />
<rect x="117" y="636" width="1" height="1" fill="#212830" />
<rect x="121" y="636" width="1" height="1" fill="#212830" />
<rect x="92" y="638" width="3" height="1" fill="#212830" />
<rect x="97" y="638" width="5" height="1" fill="#212830" />
<rect x="103" y="638" width="4" height="1" fill="#212830" />
<rect x="117" y="638" width="1" height="1" fill="#212830" />
<rect x="121" y="638" width="1" height="1" fill="#212830" />
<rect x="92" y="640" width="3" height="1" fill="#212830" />
<rect x="97" y="640" width="4" height="1" fill="#212830" />
<rect x="103" y="640" width="2" height="1" fill="#212830" />
<rect x="117" y="640" width="1" height="1" fill="#212830" />
<rect x="121" y="640" width="1" height="1" fill="#212830" />
<rect x="92" y="642" width="3" height="1" fill="#212830" />
<rect x="97" y="642" width="3" height="1" fill="#212830" />
<rect x="103" y="642" width="4" height="1" fill="#212830" />
<rect x="117" y="642" width="1" height="1" fill="#212830" />
<rect x="121" y="642" width="1" height="1" fill="#212830" />
<rect x="92" y="644" width="3" height="1" fill="#212830" />
<rect x="97" y="644" width="5" height="1" fill="#212830" />
<rect x="103" y="644" width="2" height="1" fill="#212830" />
<rect x="117" y="644" width="1" height="1" fill="#212830" />
<rect x="121" y="644" width="1" height="1" fill="#212830" />
<rect x="92" y="646" width="3" height="1" fill="#212830" />
<rect x="97" y="646" width="4" height="1" fill="#212830" />
<rect x="103" y="646" width="4" height="1" fill="#212830" />
<rect x="117" y="646" width="1" height="1" fill="#212830" />
<rect x="121" y="646" width="1" height="1" fill="#212830" />
<rect x="92" y="648" width="3" height="1" fill="#212830" />
<rect x="97" y="648" width="3" height="1" fill="#212830" />
<rect x="103" y="648" width="2" height="1" fill="#212830" />
<rect x="117" y="648" width="1" height="1" fill="#212830" />
<rect x="121" y="648" width="1" height="1" fill="#212830" />
<rect x="92" y="650" width="3" height="1" fill="#212830" />
<rect x="97" y="650" width="5" height="1" fill="#212830" />
<rect x="103" y="650" width="4" height="1" fill="#212830" />
<rect x="117" y="650" width="1" height="1" fill="#212830" />
<rect x="121" y="650" width="1" height="1" fill="#212830" />
<rect x="92" y="652" width="3" height="1" fill="#212830" />
<rect x="97" y="652" width="4" height="1" fill="#212830" />
<rect x="103" y="652" width="2" height="1" fill="#212830" />
<rect x="117" y="652" width="1" height="1" fill="#212830" />
<rect x="121" y="652" width="1" height="1" fill="#212830" />
<rect x="92" y="654" width="3" height="1" fill="#212830" />
<rect x="97" y="654" width="3" height="1" fill="#212830" />
<rect x="103" y="654" width="4" height="1" fill="#212830" />
<rect x="117" y="654" width="1" height="1" fill="#212830" />
<rect x="121" y="654" width="1" height="1" fill="#212830" />
<rect x="92" y="656" width="3" height="1" fill="#212830" />
<rect x="97" y="656" width="5" height="1" fill="#212830" />
<rect x="103" y="656" width="2" height="1" fill="#212830" />
<rect x="117" y="656" width="1" height="1" fill="#212830" />
<rect x="121" y="656" width="1" height="1" fill="#212830" />
<rect x="92" y="658" width="3" height="1" fill="#212830" />
<rect x="97" y="658" width="4" height="1" fill="#212830" />
<rect x="103" y="658" width="4" height="1" fill="#212830" />
<rect x="117" y="658" width="1" height="1" fill="#212830" />
<rect x="121" y="658" width="1" height="1" fill="#212830" />
<rect x="92" y="660" width="3" height="1" fill="#212830" />
<rect x="97" y="660" width="3" height="1" fill="#212830" />
<rect x="103" y="660" width="2" height="1" fill="#212830" />
<rect x="117" y="660" width="1" height="1" fill="#212830" />
<rect x="121" y="660" width="1" height="1" fill="#212830" />
<rect x="92" y="662" width="3" height="1" fill="#212830" />
<rect x="97" y="662" width="5" height="1" fill="#212830" />
<rect x="103" y="662" width="4" height="1" fill="#212830" />
<rect x="117" y="662" width="1" height="1" fill="#212830" />
<rect x="121" y="662" width="1" height="1" fill="#212830" />
<rect x="92" y="664" width="3" height="1" fill="#212830" />
<rect x="97" y="664" width="4" height="1" fill="#212830" />
<rect x="103" y="664" width="2" height="1" fill="#212830" />
<rect x="117" y="664" width="1" height="1" fill="#212830" />
<rect x="121" y="664" width="1" height="1" fill="#212830" />
<rect x="92" y="666" width="3" height="1" fill="#212830" />
<rect x="97" y="666" width="3" height="1" fill="#212830" />
<rect x="103" y="666" width="4" height="1" fill="#212830" />
<rect x="117" y="666" width="1" height="1" fill="#212830" />
<rect x="121" y="666" width="1" height="1" fill="#212830" />
<rect x="92" y="668" width="3" height="1" fill="#212830" />
<rect x="97" y="668" width="5" height="1" fill="#212830" />
<rect x="103" y="668" width="2" height="1" fill="#212830" />
<rect x="117" y="668" width="1" height="1" fill="#212830" />
<rect x="121" y="668" width="1" height="1" fill="#212830" />
<rect x="92" y="670" width="3" height="1" fill="#212830" />
<rect x="97" y="670" width="4" height="1" fill="#212830" />
<rect x="103" y="670" width="4" height="1" fill="#212830" />
<rect x="117" y="670" width="1" height="1" fill="#212830" />
<rect x="121" y="670" width="1" height="1" fill="#212830" />
<rect x="92" y="672" width="3" height="1" fill="#212830" />
<rect x="97" y="672" width="3" height="1" fill="#212830" />
<rect x="103" y="672" width="2" height="1" fill="#212830" />
<rect x="117" y="672" width="1" height="1" fill="#212830" />
<rect x="121" y="672" width="1" height="1" fill="#212830" />
<rect x="85" y="650" width="3" height="5" fill="#ffffff" />
<rect x="20" y="685" width="24" height="8" fill="#ffffff" />
<rect x="44" y="688" width="5" height="3" fill="#ffffff" />
<rect x="12" y="686" width="5" height="6" fill="#ffffff" />
<rect x="24" y="687" width="1" height="1" fill="#212830" />
<rect x="30" y="689" width="1" height="1" fill="#212830" />
<rect x="36" y="687" width="1" height="1" fill="#212830" />
<rect x="27" y="691" width="1" height="1" fill="#212830" />
<rect x="14" y="688" width="1" height="1" fill="#212830" />
<rect x="70" y="688" width="56" height="1" fill="#00ffff"/>
<rect x="70" y="688" width="1" height="14" fill="#00ffff"/>
<rect x="97" y="688" width="1" height="14" fill="#ffffff"/>
<rect x="117" y="688" width="1" height="5" fill="#ffffff"/>
<rect x="70" y="692" width="56" height="1" fill="#ffffff"/>
<rect x="71" y="694" width="26" height="1" fill="#ffffff"/>
<rect x="71" y="696" width="26" height="1" fill="#ffffff"/>
<rect x="71" y="699" width="26" height="1" fill="#ffffff"/>
<rect x="82" y="692" width="1" height="10" fill="#ffffff"/>
<rect x="92" y="692" width="1" height="10" fill="#ffffff"/>
<rect x="72" y="693" width="1" height="8" fill="#ff0000" />
<rect x="75" y="693" width="1" height="8" fill="#ff0000" />
<rect x="70" y="701" width="56" height="1" fill="#ffffff"/>
<rect x="98" y="698" width="27" height="1" fill="#ffffff"/>
<rect x="105" y="694" width="12" height="2" fill="#ffffff" />
<rect x="114" y="690" width="3" height="2" fill="#ff0000" />
<rect x="120" y="690" width="2" height="1" fill="#ff0000" />
<rect x="122" y="689" width="2" height="3" fill="#ff0000" />
<rect x="100" y="700" width="1" height="0" fill="#ffffff" />
<rect x="105" y="700" width="1" height="0" fill="#ffffff" />
<rect x="110" y="700" width="1" height="0" fill="#ffffff" />
<rect x="115" y="700" width="1" height="0" fill="#ffffff" />
<rect x="120" y="700" width="1" height="0" fill="#ffffff" />
<rect x="148" y="576" width="186" height="1" fill="#ff0000"/>
<rect x="148" y="706" width="186" height="1" fill="#ff0000"/>
<rect x="148" y="576" width="1" height="131" fill="#ff0000"/>
<rect x="333" y="576" width="1" height="131" fill="#ff0000"/>
<rect x="156" y="579" width="175" height="1" fill="#00ffff"/>
<rect x="156" y="703" width="175" height="1" fill="#00ffff"/>
<rect x="156" y="579" width="1" height="125" fill="#00ffff"/>
<rect x="330" y="579" width="1" height="125" fill="#00ffff"/>
<rect x="148" y="579" width="9" height="38" fill="#ffffff" />
<rect x="151" y="580" width="1" height="3" fill="#212830"/>
<rect x="151" y="585" width="1" height="3" fill="#212830"/>
<rect x="151" y="589" width="1" height="3" fill="#212830"/>
<rect x="151" y="594" width="1" height="14" fill="#212830"/>
<rect x="151" y="609" width="1" height="3" fill="#212830"/>
<rect x="151" y="613" width="1" height="2" fill="#212830"/>
<rect x="153" y="580" width="1" height="3" fill="#212830"/>
<rect x="153" y="585" width="1" height="3" fill="#212830"/>
<rect x="153" y="589" width="1" height="3" fill="#212830"/>
<rect x="153" y="594" width="1" height="14" fill="#212830"/>
<rect x="153" y="609" width="1" height="3" fill="#212830"/>
<rect x="153" y="613" width="1" height="2" fill="#212830"/>
<rect x="155" y="580" width="1" height="3" fill="#212830"/>
<rect x="155" y="585" width="1" height="3" fill="#212830"/>
<rect x="155" y="589" width="1" height="3" fill="#212830"/>
<rect x="155" y="594" width="1" height="14" fill="#212830"/>
<rect x="155" y="609" width="1" height="3" fill="#212830"/>
<rect x="155" y="613" width="1" height="2" fill="#212830"/>
<rect x="149" y="582" width="1" height="1" fill="#212830"/>
<rect x="149" y="586" width="1" height="1" fill="#212830"/>
<rect x="149" y="591" width="1" height="1" fill="#212830"/>
<rect x="149" y="594" width="1" height="1" fill="#212830"/>
<rect x="149" y="596" width="1" height="1" fill="#212830"/>
<rect x="149" y="598" width="1" height="1" fill="#212830"/>
<rect x="149" y="601" width="1" height="1" fill="#212830"/>
<rect x="149" y="603" width="1" height="1" fill="#212830"/>
<rect x="149" y="607" width="1" height="1" fill="#212830"/>
<rect x="149" y="611" width="1" height="1" fill="#212830"/>
<rect x="148" y="686" width="9" height="18" fill="#ffffff" />
<rect x="151" y="687" width="1" height="3" fill="#212830"/>
<rect x="151" y="692" width="1" height="5" fill="#212830"/>
<rect x="151" y="698" width="1" height="4" fill="#212830"/>
<rect x="153" y="687" width="1" height="3" fill="#212830"/>
<rect x="153" y="692" width="1" height="5" fill="#212830"/>
<rect x="153" y="698" width="1" height="4" fill="#212830"/>
<rect x="155" y="687" width="1" height="3" fill="#212830"/>
<rect x="155" y="692" width="1" height="5" fill="#212830"/>
<rect x="155" y="698" width="1" height="4" fill="#212830"/>
<rect x="149" y="688" width="1" height="1" fill="#212830"/>
<rect x="149" y="693" width="1" height="1" fill="#212830"/>
<rect x="149" y="696" width="1" height="1" fill="#212830"/>
<rect x="149" y="701" width="1" height="1" fill="#212830"/>
<path d="M0,24 L7,0 L14,24 M2.3,16 L11.7,16" transform="translate(148.20,548.20) scale(1.0083)" fill="none" stroke="#fff" stroke-width="1.140" stroke-linejoin="round"/>
<path d="M1.3,6 C1.3,2.5 3,0 5.5,0 L8.5,0 C11,0 12.3,2 12.3,4.5 L12.3,7.5 C12.3,9 11.5,10.3 10.5,11.4 L0.3,24 L13.6,24" transform="translate(168.37,548.20) scale(1.0083)" fill="none" stroke="#fff" stroke-width="1.140" stroke-linejoin="round"/>
<rect x="180" y="603" width="29" height="3" fill="#ffffff" />
<rect x="216" y="604" width="100" height="2" fill="#ffffff" />
<rect x="186" y="602" width="10" height="2" fill="#ffffff" />
<rect x="293" y="602" width="12" height="2" fill="#ffffff" />
<rect x="184" y="606" width="1" height="31" fill="#ffffff"/>
<rect x="182" y="610" width="4" height="4" fill="#ffffff" />
<rect x="181" y="620" width="8" height="12" fill="url(#blk2)"/>
<rect x="187" y="612" width="7" height="5" fill="#ffffff" />
<rect x="181" y="641" width="6" height="7" fill="url(#blk2)"/>
<rect x="206" y="606" width="1" height="31" fill="#ffffff"/>
<rect x="204" y="610" width="4" height="4" fill="#ffffff" />
<rect x="202" y="613" width="9" height="4" fill="#ffffff" />
<rect x="206" y="617" width="1" height="17" fill="#ffffff"/>
<rect x="203" y="641" width="6" height="7" fill="url(#blk2)"/>
<rect x="223" y="606" width="1" height="31" fill="#ffffff"/>
<rect x="221" y="610" width="4" height="4" fill="#ffffff" />
<rect x="224" y="606" width="1" height="27" fill="#ffffff"/>
<rect x="206" y="632" width="18" height="1" fill="#ffffff"/>
<rect x="223" y="614" width="6" height="11" fill="url(#blk2)"/>
<rect x="220" y="641" width="6" height="7" fill="url(#blk2)"/>
<rect x="240" y="606" width="1" height="31" fill="#ffffff"/>
<rect x="238" y="610" width="4" height="4" fill="#ffffff" />
<rect x="237" y="618" width="6" height="6" fill="#ffffff" />
<rect x="235" y="627" width="10" height="8" fill="url(#blk2)"/>
<rect x="242" y="611" width="4" height="4" fill="#ffffff" />
<rect x="237" y="641" width="6" height="7" fill="url(#blk2)"/>
<rect x="256" y="606" width="1" height="31" fill="#ffffff"/>
<rect x="254" y="610" width="4" height="4" fill="#ffffff" />
<rect x="253" y="618" width="6" height="6" fill="#ffffff" />
<rect x="251" y="627" width="10" height="8" fill="url(#blk2)"/>
<rect x="258" y="611" width="4" height="4" fill="#ffffff" />
<rect x="253" y="641" width="6" height="7" fill="url(#blk2)"/>
<rect x="273" y="606" width="1" height="31" fill="#ffffff"/>
<rect x="271" y="610" width="4" height="4" fill="#ffffff" />
<rect x="270" y="618" width="6" height="6" fill="#ffffff" />
<rect x="268" y="627" width="10" height="8" fill="url(#blk2)"/>
<rect x="275" y="611" width="4" height="4" fill="#ffffff" />
<rect x="270" y="641" width="6" height="7" fill="url(#blk2)"/>
<rect x="290" y="606" width="1" height="31" fill="#ffffff"/>
<rect x="288" y="610" width="4" height="4" fill="#ffffff" />
<rect x="287" y="618" width="6" height="6" fill="#ffffff" />
<rect x="285" y="627" width="10" height="8" fill="url(#blk2)"/>
<rect x="292" y="611" width="4" height="4" fill="#ffffff" />
<rect x="287" y="641" width="6" height="7" fill="url(#blk2)"/>
<rect x="307" y="606" width="1" height="31" fill="#ffffff"/>
<rect x="305" y="610" width="4" height="4" fill="#ffffff" />
<rect x="304" y="618" width="6" height="6" fill="#ffffff" />
<rect x="302" y="627" width="10" height="8" fill="url(#blk2)"/>
<rect x="309" y="611" width="4" height="4" fill="#ffffff" />
<rect x="304" y="641" width="6" height="7" fill="url(#blk2)"/>
<rect x="163" y="636" width="14" height="3" fill="#ff0000" />
<rect x="163" y="639" width="24" height="1" fill="#ffffff"/>
<rect x="176" y="658.0" width="9" height="3.0" fill="#ffffff" />
<rect x="176" y="662.6" width="9" height="3.0" fill="#ffffff" />
<rect x="176" y="667.2" width="16" height="3.0" fill="#ffffff" />
<rect x="176" y="671.8" width="9" height="3.0" fill="#ffffff" />
<rect x="176" y="676.4" width="16" height="3.0" fill="#ffffff" />
<rect x="176" y="681.0" width="9" height="3.0" fill="#ffffff" />
<rect x="176" y="685.6" width="11" height="3.0" fill="#ffffff" />
<rect x="273" y="690" width="57" height="1" fill="#00ffff"/>
<rect x="273" y="694" width="57" height="1" fill="#ffffff"/>
<rect x="273" y="702" width="57" height="1" fill="#ffffff"/>
<rect x="305" y="696" width="11" height="3" fill="#ffffff" />
<rect x="320" y="691" width="4" height="2" fill="#ff0000" />
<rect x="326" y="691" width="3" height="2" fill="#ff0000" />
<rect x="303" y="699" width="26" height="3" fill="url(#txt)"/>
<rect x="353" y="577" width="186" height="1" fill="#ff0000"/>
<rect x="353" y="707" width="186" height="1" fill="#ff0000"/>
<rect x="353" y="577" width="1" height="131" fill="#ff0000"/>
<rect x="538" y="577" width="1" height="131" fill="#ff0000"/>
<rect x="361" y="580" width="174" height="1" fill="#00ffff"/>
<rect x="361" y="704" width="174" height="1" fill="#00ffff"/>
<rect x="361" y="580" width="1" height="125" fill="#00ffff"/>
<rect x="534" y="580" width="1" height="125" fill="#00ffff"/>
<rect x="353" y="580" width="9" height="38" fill="#ffffff" />
<rect x="356" y="581" width="1" height="3" fill="#212830"/>
<rect x="356" y="586" width="1" height="3" fill="#212830"/>
<rect x="356" y="590" width="1" height="3" fill="#212830"/>
<rect x="356" y="595" width="1" height="14" fill="#212830"/>
<rect x="356" y="610" width="1" height="3" fill="#212830"/>
<rect x="356" y="614" width="1" height="2" fill="#212830"/>
<rect x="358" y="581" width="1" height="3" fill="#212830"/>
<rect x="358" y="586" width="1" height="3" fill="#212830"/>
<rect x="358" y="590" width="1" height="3" fill="#212830"/>
<rect x="358" y="595" width="1" height="14" fill="#212830"/>
<rect x="358" y="610" width="1" height="3" fill="#212830"/>
<rect x="358" y="614" width="1" height="2" fill="#212830"/>
<rect x="360" y="581" width="1" height="3" fill="#212830"/>
<rect x="360" y="586" width="1" height="3" fill="#212830"/>
<rect x="360" y="590" width="1" height="3" fill="#212830"/>
<rect x="360" y="595" width="1" height="14" fill="#212830"/>
<rect x="360" y="610" width="1" height="3" fill="#212830"/>
<rect x="360" y="614" width="1" height="2" fill="#212830"/>
<rect x="354" y="583" width="1" height="1" fill="#212830"/>
<rect x="354" y="587" width="1" height="1" fill="#212830"/>
<rect x="354" y="592" width="1" height="1" fill="#212830"/>
<rect x="354" y="595" width="1" height="1" fill="#212830"/>
<rect x="354" y="597" width="1" height="1" fill="#212830"/>
<rect x="354" y="599" width="1" height="1" fill="#212830"/>
<rect x="354" y="602" width="1" height="1" fill="#212830"/>
<rect x="354" y="604" width="1" height="1" fill="#212830"/>
<rect x="354" y="608" width="1" height="1" fill="#212830"/>
<rect x="354" y="612" width="1" height="1" fill="#212830"/>
<rect x="353" y="687" width="9" height="18" fill="#ffffff" />
<rect x="356" y="688" width="1" height="3" fill="#212830"/>
<rect x="356" y="693" width="1" height="5" fill="#212830"/>
<rect x="356" y="699" width="1" height="4" fill="#212830"/>
<rect x="358" y="688" width="1" height="3" fill="#212830"/>
<rect x="358" y="693" width="1" height="5" fill="#212830"/>
<rect x="358" y="699" width="1" height="4" fill="#212830"/>
<rect x="360" y="688" width="1" height="3" fill="#212830"/>
<rect x="360" y="693" width="1" height="5" fill="#212830"/>
<rect x="360" y="699" width="1" height="4" fill="#212830"/>
<rect x="354" y="689" width="1" height="1" fill="#212830"/>
<rect x="354" y="694" width="1" height="1" fill="#212830"/>
<rect x="354" y="697" width="1" height="1" fill="#212830"/>
<rect x="354" y="702" width="1" height="1" fill="#212830"/>
<path d="M0,24 L7,0 L14,24 M2.3,16 L11.7,16" transform="translate(353.20,548.20) scale(1.0083)" fill="none" stroke="#fff" stroke-width="1.140" stroke-linejoin="round"/>
<path d="M1.3,6 C1.3,2.5 3,0 5.5,0 L8.5,0 C11,0 12.3,2 12.3,4.5 L12.3,7.5 C12.3,9 11.5,10.3 10.5,11.4 L0.3,24 L13.6,24" transform="translate(373.37,548.20) scale(1.0083)" fill="none" stroke="#fff" stroke-width="1.140" stroke-linejoin="round"/>
<rect x="374" y="601" width="101" height="2" fill="#ffffff" />
<rect x="481" y="601" width="29" height="2" fill="#ffffff" />
<rect x="391" y="599" width="6" height="2" fill="#ffffff" />
<rect x="505" y="599" width="5" height="2" fill="#ffffff" />
<rect x="382" y="603" width="1" height="34" fill="#ffffff"/>
<rect x="380" y="607" width="4" height="4" fill="#ffffff" />
<rect x="379" y="617" width="6" height="5" fill="#ffffff" />
<rect x="377" y="627" width="10" height="6" fill="url(#blk2)"/>
<rect x="379" y="640" width="6" height="5" fill="url(#blk2)"/>
<rect x="399" y="603" width="1" height="34" fill="#ffffff"/>
<rect x="397" y="607" width="4" height="4" fill="#ffffff" />
<rect x="396" y="617" width="6" height="5" fill="#ffffff" />
<rect x="394" y="627" width="10" height="6" fill="url(#blk2)"/>
<rect x="396" y="640" width="6" height="5" fill="url(#blk2)"/>
<rect x="415" y="603" width="1" height="34" fill="#ffffff"/>
<rect x="413" y="607" width="4" height="4" fill="#ffffff" />
<rect x="412" y="617" width="6" height="5" fill="#ffffff" />
<rect x="410" y="627" width="10" height="6" fill="url(#blk2)"/>
<rect x="412" y="640" width="6" height="5" fill="url(#blk2)"/>
<rect x="432" y="603" width="1" height="34" fill="#ffffff"/>
<rect x="430" y="607" width="4" height="4" fill="#ffffff" />
<rect x="429" y="617" width="6" height="5" fill="#ffffff" />
<rect x="427" y="627" width="10" height="6" fill="url(#blk2)"/>
<rect x="429" y="640" width="6" height="5" fill="url(#blk2)"/>
<rect x="449" y="603" width="1" height="34" fill="#ffffff"/>
<rect x="447" y="607" width="4" height="4" fill="#ffffff" />
<rect x="446" y="617" width="6" height="5" fill="#ffffff" />
<rect x="444" y="627" width="10" height="6" fill="url(#blk2)"/>
<rect x="446" y="640" width="6" height="5" fill="url(#blk2)"/>
<rect x="466" y="603" width="1" height="34" fill="#ffffff"/>
<rect x="464" y="607" width="4" height="4" fill="#ffffff" />
<rect x="464" y="605" width="5" height="17" fill="url(#blk2)"/>
<rect x="471" y="603" width="1" height="26" fill="#ffffff"/>
<rect x="471" y="628" width="13" height="1" fill="#ffffff"/>
<rect x="463" y="640" width="6" height="5" fill="url(#blk2)"/>
<rect x="484" y="603" width="1" height="34" fill="#ffffff"/>
<rect x="482" y="607" width="4" height="4" fill="#ffffff" />
<rect x="481" y="607" width="5" height="18" fill="url(#blk2)"/>
<rect x="487" y="609" width="5" height="4" fill="#ffffff" />
<rect x="481" y="640" width="6" height="5" fill="url(#blk2)"/>
<rect x="506" y="603" width="1" height="34" fill="#ffffff"/>
<rect x="504" y="607" width="4" height="4" fill="#ffffff" />
<rect x="501" y="614" width="10" height="18" fill="url(#blk)"/>
<rect x="494" y="607" width="8" height="4" fill="#ffffff" />
<rect x="506" y="632" width="1" height="4" fill="#ffffff"/>
<rect x="506" y="635" width="7" height="1" fill="#ffffff"/>
<rect x="503" y="640" width="6" height="5" fill="url(#blk2)"/>
<rect x="513" y="633" width="14" height="3" fill="#ff0000" />
<rect x="380" y="659.0" width="9" height="3.0" fill="#ffffff" />
<rect x="380" y="663.6" width="9" height="3.0" fill="#ffffff" />
<rect x="380" y="668.2" width="16" height="3.0" fill="#ffffff" />
<rect x="380" y="672.8" width="9" height="3.0" fill="#ffffff" />
<rect x="380" y="677.4" width="16" height="3.0" fill="#ffffff" />
<rect x="380" y="682.0" width="9" height="3.0" fill="#ffffff" />
<rect x="380" y="686.6" width="11" height="3.0" fill="#ffffff" />
<rect x="478" y="691" width="57" height="1" fill="#00ffff"/>
<rect x="478" y="691" width="1" height="14" fill="#00ffff"/>
<rect x="506" y="691" width="1" height="14" fill="#ffffff"/>
<rect x="526" y="691" width="1" height="5" fill="#ffffff"/>
<rect x="478" y="695" width="57" height="1" fill="#ffffff"/>
<rect x="479" y="697" width="27" height="1" fill="#ffffff"/>
<rect x="479" y="699" width="27" height="1" fill="#ffffff"/>
<rect x="479" y="702" width="27" height="1" fill="#ffffff"/>
<rect x="490" y="695" width="1" height="10" fill="#ffffff"/>
<rect x="500" y="695" width="1" height="10" fill="#ffffff"/>
<rect x="480" y="696" width="1" height="8" fill="#ff0000" />
<rect x="483" y="696" width="1" height="8" fill="#ff0000" />
<rect x="478" y="704" width="57" height="1" fill="#ffffff"/>
<rect x="507" y="701" width="27" height="1" fill="#ffffff"/>
<rect x="514" y="697" width="12" height="2" fill="#ffffff" />
<rect x="523" y="693" width="3" height="2" fill="#ff0000" />
<rect x="529" y="693" width="2" height="1" fill="#ff0000" />
<rect x="531" y="692" width="2" height="3" fill="#ff0000" />
<rect x="509" y="703" width="1" height="0" fill="#ffffff" />
<rect x="514" y="703" width="1" height="0" fill="#ffffff" />
<rect x="519" y="703" width="1" height="0" fill="#ffffff" />
<rect x="524" y="703" width="1" height="0" fill="#ffffff" />
<rect x="529" y="703" width="1" height="0" fill="#ffffff" />
<rect x="556" y="520" width="311" height="1" fill="#ff0000"/>
<rect x="556" y="704" width="311" height="1" fill="#ff0000"/>
<rect x="556" y="520" width="1" height="185" fill="#ff0000"/>
<rect x="866" y="520" width="1" height="185" fill="#ff0000"/>
<rect x="564" y="523" width="300" height="1" fill="#00ffff"/>
<rect x="564" y="701" width="300" height="1" fill="#00ffff"/>
<rect x="564" y="523" width="1" height="179" fill="#00ffff"/>
<rect x="863" y="523" width="1" height="179" fill="#00ffff"/>
<rect x="556" y="523" width="9" height="39" fill="#ffffff" />
<rect x="559" y="524" width="1" height="4" fill="#212830"/>
<rect x="559" y="529" width="1" height="3" fill="#212830"/>
<rect x="559" y="533" width="1" height="4" fill="#212830"/>
<rect x="559" y="538" width="1" height="15" fill="#212830"/>
<rect x="559" y="554" width="1" height="2" fill="#212830"/>
<rect x="559" y="558" width="1" height="2" fill="#212830"/>
<rect x="561" y="524" width="1" height="4" fill="#212830"/>
<rect x="561" y="529" width="1" height="3" fill="#212830"/>
<rect x="561" y="533" width="1" height="4" fill="#212830"/>
<rect x="561" y="538" width="1" height="15" fill="#212830"/>
<rect x="561" y="554" width="1" height="2" fill="#212830"/>
<rect x="561" y="558" width="1" height="2" fill="#212830"/>
<rect x="563" y="524" width="1" height="4" fill="#212830"/>
<rect x="563" y="529" width="1" height="3" fill="#212830"/>
<rect x="563" y="533" width="1" height="4" fill="#212830"/>
<rect x="563" y="538" width="1" height="15" fill="#212830"/>
<rect x="563" y="554" width="1" height="2" fill="#212830"/>
<rect x="563" y="558" width="1" height="2" fill="#212830"/>
<rect x="557" y="526" width="1" height="1" fill="#212830"/>
<rect x="557" y="530" width="1" height="1" fill="#212830"/>
<rect x="557" y="535" width="1" height="1" fill="#212830"/>
<rect x="557" y="539" width="1" height="1" fill="#212830"/>
<rect x="557" y="540" width="1" height="1" fill="#212830"/>
<rect x="557" y="542" width="1" height="1" fill="#212830"/>
<rect x="557" y="545" width="1" height="1" fill="#212830"/>
<rect x="557" y="548" width="1" height="1" fill="#212830"/>
<rect x="557" y="552" width="1" height="1" fill="#212830"/>
<rect x="557" y="556" width="1" height="1" fill="#212830"/>
<rect x="556" y="684" width="9" height="18" fill="#ffffff" />
<rect x="559" y="685" width="1" height="3" fill="#212830"/>
<rect x="559" y="690" width="1" height="5" fill="#212830"/>
<rect x="559" y="696" width="1" height="4" fill="#212830"/>
<rect x="561" y="685" width="1" height="3" fill="#212830"/>
<rect x="561" y="690" width="1" height="5" fill="#212830"/>
<rect x="561" y="696" width="1" height="4" fill="#212830"/>
<rect x="563" y="685" width="1" height="3" fill="#212830"/>
<rect x="563" y="690" width="1" height="5" fill="#212830"/>
<rect x="563" y="696" width="1" height="4" fill="#212830"/>
<rect x="557" y="686" width="1" height="1" fill="#212830"/>
<rect x="557" y="691" width="1" height="1" fill="#212830"/>
<rect x="557" y="694" width="1" height="1" fill="#212830"/>
<rect x="557" y="699" width="1" height="1" fill="#212830"/>
<path d="M0,24 L7,0 L14,24 M2.3,16 L11.7,16" transform="translate(558.50,496.50) scale(0.9375)" fill="none" stroke="#fff" stroke-width="1.227" stroke-linejoin="round"/>
<path d="M0,5 C1.6,4 3.2,2.6 4.3,0 L4.3,24" transform="translate(577.25,496.50) scale(0.9375)" fill="none" stroke="#fff" stroke-width="1.227" stroke-linejoin="round"/>
<path d="M588.5,532.5 L839.5,606.5" fill="none" stroke="#ffffff" stroke-width="1.4" shape-rendering="auto" />
<path d="M588.5,532.5 L588.5,671.5" fill="none" stroke="#00ffff" stroke-width="1.2" shape-rendering="auto" />
<path d="M593.5,543.5 L593.5,667.5" fill="none" stroke="#00ffff" stroke-width="2" shape-rendering="auto" />
<path d="M593.5,666.5 L792.5,666.5" fill="none" stroke="#00ffff" stroke-width="1.4" shape-rendering="auto" />
<path d="M839.5,606.5 L839.5,673.5 L857.5,673.5" fill="none" stroke="#00ffff" stroke-width="1.2" shape-rendering="auto" />
<path d="M586.5,669.5 L857.5,669.5" fill="none" stroke="#ffffff" stroke-width="1.2" shape-rendering="auto" />
<path d="M589.5,538.5 L851.5,617.5" fill="none" stroke="#ffff00" stroke-width="1" shape-rendering="auto" />
<path d="M589.5,540.5 L851.5,619.5" fill="none" stroke="#ffff00" stroke-width="1" shape-rendering="auto" />
<path d="M593.5,543.5 L851.5,622.5" fill="none" stroke="#00ffff" stroke-width="1.2" shape-rendering="auto" />
<path d="M593.5,545.5 L851.5,625.5" fill="none" stroke="#00ff00" stroke-width="1" shape-rendering="auto" />
<path d="M569.5,575.5 L851.5,612.5" fill="none" stroke="#00ff00" stroke-width="1" shape-rendering="auto" />
<path d="M569.5,577.5 L851.5,616.5" fill="none" stroke="#00ff00" stroke-width="1" shape-rendering="auto" />
<path d="M569.5,580.5 L790.5,614.5" fill="none" stroke="#00ff00" stroke-width="1" shape-rendering="auto" />
<path d="M569.5,573.5 L600.5,576.5" fill="none" stroke="#00ff00" stroke-width="1" shape-rendering="auto" />
<path d="M569.5,583.5 L640.5,586.5" fill="none" stroke="#00ff00" stroke-width="1" shape-rendering="auto" />
<path d="M597.0,546.0 L628.0,555.1 L627.0,566.1 L596.0,557.0 Z" fill="none" stroke="#00ff00" stroke-width="1.6" shape-rendering="auto" stroke-dasharray="2,1"/>
<path d="M597.5,550.5 L628.5,559.6" fill="none" stroke="#0000ff" stroke-width="1.6" shape-rendering="auto" stroke-dasharray="2,1"/>
<path d="M597.5,553.5 L628.5,562.6" fill="none" stroke="#0000ff" stroke-width="1.6" shape-rendering="auto" stroke-dasharray="2,1"/>
<rect x="608" y="554" width="9" height="2" fill="#ff0000" />
<path d="M629.0,554.4 L645.0,559.2 L643.0,573.2 L627.0,568.4 Z" fill="#ff00ff" shape-rendering="auto"/>
<path d="M646.0,562.5 L666.0,568.4 L665.0,575.4 L645.0,569.5 Z" fill="none" stroke="#00ffff" stroke-width="1.3" shape-rendering="auto" />
<ellipse cx="667" cy="572.355" rx="2" ry="4" fill="none" stroke="#fff" stroke-width="1" shape-rendering="auto"/>
<path d="M676.0,578.0 L706.0,586.9 L705.0,597.9 L675.0,589.0 Z" fill="none" stroke="#00ff00" stroke-width="1.6" shape-rendering="auto" stroke-dasharray="2,1"/>
<path d="M676.5,582.5 L706.5,591.4" fill="none" stroke="#0000ff" stroke-width="1.6" shape-rendering="auto" stroke-dasharray="2,1"/>
<path d="M676.5,585.5 L706.5,594.4" fill="none" stroke="#0000ff" stroke-width="1.6" shape-rendering="auto" stroke-dasharray="2,1"/>
<rect x="687" y="586" width="9" height="2" fill="#ff0000" />
<path d="M706.0,585.9 L722.0,590.6 L720.0,604.6 L704.0,599.9 Z" fill="#ff00ff" shape-rendering="auto"/>
<path d="M724.0,586.0 L740.0,591.0 L738.0,598.0 L722.0,593.0 Z" fill="none" stroke="#00ffff" stroke-width="1.2" shape-rendering="auto" />
<path d="M754.0,597.0 L765.0,600.0 L762.0,609.0 L751.0,606.0 Z" fill="none" stroke="#ffff00" stroke-width="1.2" shape-rendering="auto" />
<path d="M776.0,604.0 L787.0,607.0 L784.0,615.0 L773.0,612.0 Z" fill="none" stroke="#ffff00" stroke-width="1.2" shape-rendering="auto" />
<rect x="721" y="570" width="5" height="2" fill="#ff0000" />
<rect x="738" y="572" width="5" height="2" fill="#ff0000" />
<rect x="595" y="620" width="34" height="1" fill="#00ff00" />
<rect x="595" y="632" width="34" height="1" fill="#00ff00" />
<rect x="595.5" y="622.5" width="34" height="3" fill="none" stroke="#00ff00" stroke-width="1" stroke-dasharray="1,1"/>
<rect x="595.5" y="627.5" width="34" height="3" fill="none" stroke="#00ff00" stroke-width="1" stroke-dasharray="1,1"/>
<rect x="595" y="624" width="34" height="2" fill="url(#bluedash)"/>
<rect x="595" y="629" width="34" height="2" fill="url(#bluedash)"/>
<rect x="609" y="625" width="10" height="2" fill="#ff0000" />
<rect x="683" y="620" width="36" height="1" fill="#00ff00" />
<rect x="683" y="632" width="36" height="1" fill="#00ff00" />
<rect x="683.5" y="622.5" width="36" height="3" fill="none" stroke="#00ff00" stroke-width="1" stroke-dasharray="1,1"/>
<rect x="683.5" y="627.5" width="36" height="3" fill="none" stroke="#00ff00" stroke-width="1" stroke-dasharray="1,1"/>
<rect x="683" y="624" width="36" height="2" fill="url(#bluedash)"/>
<rect x="683" y="629" width="36" height="2" fill="url(#bluedash)"/>
<rect x="697" y="625" width="10" height="2" fill="#ff0000" />
<rect x="595" y="644" width="34" height="1" fill="#00ff00" />
<rect x="595" y="656" width="34" height="1" fill="#00ff00" />
<rect x="595.5" y="646.5" width="34" height="3" fill="none" stroke="#00ff00" stroke-width="1" stroke-dasharray="1,1"/>
<rect x="595.5" y="651.5" width="34" height="3" fill="none" stroke="#00ff00" stroke-width="1" stroke-dasharray="1,1"/>
<rect x="595" y="648" width="34" height="2" fill="url(#bluedash)"/>
<rect x="595" y="653" width="34" height="2" fill="url(#bluedash)"/>
<rect x="609" y="649" width="10" height="2" fill="#ff0000" />
<rect x="683" y="644" width="36" height="1" fill="#00ff00" />
<rect x="683" y="656" width="36" height="1" fill="#00ff00" />
<rect x="683.5" y="646.5" width="36" height="3" fill="none" stroke="#00ff00" stroke-width="1" stroke-dasharray="1,1"/>
<rect x="683.5" y="651.5" width="36" height="3" fill="none" stroke="#00ff00" stroke-width="1" stroke-dasharray="1,1"/>
<rect x="683" y="648" width="36" height="2" fill="url(#bluedash)"/>
<rect x="683" y="653" width="36" height="2" fill="url(#bluedash)"/>
<rect x="697" y="649" width="10" height="2" fill="#ff0000" />
<rect x="596" y="625" width="3" height="3" fill="#ffffff" />
<rect x="596" y="649" width="3" height="3" fill="#ffffff" />
<rect x="629" y="615" width="11" height="18" fill="#ff00ff" />
<rect x="629" y="645" width="11" height="12" fill="#ff00ff" />
<rect x="640" y="615" width="42" height="6" fill="#ff00ff" />
<rect x="640" y="646" width="42" height="6" fill="#ff00ff" />
<rect x="676" y="615" width="7" height="42" fill="#ff00ff" />
<rect x="683" y="637" width="49" height="5" fill="#ff00ff" />
<rect x="644.5" y="600.5" width="9" height="21" fill="#212830" stroke="#00ffff" stroke-width="1.4"/>
<rect x="647" y="605" width="4" height="12" fill="#00ffff" />
<rect x="645" y="601" width="8" height="2" fill="#ffffff" />
<rect x="645" y="619" width="8" height="2" fill="#ffffff" />
<rect x="640" y="608" width="3" height="1" fill="#0000ff" />
<rect x="654" y="608" width="3" height="1" fill="#0000ff" />
<rect x="644.5" y="633.5" width="9" height="21" fill="#212830" stroke="#00ffff" stroke-width="1.4"/>
<rect x="647" y="638" width="4" height="12" fill="#00ffff" />
<rect x="645" y="634" width="8" height="2" fill="#ffffff" />
<rect x="645" y="652" width="8" height="2" fill="#ffffff" />
<rect x="640" y="641" width="3" height="1" fill="#0000ff" />
<rect x="654" y="641" width="3" height="1" fill="#0000ff" />
<rect x="662.5" y="600.5" width="9" height="21" fill="#212830" stroke="#00ffff" stroke-width="1.4"/>
<rect x="665" y="605" width="4" height="12" fill="#00ffff" />
<rect x="663" y="601" width="8" height="2" fill="#ffffff" />
<rect x="663" y="619" width="8" height="2" fill="#ffffff" />
<rect x="658" y="608" width="3" height="1" fill="#0000ff" />
<rect x="672" y="608" width="3" height="1" fill="#0000ff" />
<rect x="662.5" y="633.5" width="9" height="21" fill="#212830" stroke="#00ffff" stroke-width="1.4"/>
<rect x="665" y="638" width="4" height="12" fill="#00ffff" />
<rect x="663" y="634" width="8" height="2" fill="#ffffff" />
<rect x="663" y="652" width="8" height="2" fill="#ffffff" />
<rect x="658" y="641" width="3" height="1" fill="#0000ff" />
<rect x="672" y="641" width="3" height="1" fill="#0000ff" />
<rect x="683" y="619" width="3" height="3" fill="#ffff00" />
<rect x="683" y="626" width="3" height="3" fill="#ffff00" />
<rect x="683" y="643" width="3" height="3" fill="#ffff00" />
<rect x="683" y="650" width="3" height="3" fill="#ffff00" />
<path d="M658.5,574.5 L658.5,615.5" fill="none" stroke="#00ffff" stroke-width="1" shape-rendering="auto" />
<rect x="732.5" y="634.5" width="64" height="22" fill="none" stroke="#00ff00" stroke-width="1"/>
<path d="M732.5,654.5 L796.5,654.5" fill="none" stroke="#ffffff" stroke-width="1" shape-rendering="auto" />
<rect x="758" y="644" width="13" height="2" fill="#ff0000" />
<rect x="801.5" y="630.5" width="37" height="38" fill="none" stroke="#ffff00" stroke-width="1.2"/>
<rect x="801" y="639" width="50" height="5" fill="#ff00ff" />
<rect x="847" y="639" width="4" height="34" fill="#ff00ff" />
<rect x="813" y="663" width="12" height="4" fill="#ff0000" />
<path d="M831,667 L834,662 L837,667 Z" fill="#ff0000"/>
<path d="M733.5,603.5 L733.5,634.5" fill="none" stroke="#00ffff" stroke-width="1.2" shape-rendering="auto" />
<path d="M785.5,614.5 L785.5,634.5" fill="none" stroke="#ffffff" stroke-width="1" shape-rendering="auto" />
<path d="M798.5,634.5 L798.5,660.5" fill="none" stroke="#ffffff" stroke-width="1" shape-rendering="auto" />
<rect x="601" y="568" width="10" height="3" fill="#ff0000" />
<path d="M601.5,571.5 L613.5,571.5 L617.5,577.5" fill="none" stroke="#ffffff" stroke-width="1" shape-rendering="auto" />
<rect x="617" y="610" width="12" height="3" fill="#ff0000" />
<path d="M617.5,613.5 L630.5,613.5 L634.5,620.5" fill="none" stroke="#ffffff" stroke-width="1" shape-rendering="auto" />
<rect x="665" y="593" width="8" height="3" fill="#ff0000" />
<path d="M665.5,596.5 L674.5,596.5" fill="none" stroke="#ffffff" stroke-width="1" shape-rendering="auto" />
<rect x="740" y="619" width="8" height="2" fill="#ff0000" />
<rect x="676" y="672" width="10" height="2" fill="#ff0000" />
<path d="M686.5,673.5 L690.5,668.5" fill="none" stroke="#ffffff" stroke-width="1" shape-rendering="auto" />
<path d="M673.5,596.5 L668.5,612.5" fill="none" stroke="#ffffff" stroke-width="1" shape-rendering="auto" />
<path d="M747.5,621.5 L740.5,640.5" fill="none" stroke="#ffffff" stroke-width="1" shape-rendering="auto" />
<rect x="597" y="669" width="1" height="2" fill="#ffffff" />
<rect x="609" y="669" width="1" height="2" fill="#ffffff" />
<rect x="621" y="669" width="1" height="2" fill="#ffffff" />
<rect x="633" y="669" width="1" height="2" fill="#ffffff" />
<rect x="645" y="669" width="1" height="2" fill="#ffffff" />
<rect x="657" y="669" width="1" height="2" fill="#ffffff" />
<rect x="669" y="669" width="1" height="2" fill="#ffffff" />
<rect x="681" y="669" width="1" height="2" fill="#ffffff" />
<rect x="693" y="669" width="1" height="2" fill="#ffffff" />
<rect x="705" y="669" width="1" height="2" fill="#ffffff" />
<rect x="717" y="669" width="1" height="2" fill="#ffffff" />
<rect x="729" y="669" width="1" height="2" fill="#ffffff" />
<rect x="741" y="669" width="1" height="2" fill="#ffffff" />
<rect x="753" y="669" width="1" height="2" fill="#ffffff" />
<rect x="765" y="669" width="1" height="2" fill="#ffffff" />
<rect x="777" y="669" width="1" height="2" fill="#ffffff" />
<rect x="789" y="669" width="1" height="2" fill="#ffffff" />
<rect x="801" y="669" width="1" height="2" fill="#ffffff" />
<rect x="813" y="669" width="1" height="2" fill="#ffffff" />
<rect x="825" y="669" width="1" height="2" fill="#ffffff" />
<rect x="837" y="669" width="1" height="2" fill="#ffffff" />
<rect x="849" y="669" width="1" height="2" fill="#ffffff" />
<rect x="587" y="556" width="3" height="1" fill="#ffffff" />
<rect x="587" y="568" width="3" height="1" fill="#ffffff" />
<rect x="587" y="580" width="3" height="1" fill="#ffffff" />
<rect x="587" y="592" width="3" height="1" fill="#ffffff" />
<rect x="587" y="604" width="3" height="1" fill="#ffffff" />
<rect x="587" y="616" width="3" height="1" fill="#ffffff" />
<rect x="587" y="628" width="3" height="1" fill="#ffffff" />
<rect x="587" y="640" width="3" height="1" fill="#ffffff" />
<rect x="587" y="652" width="3" height="1" fill="#ffffff" />
<rect x="587" y="664" width="3" height="1" fill="#ffffff" />
<rect x="571" y="578" width="10" height="7" fill="#ffffff" />
<rect x="574" y="580" width="2" height="3" fill="#212830" />
<rect x="586" y="568" width="5" height="6" fill="#00ffff" />
<rect x="586" y="586" width="5" height="6" fill="#00ffff" />
<path d="M582,551 L585,546 L588,551 Z" fill="none" stroke="#ff0000" stroke-width="1"/>
<path d="M832,550 m-8,0 a8,8 0 1,0 16,0 a8,8 0 1,0 -16,0" fill="none" stroke="#fff" stroke-width="1" shape-rendering="auto"/>
<line x1="832" y1="550" x2="836.0" y2="543.1" stroke="#fff" stroke-width="0.8" shape-rendering="auto"/>
<line x1="832" y1="550" x2="838.6" y2="545.4" stroke="#fff" stroke-width="0.8" shape-rendering="auto"/>
<line x1="832" y1="550" x2="839.9" y2="548.6" stroke="#fff" stroke-width="0.8" shape-rendering="auto"/>
<line x1="832" y1="550" x2="839.7" y2="552.1" stroke="#fff" stroke-width="0.8" shape-rendering="auto"/>
<line x1="832" y1="550" x2="838.1" y2="555.1" stroke="#fff" stroke-width="0.8" shape-rendering="auto"/>
<line x1="832" y1="550" x2="835.4" y2="557.3" stroke="#fff" stroke-width="0.8" shape-rendering="auto"/>
<line x1="832" y1="550" x2="832.0" y2="558.0" stroke="#fff" stroke-width="0.8" shape-rendering="auto"/>
<line x1="832" y1="550" x2="828.6" y2="557.3" stroke="#fff" stroke-width="0.8" shape-rendering="auto"/>
<line x1="832" y1="550" x2="825.9" y2="555.1" stroke="#fff" stroke-width="0.8" shape-rendering="auto"/>
<line x1="832" y1="550" x2="824.3" y2="552.1" stroke="#fff" stroke-width="0.8" shape-rendering="auto"/>
<line x1="832" y1="550" x2="824.1" y2="548.6" stroke="#fff" stroke-width="0.8" shape-rendering="auto"/>
<line x1="832" y1="550" x2="825.4" y2="545.4" stroke="#fff" stroke-width="0.8" shape-rendering="auto"/>
<rect x="829" y="547" width="7" height="7" fill="#ffffff" />
<rect x="832" y="532" width="1" height="38" fill="#ffffff"/>
<rect x="808" y="550" width="44" height="1" fill="#ffffff"/>
<rect x="809" y="548" width="3" height="4" fill="#ffffff" />
<rect x="807" y="689" width="57" height="1" fill="#00ffff"/>
<rect x="807" y="689" width="1" height="13" fill="#00ffff"/>
<rect x="835" y="689" width="1" height="13" fill="#ffffff"/>
<rect x="855" y="689" width="1" height="5" fill="#ffffff"/>
<rect x="807" y="693" width="57" height="1" fill="#ffffff"/>
<rect x="808" y="695" width="27" height="1" fill="#ffffff"/>
<rect x="808" y="697" width="27" height="1" fill="#ffffff"/>
<rect x="808" y="699" width="27" height="1" fill="#ffffff"/>
<rect x="819" y="693" width="1" height="9" fill="#ffffff"/>
<rect x="829" y="693" width="1" height="9" fill="#ffffff"/>
<rect x="809" y="694" width="1" height="7" fill="#ff0000" />
<rect x="812" y="694" width="1" height="7" fill="#ff0000" />
<rect x="807" y="701" width="57" height="1" fill="#ffffff"/>
<rect x="836" y="699" width="27" height="1" fill="#ffffff"/>
<rect x="843" y="695" width="12" height="2" fill="#ffffff" />
<rect x="852" y="691" width="3" height="2" fill="#ff0000" />
<rect x="858" y="691" width="2" height="1" fill="#ff0000" />
<rect x="860" y="690" width="2" height="3" fill="#ff0000" />
<rect x="838" y="701" width="1" height="-1" fill="#ffffff" />
<rect x="843" y="701" width="1" height="-1" fill="#ffffff" />
<rect x="848" y="701" width="1" height="-1" fill="#ffffff" />
<rect x="853" y="701" width="1" height="-1" fill="#ffffff" />
<rect x="858" y="701" width="1" height="-1" fill="#ffffff" />
<rect x="895" y="524" width="312" height="1" fill="#ff0000"/>
<rect x="895" y="707" width="312" height="1" fill="#ff0000"/>
<rect x="895" y="524" width="1" height="184" fill="#ff0000"/>
<rect x="1206" y="524" width="1" height="184" fill="#ff0000"/>
<rect x="903" y="526" width="301" height="1" fill="#00ffff"/>
<rect x="903" y="704" width="301" height="1" fill="#00ffff"/>
<rect x="903" y="526" width="1" height="179" fill="#00ffff"/>
<rect x="1203" y="526" width="1" height="179" fill="#00ffff"/>
<rect x="895" y="526" width="9" height="39" fill="#ffffff" />
<rect x="898" y="527" width="1" height="4" fill="#212830"/>
<rect x="898" y="532" width="1" height="3" fill="#212830"/>
<rect x="898" y="536" width="1" height="4" fill="#212830"/>
<rect x="898" y="541" width="1" height="15" fill="#212830"/>
<rect x="898" y="557" width="1" height="2" fill="#212830"/>
<rect x="898" y="561" width="1" height="2" fill="#212830"/>
<rect x="900" y="527" width="1" height="4" fill="#212830"/>
<rect x="900" y="532" width="1" height="3" fill="#212830"/>
<rect x="900" y="536" width="1" height="4" fill="#212830"/>
<rect x="900" y="541" width="1" height="15" fill="#212830"/>
<rect x="900" y="557" width="1" height="2" fill="#212830"/>
<rect x="900" y="561" width="1" height="2" fill="#212830"/>
<rect x="902" y="527" width="1" height="4" fill="#212830"/>
<rect x="902" y="532" width="1" height="3" fill="#212830"/>
<rect x="902" y="536" width="1" height="4" fill="#212830"/>
<rect x="902" y="541" width="1" height="15" fill="#212830"/>
<rect x="902" y="557" width="1" height="2" fill="#212830"/>
<rect x="902" y="561" width="1" height="2" fill="#212830"/>
<rect x="896" y="529" width="1" height="1" fill="#212830"/>
<rect x="896" y="533" width="1" height="1" fill="#212830"/>
<rect x="896" y="538" width="1" height="1" fill="#212830"/>
<rect x="896" y="542" width="1" height="1" fill="#212830"/>
<rect x="896" y="543" width="1" height="1" fill="#212830"/>
<rect x="896" y="545" width="1" height="1" fill="#212830"/>
<rect x="896" y="548" width="1" height="1" fill="#212830"/>
<rect x="896" y="551" width="1" height="1" fill="#212830"/>
<rect x="896" y="555" width="1" height="1" fill="#212830"/>
<rect x="896" y="559" width="1" height="1" fill="#212830"/>
<rect x="895" y="687" width="9" height="18" fill="#ffffff" />
<rect x="898" y="688" width="1" height="3" fill="#212830"/>
<rect x="898" y="693" width="1" height="5" fill="#212830"/>
<rect x="898" y="699" width="1" height="4" fill="#212830"/>
<rect x="900" y="688" width="1" height="3" fill="#212830"/>
<rect x="900" y="693" width="1" height="5" fill="#212830"/>
<rect x="900" y="699" width="1" height="4" fill="#212830"/>
<rect x="902" y="688" width="1" height="3" fill="#212830"/>
<rect x="902" y="693" width="1" height="5" fill="#212830"/>
<rect x="902" y="699" width="1" height="4" fill="#212830"/>
<rect x="896" y="689" width="1" height="1" fill="#212830"/>
<rect x="896" y="694" width="1" height="1" fill="#212830"/>
<rect x="896" y="697" width="1" height="1" fill="#212830"/>
<rect x="896" y="702" width="1" height="1" fill="#212830"/>
<path d="M0,24 L7,0 L14,24 M2.3,16 L11.7,16" transform="translate(897.10,499.00) scale(0.9875)" fill="none" stroke="#fff" stroke-width="1.165" stroke-linejoin="round"/>
<path d="M0,5 C1.6,4 3.2,2.6 4.3,0 L4.3,24" transform="translate(916.85,499.00) scale(0.9875)" fill="none" stroke="#fff" stroke-width="1.165" stroke-linejoin="round"/>
<path d="M932.0,531.5 L1183.0,605.5" fill="none" stroke="#ffffff" stroke-width="1.4" shape-rendering="auto" />
<path d="M932.0,531.5 L932.0,670.5" fill="none" stroke="#00ffff" stroke-width="1.2" shape-rendering="auto" />
<path d="M1183.0,605.5 L1183.0,672.5 L1201.0,672.5" fill="none" stroke="#00ffff" stroke-width="1.2" shape-rendering="auto" />
<path d="M930.0,668.5 L1201.0,668.5" fill="none" stroke="#ffffff" stroke-width="1.2" shape-rendering="auto" />
<path d="M933.0,537.5 L1195.0,616.5" fill="none" stroke="#ffff00" stroke-width="1" shape-rendering="auto" />
<path d="M933.0,539.5 L1195.0,618.5" fill="none" stroke="#ffff00" stroke-width="1" shape-rendering="auto" />
<path d="M937.0,542.5 L1195.0,621.5" fill="none" stroke="#00ffff" stroke-width="1.2" shape-rendering="auto" />
<path d="M937.0,544.5 L1195.0,624.5" fill="none" stroke="#00ff00" stroke-width="1" shape-rendering="auto" />
<path d="M913.0,574.5 L1195.0,611.5" fill="none" stroke="#00ff00" stroke-width="1" shape-rendering="auto" />
<path d="M913.0,576.5 L1195.0,615.5" fill="none" stroke="#00ff00" stroke-width="1" shape-rendering="auto" />
<path d="M913.0,579.5 L1134.0,613.5" fill="none" stroke="#00ff00" stroke-width="1" shape-rendering="auto" />
<path d="M913.0,572.5 L944.0,575.5" fill="none" stroke="#00ff00" stroke-width="1" shape-rendering="auto" />
<path d="M913.0,582.5 L984.0,585.5" fill="none" stroke="#00ff00" stroke-width="1" shape-rendering="auto" />
<path d="M941.0,545.5 L972.0,554.6" fill="none" stroke="#00ff00" stroke-width="1" shape-rendering="auto" />
<path d="M941.0,549.5 L972.0,558.6" fill="none" stroke="#00ff00" stroke-width="1" shape-rendering="auto" />
<path d="M941.0,545.5 L941.0,549.5" fill="none" stroke="#00ff00" stroke-width="1" shape-rendering="auto" />
<path d="M945.0,546.7 L945.0,550.7" fill="none" stroke="#00ff00" stroke-width="1" shape-rendering="auto" />
<path d="M949.0,547.9 L949.0,551.9" fill="none" stroke="#00ff00" stroke-width="1" shape-rendering="auto" />
<path d="M953.0,549.0 L953.0,553.0" fill="none" stroke="#00ff00" stroke-width="1" shape-rendering="auto" />
<path d="M957.0,550.2 L957.0,554.2" fill="none" stroke="#00ff00" stroke-width="1" shape-rendering="auto" />
<path d="M961.0,551.4 L961.0,555.4" fill="none" stroke="#00ff00" stroke-width="1" shape-rendering="auto" />
<path d="M965.0,552.6 L965.0,556.6" fill="none" stroke="#00ff00" stroke-width="1" shape-rendering="auto" />
<path d="M969.0,553.8 L969.0,557.8" fill="none" stroke="#00ff00" stroke-width="1" shape-rendering="auto" />
<path d="M941.0,551.5 L972.0,560.6" fill="none" stroke="#00ff00" stroke-width="1" shape-rendering="auto" />
<path d="M941.0,555.5 L972.0,564.6" fill="none" stroke="#00ff00" stroke-width="1" shape-rendering="auto" />
<path d="M941.0,551.5 L941.0,555.5" fill="none" stroke="#00ff00" stroke-width="1" shape-rendering="auto" />
<path d="M945.0,552.7 L945.0,556.7" fill="none" stroke="#00ff00" stroke-width="1" shape-rendering="auto" />
<path d="M949.0,553.9 L949.0,557.9" fill="none" stroke="#00ff00" stroke-width="1" shape-rendering="auto" />
<path d="M953.0,555.0 L953.0,559.0" fill="none" stroke="#00ff00" stroke-width="1" shape-rendering="auto" />
<path d="M957.0,556.2 L957.0,560.2" fill="none" stroke="#00ff00" stroke-width="1" shape-rendering="auto" />
<path d="M961.0,557.4 L961.0,561.4" fill="none" stroke="#00ff00" stroke-width="1" shape-rendering="auto" />
<path d="M965.0,558.6 L965.0,562.6" fill="none" stroke="#00ff00" stroke-width="1" shape-rendering="auto" />
<path d="M969.0,559.8 L969.0,563.8" fill="none" stroke="#00ff00" stroke-width="1" shape-rendering="auto" />
<rect x="951.5" y="553" width="9.0" height="2" fill="#ff0000" />
<path d="M972.5,553.4 L988.5,558.2 L986.5,572.2 L970.5,567.4 Z" fill="#ff00ff" shape-rendering="auto"/>
<path d="M989.5,561.5 L1009.5,567.4 L1008.5,574.4 L988.5,568.5 Z" fill="none" stroke="#00ffff" stroke-width="1.3" shape-rendering="auto" />
<ellipse cx="1010.5" cy="571.355" rx="2" ry="4" fill="none" stroke="#fff" stroke-width="1" shape-rendering="auto"/>
<path d="M1020.0,577.5 L1050.0,586.4" fill="none" stroke="#00ff00" stroke-width="1" shape-rendering="auto" />
<path d="M1020.0,581.5 L1050.0,590.4" fill="none" stroke="#00ff00" stroke-width="1" shape-rendering="auto" />
<path d="M1020.0,577.5 L1020.0,581.5" fill="none" stroke="#00ff00" stroke-width="1" shape-rendering="auto" />
<path d="M1024.0,578.7 L1024.0,582.7" fill="none" stroke="#00ff00" stroke-width="1" shape-rendering="auto" />
<path d="M1028.0,579.9 L1028.0,583.9" fill="none" stroke="#00ff00" stroke-width="1" shape-rendering="auto" />
<path d="M1032.0,581.0 L1032.0,585.0" fill="none" stroke="#00ff00" stroke-width="1" shape-rendering="auto" />
<path d="M1036.0,582.2 L1036.0,586.2" fill="none" stroke="#00ff00" stroke-width="1" shape-rendering="auto" />
<path d="M1040.0,583.4 L1040.0,587.4" fill="none" stroke="#00ff00" stroke-width="1" shape-rendering="auto" />
<path d="M1044.0,584.6 L1044.0,588.6" fill="none" stroke="#00ff00" stroke-width="1" shape-rendering="auto" />
<path d="M1048.0,585.8 L1048.0,589.8" fill="none" stroke="#00ff00" stroke-width="1" shape-rendering="auto" />
<path d="M1020.0,583.5 L1050.0,592.4" fill="none" stroke="#00ff00" stroke-width="1" shape-rendering="auto" />
<path d="M1020.0,587.5 L1050.0,596.4" fill="none" stroke="#00ff00" stroke-width="1" shape-rendering="auto" />
<path d="M1020.0,583.5 L1020.0,587.5" fill="none" stroke="#00ff00" stroke-width="1" shape-rendering="auto" />
<path d="M1024.0,584.7 L1024.0,588.7" fill="none" stroke="#00ff00" stroke-width="1" shape-rendering="auto" />
<path d="M1028.0,585.9 L1028.0,589.9" fill="none" stroke="#00ff00" stroke-width="1" shape-rendering="auto" />
<path d="M1032.0,587.0 L1032.0,591.0" fill="none" stroke="#00ff00" stroke-width="1" shape-rendering="auto" />
<path d="M1036.0,588.2 L1036.0,592.2" fill="none" stroke="#00ff00" stroke-width="1" shape-rendering="auto" />
<path d="M1040.0,589.4 L1040.0,593.4" fill="none" stroke="#00ff00" stroke-width="1" shape-rendering="auto" />
<path d="M1044.0,590.6 L1044.0,594.6" fill="none" stroke="#00ff00" stroke-width="1" shape-rendering="auto" />
<path d="M1048.0,591.8 L1048.0,595.8" fill="none" stroke="#00ff00" stroke-width="1" shape-rendering="auto" />
<rect x="1030.5" y="585" width="9.0" height="2" fill="#ff0000" />
<path d="M1049.5,584.9 L1065.5,589.6 L1063.5,603.6 L1047.5,598.9 Z" fill="#ff00ff" shape-rendering="auto"/>
<path d="M1067.5,585.0 L1083.5,590.0 L1081.5,597.0 L1065.5,592.0 Z" fill="none" stroke="#00ffff" stroke-width="1.2" shape-rendering="auto" />
<path d="M1097.5,596.0 L1108.5,599.0 L1105.5,608.0 L1094.5,605.0 Z" fill="none" stroke="#ffff00" stroke-width="1.2" shape-rendering="auto" />
<path d="M1119.5,603.0 L1130.5,606.0 L1127.5,614.0 L1116.5,611.0 Z" fill="none" stroke="#ffff00" stroke-width="1.2" shape-rendering="auto" />
<rect x="1064.5" y="569" width="5.0" height="2" fill="#ff0000" />
<rect x="1081.5" y="571" width="5.0" height="2" fill="#ff0000" />
<rect x="938.5" y="619" width="34.0" height="1" fill="#00ff00" />
<rect x="938.5" y="623" width="34.0" height="1" fill="#00ff00" />
<rect x="938.5" y="619" width="1.0" height="5" fill="#00ff00" />
<rect x="942.5" y="619" width="1.0" height="5" fill="#00ff00" />
<rect x="946.5" y="619" width="1.0" height="5" fill="#00ff00" />
<rect x="950.5" y="619" width="1.0" height="5" fill="#00ff00" />
<rect x="954.5" y="619" width="1.0" height="5" fill="#00ff00" />
<rect x="958.5" y="619" width="1.0" height="5" fill="#00ff00" />
<rect x="962.5" y="619" width="1.0" height="5" fill="#00ff00" />
<rect x="966.5" y="619" width="1.0" height="5" fill="#00ff00" />
<rect x="970.5" y="619" width="1.0" height="5" fill="#00ff00" />
<rect x="938.5" y="626" width="34.0" height="1" fill="#00ff00" />
<rect x="938.5" y="630" width="34.0" height="1" fill="#00ff00" />
<rect x="938.5" y="626" width="1.0" height="5" fill="#00ff00" />
<rect x="942.5" y="626" width="1.0" height="5" fill="#00ff00" />
<rect x="946.5" y="626" width="1.0" height="5" fill="#00ff00" />
<rect x="950.5" y="626" width="1.0" height="5" fill="#00ff00" />
<rect x="954.5" y="626" width="1.0" height="5" fill="#00ff00" />
<rect x="958.5" y="626" width="1.0" height="5" fill="#00ff00" />
<rect x="962.5" y="626" width="1.0" height="5" fill="#00ff00" />
<rect x="966.5" y="626" width="1.0" height="5" fill="#00ff00" />
<rect x="970.5" y="626" width="1.0" height="5" fill="#00ff00" />
<rect x="952.5" y="624" width="10.0" height="2" fill="#ff0000" />
<rect x="1026.5" y="619" width="36.0" height="1" fill="#00ff00" />
<rect x="1026.5" y="623" width="36.0" height="1" fill="#00ff00" />
<rect x="1026.5" y="619" width="1.0" height="5" fill="#00ff00" />
<rect x="1030.5" y="619" width="1.0" height="5" fill="#00ff00" />
<rect x="1034.5" y="619" width="1.0" height="5" fill="#00ff00" />
<rect x="1038.5" y="619" width="1.0" height="5" fill="#00ff00" />
<rect x="1042.5" y="619" width="1.0" height="5" fill="#00ff00" />
<rect x="1046.5" y="619" width="1.0" height="5" fill="#00ff00" />
<rect x="1050.5" y="619" width="1.0" height="5" fill="#00ff00" />
<rect x="1054.5" y="619" width="1.0" height="5" fill="#00ff00" />
<rect x="1058.5" y="619" width="1.0" height="5" fill="#00ff00" />
<rect x="1026.5" y="626" width="36.0" height="1" fill="#00ff00" />
<rect x="1026.5" y="630" width="36.0" height="1" fill="#00ff00" />
<rect x="1026.5" y="626" width="1.0" height="5" fill="#00ff00" />
<rect x="1030.5" y="626" width="1.0" height="5" fill="#00ff00" />
<rect x="1034.5" y="626" width="1.0" height="5" fill="#00ff00" />
<rect x="1038.5" y="626" width="1.0" height="5" fill="#00ff00" />
<rect x="1042.5" y="626" width="1.0" height="5" fill="#00ff00" />
<rect x="1046.5" y="626" width="1.0" height="5" fill="#00ff00" />
<rect x="1050.5" y="626" width="1.0" height="5" fill="#00ff00" />
<rect x="1054.5" y="626" width="1.0" height="5" fill="#00ff00" />
<rect x="1058.5" y="626" width="1.0" height="5" fill="#00ff00" />
<rect x="1040.5" y="624" width="10.0" height="2" fill="#ff0000" />
<rect x="938.5" y="643" width="34.0" height="1" fill="#00ff00" />
<rect x="938.5" y="647" width="34.0" height="1" fill="#00ff00" />
<rect x="938.5" y="643" width="1.0" height="5" fill="#00ff00" />
<rect x="942.5" y="643" width="1.0" height="5" fill="#00ff00" />
<rect x="946.5" y="643" width="1.0" height="5" fill="#00ff00" />
<rect x="950.5" y="643" width="1.0" height="5" fill="#00ff00" />
<rect x="954.5" y="643" width="1.0" height="5" fill="#00ff00" />
<rect x="958.5" y="643" width="1.0" height="5" fill="#00ff00" />
<rect x="962.5" y="643" width="1.0" height="5" fill="#00ff00" />
<rect x="966.5" y="643" width="1.0" height="5" fill="#00ff00" />
<rect x="970.5" y="643" width="1.0" height="5" fill="#00ff00" />
<rect x="938.5" y="650" width="34.0" height="1" fill="#00ff00" />
<rect x="938.5" y="654" width="34.0" height="1" fill="#00ff00" />
<rect x="938.5" y="650" width="1.0" height="5" fill="#00ff00" />
<rect x="942.5" y="650" width="1.0" height="5" fill="#00ff00" />
<rect x="946.5" y="650" width="1.0" height="5" fill="#00ff00" />
<rect x="950.5" y="650" width="1.0" height="5" fill="#00ff00" />
<rect x="954.5" y="650" width="1.0" height="5" fill="#00ff00" />
<rect x="958.5" y="650" width="1.0" height="5" fill="#00ff00" />
<rect x="962.5" y="650" width="1.0" height="5" fill="#00ff00" />
<rect x="966.5" y="650" width="1.0" height="5" fill="#00ff00" />
<rect x="970.5" y="650" width="1.0" height="5" fill="#00ff00" />
<rect x="952.5" y="648" width="10.0" height="2" fill="#ff0000" />
<rect x="1026.5" y="643" width="36.0" height="1" fill="#00ff00" />
<rect x="1026.5" y="647" width="36.0" height="1" fill="#00ff00" />
<rect x="1026.5" y="643" width="1.0" height="5" fill="#00ff00" />
<rect x="1030.5" y="643" width="1.0" height="5" fill="#00ff00" />
<rect x="1034.5" y="643" width="1.0" height="5" fill="#00ff00" />
<rect x="1038.5" y="643" width="1.0" height="5" fill="#00ff00" />
<rect x="1042.5" y="643" width="1.0" height="5" fill="#00ff00" />
<rect x="1046.5" y="643" width="1.0" height="5" fill="#00ff00" />
<rect x="1050.5" y="643" width="1.0" height="5" fill="#00ff00" />
<rect x="1054.5" y="643" width="1.0" height="5" fill="#00ff00" />
<rect x="1058.5" y="643" width="1.0" height="5" fill="#00ff00" />
<rect x="1026.5" y="650" width="36.0" height="1" fill="#00ff00" />
<rect x="1026.5" y="654" width="36.0" height="1" fill="#00ff00" />
<rect x="1026.5" y="650" width="1.0" height="5" fill="#00ff00" />
<rect x="1030.5" y="650" width="1.0" height="5" fill="#00ff00" />
<rect x="1034.5" y="650" width="1.0" height="5" fill="#00ff00" />
<rect x="1038.5" y="650" width="1.0" height="5" fill="#00ff00" />
<rect x="1042.5" y="650" width="1.0" height="5" fill="#00ff00" />
<rect x="1046.5" y="650" width="1.0" height="5" fill="#00ff00" />
<rect x="1050.5" y="650" width="1.0" height="5" fill="#00ff00" />
<rect x="1054.5" y="650" width="1.0" height="5" fill="#00ff00" />
<rect x="1058.5" y="650" width="1.0" height="5" fill="#00ff00" />
<rect x="1040.5" y="648" width="10.0" height="2" fill="#ff0000" />
<rect x="939.5" y="624" width="3.0" height="3" fill="#ffffff" />
<rect x="939.5" y="648" width="3.0" height="3" fill="#ffffff" />
<rect x="972.5" y="614" width="11.0" height="18" fill="#ff00ff" />
<rect x="972.5" y="644" width="11.0" height="12" fill="#ff00ff" />
<rect x="983.5" y="614" width="42.0" height="6" fill="#ff00ff" />
<rect x="983.5" y="645" width="42.0" height="6" fill="#ff00ff" />
<rect x="1019.5" y="614" width="7.0" height="42" fill="#ff00ff" />
<rect x="1026.5" y="636" width="49.0" height="5" fill="#ff00ff" />
<rect x="988.0" y="599.5" width="9" height="21" fill="#212830" stroke="#00ffff" stroke-width="1.4"/>
<rect x="990.5" y="604" width="4.0" height="12" fill="#00ffff" />
<rect x="988.5" y="600" width="8.0" height="2" fill="#ffffff" />
<rect x="988.5" y="618" width="8.0" height="2" fill="#ffffff" />
<rect x="988.0" y="632.5" width="9" height="21" fill="#212830" stroke="#00ffff" stroke-width="1.4"/>
<rect x="990.5" y="637" width="4.0" height="12" fill="#00ffff" />
<rect x="988.5" y="633" width="8.0" height="2" fill="#ffffff" />
<rect x="988.5" y="651" width="8.0" height="2" fill="#ffffff" />
<rect x="1006.0" y="599.5" width="9" height="21" fill="#212830" stroke="#00ffff" stroke-width="1.4"/>
<rect x="1008.5" y="604" width="4.0" height="12" fill="#00ffff" />
<rect x="1006.5" y="600" width="8.0" height="2" fill="#ffffff" />
<rect x="1006.5" y="618" width="8.0" height="2" fill="#ffffff" />
<rect x="1006.0" y="632.5" width="9" height="21" fill="#212830" stroke="#00ffff" stroke-width="1.4"/>
<rect x="1008.5" y="637" width="4.0" height="12" fill="#00ffff" />
<rect x="1006.5" y="633" width="8.0" height="2" fill="#ffffff" />
<rect x="1006.5" y="651" width="8.0" height="2" fill="#ffffff" />
<rect x="1026.5" y="618" width="3.0" height="3" fill="#ffff00" />
<rect x="1026.5" y="625" width="3.0" height="3" fill="#ffff00" />
<rect x="1026.5" y="642" width="3.0" height="3" fill="#ffff00" />
<rect x="1026.5" y="649" width="3.0" height="3" fill="#ffff00" />
<path d="M1002.0,573.5 L1002.0,614.5" fill="none" stroke="#00ffff" stroke-width="1" shape-rendering="auto" />
<rect x="1076.0" y="633.5" width="64" height="22" fill="none" stroke="#00ff00" stroke-width="1"/>
<rect x="1101.5" y="643" width="13.0" height="2" fill="#ff0000" />
<rect x="1145.0" y="629.5" width="37" height="38" fill="none" stroke="#ffff00" stroke-width="1.2"/>
<rect x="1144.5" y="638" width="50.0" height="5" fill="#ff00ff" />
<rect x="1190.5" y="638" width="4.0" height="34" fill="#ff00ff" />
<rect x="1156.5" y="662" width="12.0" height="4" fill="#ff0000" />
<path d="M1174.5,666 L1177.5,661 L1180.5,666 Z" fill="#ff0000"/>
<path d="M1077.0,602.5 L1077.0,633.5" fill="none" stroke="#00ffff" stroke-width="1.2" shape-rendering="auto" />
<path d="M1129.0,613.5 L1129.0,633.5" fill="none" stroke="#ffffff" stroke-width="1" shape-rendering="auto" />
<rect x="1136.5" y="661" width="3.0" height="4" fill="#ffffff" />
<rect x="1140.5" y="661" width="3.0" height="5" fill="#ff0000" />
<rect x="944.5" y="567" width="10.0" height="3" fill="#ff0000" />
<path d="M945.0,570.5 L957.0,570.5 L961.0,576.5" fill="none" stroke="#ffffff" stroke-width="1" shape-rendering="auto" />
<rect x="960.5" y="609" width="12.0" height="3" fill="#ff0000" />
<path d="M961.0,612.5 L974.0,612.5 L978.0,619.5" fill="none" stroke="#ffffff" stroke-width="1" shape-rendering="auto" />
<rect x="1008.5" y="592" width="8.0" height="3" fill="#ff0000" />
<path d="M1009.0,595.5 L1018.0,595.5" fill="none" stroke="#ffffff" stroke-width="1" shape-rendering="auto" />
<rect x="1083.5" y="618" width="8.0" height="2" fill="#ff0000" />
<rect x="1019.5" y="671" width="10.0" height="2" fill="#ff0000" />
<path d="M1030.0,672.5 L1034.0,667.5" fill="none" stroke="#ffffff" stroke-width="1" shape-rendering="auto" />
<path d="M1017.0,595.5 L1012.0,611.5" fill="none" stroke="#ffffff" stroke-width="1" shape-rendering="auto" />
<path d="M1091.0,620.5 L1084.0,639.5" fill="none" stroke="#ffffff" stroke-width="1" shape-rendering="auto" />
<rect x="940.5" y="668" width="1.0" height="2" fill="#ffffff" />
<rect x="952.5" y="668" width="1.0" height="2" fill="#ffffff" />
<rect x="964.5" y="668" width="1.0" height="2" fill="#ffffff" />
<rect x="976.5" y="668" width="1.0" height="2" fill="#ffffff" />
<rect x="988.5" y="668" width="1.0" height="2" fill="#ffffff" />
<rect x="1000.5" y="668" width="1.0" height="2" fill="#ffffff" />
<rect x="1012.5" y="668" width="1.0" height="2" fill="#ffffff" />
<rect x="1024.5" y="668" width="1.0" height="2" fill="#ffffff" />
<rect x="1036.5" y="668" width="1.0" height="2" fill="#ffffff" />
<rect x="1048.5" y="668" width="1.0" height="2" fill="#ffffff" />
<rect x="1060.5" y="668" width="1.0" height="2" fill="#ffffff" />
<rect x="1072.5" y="668" width="1.0" height="2" fill="#ffffff" />
<rect x="1084.5" y="668" width="1.0" height="2" fill="#ffffff" />
<rect x="1096.5" y="668" width="1.0" height="2" fill="#ffffff" />
<rect x="1108.5" y="668" width="1.0" height="2" fill="#ffffff" />
<rect x="1120.5" y="668" width="1.0" height="2" fill="#ffffff" />
<rect x="1132.5" y="668" width="1.0" height="2" fill="#ffffff" />
<rect x="1144.5" y="668" width="1.0" height="2" fill="#ffffff" />
<rect x="1156.5" y="668" width="1.0" height="2" fill="#ffffff" />
<rect x="1168.5" y="668" width="1.0" height="2" fill="#ffffff" />
<rect x="1180.5" y="668" width="1.0" height="2" fill="#ffffff" />
<rect x="1192.5" y="668" width="1.0" height="2" fill="#ffffff" />
<rect x="930.5" y="555" width="3.0" height="1" fill="#ffffff" />
<rect x="930.5" y="567" width="3.0" height="1" fill="#ffffff" />
<rect x="930.5" y="579" width="3.0" height="1" fill="#ffffff" />
<rect x="930.5" y="591" width="3.0" height="1" fill="#ffffff" />
<rect x="930.5" y="603" width="3.0" height="1" fill="#ffffff" />
<rect x="930.5" y="615" width="3.0" height="1" fill="#ffffff" />
<rect x="930.5" y="627" width="3.0" height="1" fill="#ffffff" />
<rect x="930.5" y="639" width="3.0" height="1" fill="#ffffff" />
<rect x="930.5" y="651" width="3.0" height="1" fill="#ffffff" />
<rect x="930.5" y="663" width="3.0" height="1" fill="#ffffff" />
<rect x="914.5" y="577" width="10.0" height="7" fill="#ffffff" />
<rect x="917.5" y="579" width="2.0" height="3" fill="#212830" />
<rect x="929.5" y="567" width="5.0" height="6" fill="#00ffff" />
<rect x="929.5" y="585" width="5.0" height="6" fill="#00ffff" />
<path d="M925.5,550 L928.5,545 L931.5,550 Z" fill="none" stroke="#ff0000" stroke-width="1"/>
<path d="M1181,538 m-8,0 a8,8 0 1,0 16,0 a8,8 0 1,0 -16,0" fill="none" stroke="#fff" stroke-width="1" shape-rendering="auto"/>
<line x1="1181" y1="538" x2="1185.0" y2="531.1" stroke="#fff" stroke-width="0.8" shape-rendering="auto"/>
<line x1="1181" y1="538" x2="1187.6" y2="533.4" stroke="#fff" stroke-width="0.8" shape-rendering="auto"/>
<line x1="1181" y1="538" x2="1188.9" y2="536.6" stroke="#fff" stroke-width="0.8" shape-rendering="auto"/>
<line x1="1181" y1="538" x2="1188.7" y2="540.1" stroke="#fff" stroke-width="0.8" shape-rendering="auto"/>
<line x1="1181" y1="538" x2="1187.1" y2="543.1" stroke="#fff" stroke-width="0.8" shape-rendering="auto"/>
<line x1="1181" y1="538" x2="1184.4" y2="545.3" stroke="#fff" stroke-width="0.8" shape-rendering="auto"/>
<line x1="1181" y1="538" x2="1181.0" y2="546.0" stroke="#fff" stroke-width="0.8" shape-rendering="auto"/>
<line x1="1181" y1="538" x2="1177.6" y2="545.3" stroke="#fff" stroke-width="0.8" shape-rendering="auto"/>
<line x1="1181" y1="538" x2="1174.9" y2="543.1" stroke="#fff" stroke-width="0.8" shape-rendering="auto"/>
<line x1="1181" y1="538" x2="1173.3" y2="540.1" stroke="#fff" stroke-width="0.8" shape-rendering="auto"/>
<line x1="1181" y1="538" x2="1173.1" y2="536.6" stroke="#fff" stroke-width="0.8" shape-rendering="auto"/>
<line x1="1181" y1="538" x2="1174.4" y2="533.4" stroke="#fff" stroke-width="0.8" shape-rendering="auto"/>
<rect x="1178" y="535" width="7" height="7" fill="#ffffff" />
<rect x="1181" y="520" width="1" height="38" fill="#ffffff"/>
<rect x="1157" y="538" width="44" height="1" fill="#ffffff"/>
<rect x="1158" y="536" width="3" height="4" fill="#ffffff" />
<path d="M937.5,542 L937.5,665.5 L1140,665.5" fill="none" stroke="#ff00ff" stroke-width="2" stroke-dasharray="7,2,2,2"/>
<rect x="936" y="560" width="3" height="3" fill="#ffffff" />
<rect x="936" y="590" width="3" height="3" fill="#ffffff" />
<rect x="936" y="620" width="3" height="3" fill="#ffffff" />
<rect x="936" y="650" width="3" height="3" fill="#ffffff" />
<rect x="960" y="664" width="3" height="3" fill="#ffffff" />
<rect x="1000" y="664" width="3" height="3" fill="#ffffff" />
<rect x="1040" y="664" width="3" height="3" fill="#ffffff" />
<rect x="1080" y="664" width="3" height="3" fill="#ffffff" />
<rect x="1120" y="664" width="3" height="3" fill="#ffffff" />
<rect x="1034" y="683" width="78" height="16" fill="#ffffff" />
<rect x="1035" y="685" width="76" height="1" fill="#212830" />
<rect x="1035" y="687" width="2" height="10" fill="#ffffff" />
<rect x="1037" y="688" width="1" height="1" fill="#212830" />
<rect x="1045" y="688" width="9" height="1" fill="#212830" />
<rect x="1058" y="688" width="18" height="1" fill="#212830" />
<rect x="1082" y="688" width="4" height="1" fill="#212830" />
<rect x="1089" y="688" width="4" height="1" fill="#212830" />
<rect x="1037" y="691" width="1" height="1" fill="#212830" />
<rect x="1045" y="691" width="9" height="1" fill="#212830" />
<rect x="1058" y="691" width="18" height="1" fill="#212830" />
<rect x="1082" y="691" width="4" height="1" fill="#212830" />
<rect x="1089" y="691" width="4" height="1" fill="#212830" />
<rect x="1037" y="694" width="1" height="1" fill="#212830" />
<rect x="1045" y="694" width="9" height="1" fill="#212830" />
<rect x="1058" y="694" width="18" height="1" fill="#212830" />
<rect x="1082" y="694" width="4" height="1" fill="#212830" />
<rect x="1089" y="694" width="4" height="1" fill="#212830" />
<rect x="1037" y="697" width="1" height="1" fill="#212830" />
<rect x="1045" y="697" width="9" height="1" fill="#212830" />
<rect x="1058" y="697" width="18" height="1" fill="#212830" />
<rect x="1082" y="697" width="4" height="1" fill="#212830" />
<rect x="1089" y="697" width="4" height="1" fill="#212830" />
<rect x="1096" y="697" width="14" height="1" fill="#212830" />
<rect x="1053" y="684" width="1" height="15" fill="#212830"/>
<rect x="1077" y="684" width="1" height="15" fill="#212830"/>
<rect x="1087" y="684" width="1" height="15" fill="#212830"/>
<rect x="1094" y="684" width="1" height="15" fill="#212830"/>
<rect x="1052" y="684" width="3" height="2" fill="#212830" />
<rect x="1073" y="684" width="3" height="2" fill="#212830" />
<rect x="1094" y="684" width="16" height="2" fill="#212830" />
<rect x="1063" y="679" width="10" height="2" fill="#ffffff" />
<rect x="1147" y="692" width="57" height="1" fill="#00ffff"/>
<rect x="1147" y="692" width="1" height="13" fill="#00ffff"/>
<rect x="1175" y="692" width="1" height="13" fill="#ffffff"/>
<rect x="1195" y="692" width="1" height="5" fill="#ffffff"/>
<rect x="1147" y="696" width="57" height="1" fill="#ffffff"/>
<rect x="1148" y="698" width="27" height="1" fill="#ffffff"/>
<rect x="1148" y="700" width="27" height="1" fill="#ffffff"/>
<rect x="1148" y="702" width="27" height="1" fill="#ffffff"/>
<rect x="1159" y="696" width="1" height="9" fill="#ffffff"/>
<rect x="1169" y="696" width="1" height="9" fill="#ffffff"/>
<rect x="1149" y="697" width="1" height="7" fill="#ff0000" />
<rect x="1152" y="697" width="1" height="7" fill="#ff0000" />
<rect x="1147" y="704" width="57" height="1" fill="#ffffff"/>
<rect x="1176" y="702" width="27" height="1" fill="#ffffff"/>
<rect x="1183" y="698" width="12" height="2" fill="#ffffff" />
<rect x="1192" y="694" width="3" height="2" fill="#ff0000" />
<rect x="1198" y="694" width="2" height="1" fill="#ff0000" />
<rect x="1200" y="693" width="2" height="3" fill="#ff0000" />
<rect x="1178" y="704" width="1" height="-1" fill="#ffffff" />
<rect x="1183" y="704" width="1" height="-1" fill="#ffffff" />
<rect x="1188" y="704" width="1" height="-1" fill="#ffffff" />
<rect x="1193" y="704" width="1" height="-1" fill="#ffffff" />
<rect x="1198" y="704" width="1" height="-1" fill="#ffffff" />
<rect x="1253" y="387" width="444" height="1" fill="#ff0000"/>
<rect x="1253" y="700" width="444" height="1" fill="#ff0000"/>
<rect x="1253" y="387" width="1" height="314" fill="#ff0000"/>
<rect x="1696" y="387" width="1" height="314" fill="#ff0000"/>
<rect x="1266" y="392" width="426" height="1" fill="#00ffff"/>
<rect x="1266" y="694" width="426" height="1" fill="#00ffff"/>
<rect x="1266" y="392" width="1" height="303" fill="#00ffff"/>
<rect x="1691" y="392" width="1" height="303" fill="#00ffff"/>
<rect x="1253" y="392" width="14" height="64" fill="#ffffff" />
<rect x="1257" y="394" width="2" height="6" fill="#212830"/>
<rect x="1257" y="402" width="2" height="4" fill="#212830"/>
<rect x="1257" y="409" width="2" height="6" fill="#212830"/>
<rect x="1257" y="417" width="2" height="25" fill="#212830"/>
<rect x="1257" y="444" width="2" height="3" fill="#212830"/>
<rect x="1257" y="450" width="2" height="4" fill="#212830"/>
<rect x="1261" y="394" width="2" height="6" fill="#212830"/>
<rect x="1261" y="402" width="2" height="4" fill="#212830"/>
<rect x="1261" y="409" width="2" height="6" fill="#212830"/>
<rect x="1261" y="417" width="2" height="25" fill="#212830"/>
<rect x="1261" y="444" width="2" height="3" fill="#212830"/>
<rect x="1261" y="450" width="2" height="4" fill="#212830"/>
<rect x="1264" y="394" width="2" height="6" fill="#212830"/>
<rect x="1264" y="402" width="2" height="4" fill="#212830"/>
<rect x="1264" y="409" width="2" height="6" fill="#212830"/>
<rect x="1264" y="417" width="2" height="25" fill="#212830"/>
<rect x="1264" y="444" width="2" height="3" fill="#212830"/>
<rect x="1264" y="450" width="2" height="4" fill="#212830"/>
<rect x="1255" y="397" width="2" height="1" fill="#212830"/>
<rect x="1255" y="404" width="2" height="1" fill="#212830"/>
<rect x="1255" y="412" width="2" height="1" fill="#212830"/>
<rect x="1255" y="418" width="2" height="1" fill="#212830"/>
<rect x="1255" y="421" width="2" height="1" fill="#212830"/>
<rect x="1255" y="424" width="2" height="1" fill="#212830"/>
<rect x="1255" y="429" width="2" height="1" fill="#212830"/>
<rect x="1255" y="433" width="2" height="1" fill="#212830"/>
<rect x="1255" y="441" width="2" height="1" fill="#212830"/>
<rect x="1255" y="446" width="2" height="1" fill="#212830"/>
<rect x="1253" y="665" width="14" height="30" fill="#ffffff" />
<rect x="1257" y="667" width="2" height="6" fill="#212830"/>
<rect x="1257" y="675" width="2" height="9" fill="#212830"/>
<rect x="1257" y="686" width="2" height="7" fill="#212830"/>
<rect x="1261" y="667" width="2" height="6" fill="#212830"/>
<rect x="1261" y="675" width="2" height="9" fill="#212830"/>
<rect x="1261" y="686" width="2" height="7" fill="#212830"/>
<rect x="1264" y="667" width="2" height="6" fill="#212830"/>
<rect x="1264" y="675" width="2" height="9" fill="#212830"/>
<rect x="1264" y="686" width="2" height="7" fill="#212830"/>
<rect x="1255" y="669" width="2" height="1" fill="#212830"/>
<rect x="1255" y="677" width="2" height="1" fill="#212830"/>
<rect x="1255" y="682" width="2" height="1" fill="#212830"/>
<rect x="1255" y="690" width="2" height="1" fill="#212830"/>
<path d="M0,24 L7,0 L14,24 M2.3,16 L11.7,16" transform="translate(1258.40,354.30) scale(1.0000)" fill="none" stroke="#fff" stroke-width="1.150" stroke-linejoin="round"/>
<path d="M0,5 C1.6,4 3.2,2.6 4.3,0 L4.3,24" transform="translate(1278.40,354.30) scale(1.0000)" fill="none" stroke="#fff" stroke-width="1.150" stroke-linejoin="round"/>
<path d="M1325.5,537.0 L1325.5,400.0 L1576.0,474.0 L1576.0,536.0" fill="none" stroke="#808080" stroke-width="2" shape-rendering="auto" />
<path d="M1331.5,405.5 L1576.5,478.5" fill="none" stroke="#808080" stroke-width="1" shape-rendering="auto" />
<path d="M1325.0,536.5 L1576.0,536.5" fill="none" stroke="#808080" stroke-width="2" shape-rendering="auto" />
<path d="M1325.5,540.2 L1576.5,540.2" fill="none" stroke="#808080" stroke-width="1" shape-rendering="auto" />
<path d="M1300.5,546.5 L1576.5,546.5" fill="none" stroke="#808080" stroke-width="1" shape-rendering="auto" />
<rect x="1339" y="546" width="237" height="122" rx="42" fill="none" stroke="#808080" stroke-width="1.3"/>
<rect x="1350.5" y="551.5" width="219" height="108.5" rx="36" fill="none" stroke="#808080" stroke-width="1.2"/>
<rect x="1356" y="556" width="208" height="93" rx="28" fill="none" stroke="#808080" stroke-width="1"/>
<path d="M1324.7,546.0 L1324.7,669.8 L1576.0,669.8 L1576.0,536.0" fill="none" stroke="#808080" stroke-width="1.5" shape-rendering="auto" />
<path d="M1344.5,546.5 L1344.5,669.5" fill="none" stroke="#808080" stroke-width="1" shape-rendering="auto" />
<path d="M1300,590 Q1300,552 1320,552 Q1339,552 1339,590" fill="none" stroke="#808080" stroke-width="1.2"/>
<path d="M1306,592 Q1306,560 1320,560 Q1333,560 1333,592" fill="none" stroke="#808080" stroke-width="1"/>
<rect x="1358" y="562" width="196" height="74" fill="none" stroke="#808080" stroke-width="2"/>
<path d="M1371.5,562.5 L1371.5,636.5" fill="none" stroke="#808080" stroke-width="1.2" shape-rendering="auto" />
<path d="M1390.5,562.5 L1390.5,636.5" fill="none" stroke="#808080" stroke-width="1.2" shape-rendering="auto" />
<path d="M1409.0,562.5 L1409.0,636.5" fill="none" stroke="#808080" stroke-width="1.2" shape-rendering="auto" />
<path d="M1428.5,562.5 L1428.5,636.5" fill="none" stroke="#808080" stroke-width="1.2" shape-rendering="auto" />
<path d="M1446.5,562.5 L1446.5,636.5" fill="none" stroke="#808080" stroke-width="1.2" shape-rendering="auto" />
<path d="M1465.0,562.5 L1465.0,636.5" fill="none" stroke="#808080" stroke-width="1.2" shape-rendering="auto" />
<path d="M1483.5,562.5 L1483.5,636.5" fill="none" stroke="#808080" stroke-width="1.2" shape-rendering="auto" />
<path d="M1501.5,562.5 L1501.5,636.5" fill="none" stroke="#808080" stroke-width="1.2" shape-rendering="auto" />
<path d="M1520.0,562.5 L1520.0,636.5" fill="none" stroke="#808080" stroke-width="1.2" shape-rendering="auto" />
<path d="M1537.0,562.5 L1537.0,636.5" fill="none" stroke="#808080" stroke-width="1.2" shape-rendering="auto" />
<path d="M1551.0,562.5 L1551.0,636.5" fill="none" stroke="#808080" stroke-width="1.2" shape-rendering="auto" />
<path d="M1358.5,566.0 L1554.5,566.0" fill="none" stroke="#808080" stroke-width="1.2" shape-rendering="auto" />
<path d="M1358.5,584.3 L1554.5,584.3" fill="none" stroke="#808080" stroke-width="1.2" shape-rendering="auto" />
<path d="M1358.5,597.2 L1554.5,597.2" fill="none" stroke="#808080" stroke-width="1.2" shape-rendering="auto" />
<path d="M1358.5,609.0 L1554.5,609.0" fill="none" stroke="#808080" stroke-width="1.2" shape-rendering="auto" />
<path d="M1358.5,618.7 L1554.5,618.7" fill="none" stroke="#808080" stroke-width="1.2" shape-rendering="auto" />
<path d="M1358.5,628.3 L1554.5,628.3" fill="none" stroke="#808080" stroke-width="1.2" shape-rendering="auto" />
<path d="M1358.0,636.0 L1554.0,636.0" fill="none" stroke="#808080" stroke-width="3" shape-rendering="auto" />
<rect x="1360" y="616" width="11" height="19" fill="#808080" />
<rect x="1482" y="584" width="12" height="51" fill="#808080" />
<rect x="1540" y="614" width="10" height="19" fill="#808080" />
<rect x="1355" y="597" width="5" height="39" fill="#808080" />
<rect x="1495" y="605" width="45" height="6" fill="#808080" />
<rect x="1372" y="559" width="3" height="2" fill="#ffffff" />
<rect x="1392" y="559" width="3" height="2" fill="#ffffff" />
<rect x="1420" y="559" width="3" height="2" fill="#ffffff" />
<rect x="1450" y="561" width="3" height="2" fill="#ffffff" />
<rect x="1480" y="563" width="3" height="2" fill="#ffffff" />
<rect x="1493" y="565" width="3" height="2" fill="#ffffff" />
<rect x="1502" y="561" width="3" height="2" fill="#ffffff" />
<rect x="1530" y="563" width="3" height="2" fill="#ffffff" />
<rect x="1546" y="560" width="3" height="2" fill="#ffffff" />
<rect x="1546" y="575" width="3" height="2" fill="#ffffff" />
<rect x="1548" y="590" width="3" height="2" fill="#ffffff" />
<rect x="1550" y="604" width="3" height="2" fill="#ffffff" />
<rect x="1546" y="612" width="3" height="2" fill="#ffffff" />
<rect x="1384" y="594" width="3" height="2" fill="#ffffff" />
<rect x="1408" y="594" width="3" height="2" fill="#ffffff" />
<rect x="1440" y="594" width="3" height="2" fill="#ffffff" />
<rect x="1387" y="600" width="3" height="2" fill="#ffffff" />
<rect x="1398" y="603" width="3" height="2" fill="#ffffff" />
<rect x="1455" y="606" width="3" height="2" fill="#ffffff" />
<rect x="1505" y="608" width="3" height="2" fill="#ffffff" />
<rect x="1513" y="608" width="3" height="2" fill="#ffffff" />
<rect x="1522" y="608" width="3" height="2" fill="#ffffff" />
<rect x="1540" y="620" width="3" height="2" fill="#ffffff" />
<rect x="1361" y="605" width="3" height="2" fill="#ffffff" />
<rect x="1359" y="612" width="3" height="2" fill="#ffffff" />
<rect x="1375" y="636" width="3" height="2" fill="#ffffff" />
<rect x="1385" y="636" width="3" height="2" fill="#ffffff" />
<rect x="1395" y="636" width="3" height="2" fill="#ffffff" />
<rect x="1410" y="636" width="3" height="2" fill="#ffffff" />
<rect x="1425" y="636" width="3" height="2" fill="#ffffff" />
<rect x="1440" y="636" width="3" height="2" fill="#ffffff" />
<rect x="1468" y="636" width="3" height="2" fill="#ffffff" />
<rect x="1480" y="636" width="3" height="2" fill="#ffffff" />
<rect x="1500" y="636" width="3" height="2" fill="#ffffff" />
<rect x="1515" y="636" width="3" height="2" fill="#ffffff" />
<rect x="1530" y="636" width="3" height="2" fill="#ffffff" />
<rect x="1545" y="636" width="3" height="2" fill="#ffffff" />
<rect x="1365" y="640" width="3" height="2" fill="#ffffff" />
<rect x="1392" y="640" width="3" height="2" fill="#ffffff" />
<rect x="1430" y="640" width="3" height="2" fill="#ffffff" />
<rect x="1515" y="640" width="3" height="2" fill="#ffffff" />
<path d="M1386.5,614.5 L1463.5,599.5" fill="none" stroke="#808080" stroke-width="1" shape-rendering="auto" />
<path d="M1390.5,604.5 L1440.5,618.5" fill="none" stroke="#808080" stroke-width="1" shape-rendering="auto" />
<path d="M1393.5,618.5 L1460.5,600.5" fill="none" stroke="#808080" stroke-width="1" shape-rendering="auto" />
<rect x="1420" y="612" width="30" height="2" fill="#808080" />
<rect x="1432" y="615" width="8" height="5" fill="#808080" />
<rect x="1384" y="577" width="6" height="3" fill="#808080" />
<rect x="1420" y="577" width="6" height="3" fill="#808080" />
<rect x="1452" y="577" width="6" height="3" fill="#808080" />
<rect x="1520" y="577" width="6" height="3" fill="#808080" />
<rect x="1470" y="592" width="6" height="3" fill="#808080" />
<rect x="1510" y="592" width="6" height="3" fill="#808080" />
<path d="M1411.3,637.5 L1411.3,673.5" fill="none" stroke="#808080" stroke-width="1" shape-rendering="auto" />
<path d="M1414.5,637.5 L1414.5,680.5" fill="none" stroke="#808080" stroke-width="1" shape-rendering="auto" />
<path d="M1417.7,637.5 L1417.7,673.5" fill="none" stroke="#808080" stroke-width="1" shape-rendering="auto" />
<path d="M1431.7,637.5 L1431.7,673.5" fill="none" stroke="#808080" stroke-width="1" shape-rendering="auto" />
<path d="M1436.0,637.5 L1436.0,680.5" fill="none" stroke="#808080" stroke-width="1" shape-rendering="auto" />
<path d="M1440.3,637.5 L1440.3,673.5" fill="none" stroke="#808080" stroke-width="1" shape-rendering="auto" />
<path d="M1454.3,637.5 L1454.3,673.5" fill="none" stroke="#808080" stroke-width="1" shape-rendering="auto" />
<path d="M1458.5,637.5 L1458.5,680.5" fill="none" stroke="#808080" stroke-width="1" shape-rendering="auto" />
<path d="M1461.8,637.5 L1461.8,673.5" fill="none" stroke="#808080" stroke-width="1" shape-rendering="auto" />
<path d="M1410.5,672.5 L1462.5,672.5" fill="none" stroke="#808080" stroke-width="1" shape-rendering="auto" />
<path d="M1410.5,665.5 L1462.5,665.5" fill="none" stroke="#808080" stroke-width="1" shape-rendering="auto" />
<rect x="1329" y="650" width="10" height="1" fill="#808080"/>
<rect x="1329" y="665" width="10" height="1" fill="#808080"/>
<rect x="1329" y="650" width="1" height="16" fill="#808080"/>
<rect x="1338" y="650" width="1" height="16" fill="#808080"/>
<rect x="1331" y="654" width="6" height="1" fill="#808080"/>
<rect x="1331" y="661" width="6" height="1" fill="#808080"/>
<rect x="1331" y="654" width="1" height="8" fill="#808080"/>
<rect x="1336" y="654" width="1" height="8" fill="#808080"/>
<path d="M1322.5,657.5 L1345.5,657.5" fill="none" stroke="#808080" stroke-width="1" shape-rendering="auto" />
<rect x="1500" y="585" width="10" height="4" fill="#808080" />
<rect x="1480" y="657" width="12" height="3" fill="#808080" />
<path d="M2,2 h6 v5 h-6 z M5,7 v10 M3,12 h5 M1,18 l8,-2 M13,1 l-3,5 M11,3 h7 l-7,7 M12,6 l7,5 M11,12 h7 v7 h-7 z" transform="translate(1271,528.0) rotate(-90) scale(0.8,1.05)" fill="none" stroke="#808080" stroke-width="2.6" shape-rendering="auto"/>
<path d="M1,4 h18 M10,1 v3 M3,7 v12 M3,7 h14 v12 h-2 M7,9 l1,2 M13,9 l-1,2 M6,12 h8 M6,15 h8 M10,12 v7" transform="translate(1271,543.8) rotate(-90) scale(0.8,1.05)" fill="none" stroke="#808080" stroke-width="2.6" shape-rendering="auto"/>
<path d="M4,1 l-3,5 M3,4 h5 M2,8 h6 M5,8 v10 l3,-2 M2,13 h6 M10,3 h8 v16 h-1 M10,3 v16 M12,7 l5,8 M17,7 l-5,8" transform="translate(1271,559.6) rotate(-90) scale(0.8,1.05)" fill="none" stroke="#808080" stroke-width="2.6" shape-rendering="auto"/>
<path d="M1,6 h7 M5,1 v17 l-2,-1 M1,13 l7,-3 M11,2 v15 q0,2 2,2 h6 v-4" transform="translate(1271,575.4) rotate(-90) scale(0.8,1.05)" fill="none" stroke="#808080" stroke-width="2.6" shape-rendering="auto"/>
<path d="M1300,519 Q1306,536 1325,540" fill="none" stroke="#808080" stroke-width="1.2"/>
<path d="M1300.5,512.5 L1300.5,546.5" fill="none" stroke="#808080" stroke-width="1" shape-rendering="auto" />
<path d="M1538.0,508.5 L1586.5,508.5 L1586.5,675.5 L1462.0,675.5" fill="none" stroke="#ff0000" stroke-width="2" shape-rendering="auto" />
<path d="M1538.5,512.5 L1583.5,512.5 L1583.5,672.5" fill="none" stroke="#808080" stroke-width="1" shape-rendering="auto" />
<path d="M1589.5,505.5 L1589.5,678.5" fill="none" stroke="#808080" stroke-width="1" shape-rendering="auto" />
<path d="M1330.5,522 L1330.5,424 Q1330.5,414 1340,410 L1540,468 Q1546.5,471 1546.5,478 L1546.5,522 Q1546.5,529.5 1539,529.5 L1338,529.5 Q1330.5,529.5 1330.5,522 Z" fill="none" stroke="#00ff00" stroke-width="1.8" shape-rendering="auto"/>
<path d="M1330.0,480.3 L1546.0,480.3" fill="none" stroke="#00ff00" stroke-width="1.5" shape-rendering="auto" />
<path d="M1377.6,418.0 L1377.6,529.0" fill="none" stroke="#00ff00" stroke-width="2" shape-rendering="auto" />
<path d="M1413.9,428.0 L1413.9,529.0" fill="none" stroke="#00ff00" stroke-width="1.5" shape-rendering="auto" />
<path d="M1343.8,480.5 L1343.8,529.5" fill="none" stroke="#00ff00" stroke-width="1.2" shape-rendering="auto" />
<path d="M1361.0,480.5 L1361.0,529.5" fill="none" stroke="#00ff00" stroke-width="1.2" shape-rendering="auto" />
<path d="M1431.5,480.5 L1431.5,529.5" fill="none" stroke="#00ff00" stroke-width="1.2" shape-rendering="auto" />
<path d="M1447.5,480.5 L1447.5,529.5" fill="none" stroke="#00ff00" stroke-width="1.2" shape-rendering="auto" />
<path d="M1463.1,480.5 L1463.1,529.5" fill="none" stroke="#00ff00" stroke-width="1.2" shape-rendering="auto" />
<path d="M1463.1,440.5 L1463.1,480.5" fill="none" stroke="#00ff00" stroke-width="1.2" shape-rendering="auto" />
<path d="M1401.3,422.5 L1401.3,440.5" fill="none" stroke="#00ff00" stroke-width="1.2" shape-rendering="auto" />
<path d="M1520.5,462.0 L1520.5,529.5" fill="none" stroke="#00ff00" stroke-width="1.2" shape-rendering="auto" />
<path d="M1498.3,480.5 L1498.3,500.5" fill="none" stroke="#00ff00" stroke-width="1.2" shape-rendering="auto" />
<path d="M1478.5,452.5 L1478.5,469.5" fill="none" stroke="#00ff00" stroke-width="1.2" shape-rendering="auto" />
<path d="M1440.5,441.5 L1440.5,458.5" fill="none" stroke="#00ff00" stroke-width="1.2" shape-rendering="auto" />
<path d="M1493.5,457.5 L1493.5,478.5" fill="none" stroke="#00ff00" stroke-width="1.2" shape-rendering="auto" />
<path d="M1414.4,459.0 L1460.5,459.0" fill="none" stroke="#00ff00" stroke-width="1.2" shape-rendering="auto" />
<path d="M1330.5,427.8 L1377.5,427.8" fill="none" stroke="#00ff00" stroke-width="1.2" shape-rendering="auto" />
<path d="M1345,415 L1576,483" fill="none" stroke="#808080" stroke-width="2.5" stroke-dasharray="1.5,1" shape-rendering="auto"/>
<rect x="1469.5" y="500.5" width="69" height="23" fill="none" stroke="#808080" stroke-width="1.2"/>
<path d="M1469.5,498.3 L1498.3,498.3" fill="none" stroke="#ffffff" stroke-width="1.2" shape-rendering="auto" />
<path d="M1519.8,497.0 L1539.3,497.0" fill="none" stroke="#ffffff" stroke-width="1.2" shape-rendering="auto" />
<path d="M1539.3,512.5 L1546.5,512.5" fill="none" stroke="#ffffff" stroke-width="1" shape-rendering="auto" />
<rect x="1496" y="501" width="3" height="3" fill="#ffff00" />
<rect x="1496" y="515" width="2" height="4" fill="#ffff00" />
<rect x="1345" y="528" width="2" height="2" fill="#ffffff" />
<rect x="1366" y="528" width="2" height="2" fill="#ffffff" />
<rect x="1392" y="528" width="2" height="2" fill="#ffffff" />
<rect x="1420" y="528" width="2" height="2" fill="#ffffff" />
<rect x="1441" y="528" width="2" height="2" fill="#ffffff" />
<rect x="1462" y="528" width="2" height="2" fill="#ffffff" />
<rect x="1483" y="528" width="2" height="2" fill="#ffffff" />
<rect x="1503" y="528" width="2" height="2" fill="#ffffff" />
<rect x="1520" y="528" width="2" height="2" fill="#ffffff" />
<rect x="1538" y="528" width="2" height="2" fill="#ffffff" />
<rect x="1545" y="474" width="2" height="2" fill="#ffffff" />
<rect x="1545" y="493" width="2" height="2" fill="#ffffff" />
<rect x="1545" y="516" width="2" height="2" fill="#ffffff" />
<rect x="1330" y="440" width="2" height="2" fill="#ffffff" />
<rect x="1330" y="465" width="2" height="2" fill="#ffffff" />
<rect x="1330" y="500" width="2" height="2" fill="#ffffff" />
<rect x="1423" y="437" width="2" height="2" fill="#ffffff" />
<rect x="1455" y="447" width="2" height="2" fill="#ffffff" />
<rect x="1486" y="456" width="2" height="2" fill="#ffffff" />
<rect x="1515" y="464" width="2" height="2" fill="#ffffff" />
<path d="M1336,420 L1372,431 L1370,437 L1334,426 Z" fill="none" stroke="#fff" stroke-width="1"/>
<path d="M1336,426 L1370,436 L1368,442 L1334,432 Z" fill="none" stroke="#fff" stroke-width="1"/>
<path d="M1413,446 L1452,458 L1450,464 L1411,452 Z" fill="none" stroke="#fff" stroke-width="1"/>
<path d="M1413,452 L1450,463 L1448,469 L1411,458 Z" fill="none" stroke="#fff" stroke-width="1"/>
<path d="M1370,433 L1378,436 L1376,444 L1368,441 Z" fill="#808080"/>
<path d="M1448,459 L1456,462 L1454,469 L1446,466 Z" fill="#808080"/>
<rect x="1373" y="436" width="4" height="4" fill="#ff0000" />
<rect x="1450" y="461" width="4" height="4" fill="#ff0000" />
<path d="M1382,437 L1405,443 L1404,446 L1381,440 Z" fill="none" stroke="#fff" stroke-width="1"/>
<path d="M1458,456 L1482,462 L1480,469 L1456,463 Z" fill="none" stroke="#fff" stroke-width="1"/>
<rect x="1333" y="488" width="40" height="1" fill="#ffffff"/>
<rect x="1333" y="491" width="40" height="1" fill="#ffffff"/>
<rect x="1333" y="488" width="1" height="4" fill="#ffffff"/>
<rect x="1372" y="488" width="1" height="4" fill="#ffffff"/>
<rect x="1336" y="489" width="1" height="2" fill="#212830" />
<rect x="1340" y="489" width="1" height="2" fill="#212830" />
<rect x="1344" y="489" width="1" height="2" fill="#212830" />
<rect x="1348" y="489" width="1" height="2" fill="#212830" />
<rect x="1352" y="489" width="1" height="2" fill="#212830" />
<rect x="1356" y="489" width="1" height="2" fill="#212830" />
<rect x="1360" y="489" width="1" height="2" fill="#212830" />
<rect x="1364" y="489" width="1" height="2" fill="#212830" />
<rect x="1368" y="489" width="1" height="2" fill="#212830" />
<rect x="1333" y="492" width="40" height="1" fill="#00ffff"/>
<rect x="1333" y="496" width="40" height="1" fill="#ffffff"/>
<rect x="1333" y="499" width="40" height="1" fill="#ffffff"/>
<rect x="1333" y="496" width="1" height="4" fill="#ffffff"/>
<rect x="1372" y="496" width="1" height="4" fill="#ffffff"/>
<rect x="1336" y="497" width="1" height="2" fill="#212830" />
<rect x="1340" y="497" width="1" height="2" fill="#212830" />
<rect x="1344" y="497" width="1" height="2" fill="#212830" />
<rect x="1348" y="497" width="1" height="2" fill="#212830" />
<rect x="1352" y="497" width="1" height="2" fill="#212830" />
<rect x="1356" y="497" width="1" height="2" fill="#212830" />
<rect x="1360" y="497" width="1" height="2" fill="#212830" />
<rect x="1364" y="497" width="1" height="2" fill="#212830" />
<rect x="1368" y="497" width="1" height="2" fill="#212830" />
<rect x="1333" y="500" width="40" height="1" fill="#00ffff"/>
<rect x="1333" y="512" width="40" height="1" fill="#ffffff"/>
<rect x="1333" y="515" width="40" height="1" fill="#ffffff"/>
<rect x="1333" y="512" width="1" height="4" fill="#ffffff"/>
<rect x="1372" y="512" width="1" height="4" fill="#ffffff"/>
<rect x="1336" y="513" width="1" height="2" fill="#212830" />
<rect x="1340" y="513" width="1" height="2" fill="#212830" />
<rect x="1344" y="513" width="1" height="2" fill="#212830" />
<rect x="1348" y="513" width="1" height="2" fill="#212830" />
<rect x="1352" y="513" width="1" height="2" fill="#212830" />
<rect x="1356" y="513" width="1" height="2" fill="#212830" />
<rect x="1360" y="513" width="1" height="2" fill="#212830" />
<rect x="1364" y="513" width="1" height="2" fill="#212830" />
<rect x="1368" y="513" width="1" height="2" fill="#212830" />
<rect x="1333" y="516" width="40" height="1" fill="#00ffff"/>
<rect x="1333" y="520" width="40" height="1" fill="#ffffff"/>
<rect x="1333" y="523" width="40" height="1" fill="#ffffff"/>
<rect x="1333" y="520" width="1" height="4" fill="#ffffff"/>
<rect x="1372" y="520" width="1" height="4" fill="#ffffff"/>
<rect x="1336" y="521" width="1" height="2" fill="#212830" />
<rect x="1340" y="521" width="1" height="2" fill="#212830" />
<rect x="1344" y="521" width="1" height="2" fill="#212830" />
<rect x="1348" y="521" width="1" height="2" fill="#212830" />
<rect x="1352" y="521" width="1" height="2" fill="#212830" />
<rect x="1356" y="521" width="1" height="2" fill="#212830" />
<rect x="1360" y="521" width="1" height="2" fill="#212830" />
<rect x="1364" y="521" width="1" height="2" fill="#212830" />
<rect x="1368" y="521" width="1" height="2" fill="#212830" />
<rect x="1333" y="524" width="40" height="1" fill="#00ffff"/>
<rect x="1420" y="488" width="41" height="1" fill="#ffffff"/>
<rect x="1420" y="491" width="41" height="1" fill="#ffffff"/>
<rect x="1420" y="488" width="1" height="4" fill="#ffffff"/>
<rect x="1460" y="488" width="1" height="4" fill="#ffffff"/>
<rect x="1423" y="489" width="1" height="2" fill="#212830" />
<rect x="1427" y="489" width="1" height="2" fill="#212830" />
<rect x="1431" y="489" width="1" height="2" fill="#212830" />
<rect x="1435" y="489" width="1" height="2" fill="#212830" />
<rect x="1439" y="489" width="1" height="2" fill="#212830" />
<rect x="1443" y="489" width="1" height="2" fill="#212830" />
<rect x="1447" y="489" width="1" height="2" fill="#212830" />
<rect x="1451" y="489" width="1" height="2" fill="#212830" />
<rect x="1455" y="489" width="1" height="2" fill="#212830" />
<rect x="1459" y="489" width="1" height="2" fill="#212830" />
<rect x="1420" y="492" width="41" height="1" fill="#00ffff"/>
<rect x="1420" y="496" width="41" height="1" fill="#ffffff"/>
<rect x="1420" y="499" width="41" height="1" fill="#ffffff"/>
<rect x="1420" y="496" width="1" height="4" fill="#ffffff"/>
<rect x="1460" y="496" width="1" height="4" fill="#ffffff"/>
<rect x="1423" y="497" width="1" height="2" fill="#212830" />
<rect x="1427" y="497" width="1" height="2" fill="#212830" />
<rect x="1431" y="497" width="1" height="2" fill="#212830" />
<rect x="1435" y="497" width="1" height="2" fill="#212830" />
<rect x="1439" y="497" width="1" height="2" fill="#212830" />
<rect x="1443" y="497" width="1" height="2" fill="#212830" />
<rect x="1447" y="497" width="1" height="2" fill="#212830" />
<rect x="1451" y="497" width="1" height="2" fill="#212830" />
<rect x="1455" y="497" width="1" height="2" fill="#212830" />
<rect x="1459" y="497" width="1" height="2" fill="#212830" />
<rect x="1420" y="500" width="41" height="1" fill="#00ffff"/>
<rect x="1420" y="512" width="41" height="1" fill="#ffffff"/>
<rect x="1420" y="515" width="41" height="1" fill="#ffffff"/>
<rect x="1420" y="512" width="1" height="4" fill="#ffffff"/>
<rect x="1460" y="512" width="1" height="4" fill="#ffffff"/>
<rect x="1423" y="513" width="1" height="2" fill="#212830" />
<rect x="1427" y="513" width="1" height="2" fill="#212830" />
<rect x="1431" y="513" width="1" height="2" fill="#212830" />
<rect x="1435" y="513" width="1" height="2" fill="#212830" />
<rect x="1439" y="513" width="1" height="2" fill="#212830" />
<rect x="1443" y="513" width="1" height="2" fill="#212830" />
<rect x="1447" y="513" width="1" height="2" fill="#212830" />
<rect x="1451" y="513" width="1" height="2" fill="#212830" />
<rect x="1455" y="513" width="1" height="2" fill="#212830" />
<rect x="1459" y="513" width="1" height="2" fill="#212830" />
<rect x="1420" y="516" width="41" height="1" fill="#00ffff"/>
<rect x="1420" y="520" width="41" height="1" fill="#ffffff"/>
<rect x="1420" y="523" width="41" height="1" fill="#ffffff"/>
<rect x="1420" y="520" width="1" height="4" fill="#ffffff"/>
<rect x="1460" y="520" width="1" height="4" fill="#ffffff"/>
<rect x="1423" y="521" width="1" height="2" fill="#212830" />
<rect x="1427" y="521" width="1" height="2" fill="#212830" />
<rect x="1431" y="521" width="1" height="2" fill="#212830" />
<rect x="1435" y="521" width="1" height="2" fill="#212830" />
<rect x="1439" y="521" width="1" height="2" fill="#212830" />
<rect x="1443" y="521" width="1" height="2" fill="#212830" />
<rect x="1447" y="521" width="1" height="2" fill="#212830" />
<rect x="1451" y="521" width="1" height="2" fill="#212830" />
<rect x="1455" y="521" width="1" height="2" fill="#212830" />
<rect x="1459" y="521" width="1" height="2" fill="#212830" />
<rect x="1420" y="524" width="41" height="1" fill="#00ffff"/>
<rect x="1370" y="482" width="9" height="45" fill="#808080" />
<rect x="1413" y="482" width="8" height="45" fill="#808080" />
<rect x="1374" y="484" width="2" height="41" fill="#ff0000" />
<rect x="1416" y="484" width="2" height="41" fill="#ff0000" />
<rect x="1378" y="483" width="36" height="3" fill="#808080" />
<rect x="1378" y="516" width="36" height="3" fill="#808080" />
<rect x="1376" y="484" width="41" height="1" fill="#ff0000"/>
<rect x="1376" y="517" width="41" height="1" fill="#ff0000"/>
<rect x="1421" y="504" width="47" height="6" fill="#808080" />
<rect x="1421" y="507" width="48" height="1" fill="#ff0000"/>
<rect x="1381" y="467" width="10" height="23" fill="#212830" />
<rect x="1381" y="467" width="10" height="1" fill="#ffffff"/>
<rect x="1381" y="489" width="10" height="1" fill="#ffffff"/>
<rect x="1381" y="467" width="1" height="23" fill="#ffffff"/>
<rect x="1390" y="467" width="1" height="23" fill="#ffffff"/>
<rect x="1391" y="472" width="2" height="2" fill="#ffff00" />
<rect x="1391" y="481" width="2" height="2" fill="#ffff00" />
<rect x="1399" y="467" width="10" height="23" fill="#212830" />
<rect x="1399" y="467" width="10" height="1" fill="#ffffff"/>
<rect x="1399" y="489" width="10" height="1" fill="#ffffff"/>
<rect x="1399" y="467" width="1" height="23" fill="#ffffff"/>
<rect x="1408" y="467" width="1" height="23" fill="#ffffff"/>
<rect x="1409" y="472" width="2" height="2" fill="#ffff00" />
<rect x="1409" y="481" width="2" height="2" fill="#ffff00" />
<rect x="1381" y="500" width="10" height="23" fill="#212830" />
<rect x="1381" y="500" width="10" height="1" fill="#ffffff"/>
<rect x="1381" y="522" width="10" height="1" fill="#ffffff"/>
<rect x="1381" y="500" width="1" height="23" fill="#ffffff"/>
<rect x="1390" y="500" width="1" height="23" fill="#ffffff"/>
<rect x="1391" y="505" width="2" height="2" fill="#ffff00" />
<rect x="1391" y="514" width="2" height="2" fill="#ffff00" />
<rect x="1399" y="500" width="10" height="23" fill="#212830" />
<rect x="1399" y="500" width="10" height="1" fill="#ffffff"/>
<rect x="1399" y="522" width="10" height="1" fill="#ffffff"/>
<rect x="1399" y="500" width="1" height="23" fill="#ffffff"/>
<rect x="1408" y="500" width="1" height="23" fill="#ffffff"/>
<rect x="1409" y="505" width="2" height="2" fill="#ffff00" />
<rect x="1409" y="514" width="2" height="2" fill="#ffff00" />
<rect x="1384" y="401" width="94" height="1" fill="#ffffff" />
<rect x="1384" y="395" width="72" height="5" fill="#ffffff" />
<rect x="1386" y="396" width="1" height="2" fill="#212830" />
<rect x="1389" y="397" width="1" height="2" fill="#212830" />
<rect x="1392" y="396" width="1" height="2" fill="#212830" />
<rect x="1395" y="397" width="1" height="2" fill="#212830" />
<rect x="1398" y="396" width="1" height="2" fill="#212830" />
<rect x="1401" y="397" width="1" height="2" fill="#212830" />
<rect x="1404" y="396" width="1" height="2" fill="#212830" />
<rect x="1407" y="397" width="1" height="2" fill="#212830" />
<rect x="1410" y="396" width="1" height="2" fill="#212830" />
<rect x="1413" y="397" width="1" height="2" fill="#212830" />
<rect x="1416" y="396" width="1" height="2" fill="#212830" />
<rect x="1419" y="397" width="1" height="2" fill="#212830" />
<rect x="1422" y="396" width="1" height="2" fill="#212830" />
<rect x="1425" y="397" width="1" height="2" fill="#212830" />
<rect x="1428" y="396" width="1" height="2" fill="#212830" />
<rect x="1431" y="397" width="1" height="2" fill="#212830" />
<rect x="1434" y="396" width="1" height="2" fill="#212830" />
<rect x="1437" y="397" width="1" height="2" fill="#212830" />
<rect x="1440" y="396" width="1" height="2" fill="#212830" />
<rect x="1443" y="397" width="1" height="2" fill="#212830" />
<rect x="1446" y="396" width="1" height="2" fill="#212830" />
<rect x="1449" y="397" width="1" height="2" fill="#212830" />
<rect x="1452" y="396" width="1" height="2" fill="#212830" />
<rect x="1455" y="397" width="1" height="2" fill="#212830" />
<rect x="1407" y="395" width="4" height="5" fill="#212830" />
<rect x="1420" y="395" width="3" height="5" fill="#212830" />
<rect x="1440" y="395" width="3" height="5" fill="#212830" />
<path d="M1384.5,401.5 L1367.5,420.5" fill="none" stroke="#ffffff" stroke-width="1" shape-rendering="auto" />
<path d="M1478.5,401.5 L1484.5,405.5" fill="none" stroke="#ffffff" stroke-width="1" shape-rendering="auto" />
<rect x="1478" y="428" width="23" height="5" fill="#ffffff" />
<rect x="1480" y="429" width="1" height="2" fill="#212830" />
<rect x="1483" y="430" width="1" height="2" fill="#212830" />
<rect x="1486" y="429" width="1" height="2" fill="#212830" />
<rect x="1489" y="430" width="1" height="2" fill="#212830" />
<rect x="1492" y="429" width="1" height="2" fill="#212830" />
<rect x="1495" y="430" width="1" height="2" fill="#212830" />
<rect x="1498" y="429" width="1" height="2" fill="#212830" />
<path d="M1478.5,434.5 L1510.5,434.5 L1514.5,440.5" fill="none" stroke="#ffffff" stroke-width="1" shape-rendering="auto" />
<path d="M1302,416 L1310,419 L1315,415 L1322,414" fill="none" stroke="#00ffff" stroke-width="1.5" shape-rendering="auto"/>
<path d="M1555,552 L1565,548 L1574,546" fill="none" stroke="#00ffff" stroke-width="1.5" shape-rendering="auto"/>
<rect x="1307" y="417" width="3" height="2" fill="#ff0000" />
<rect x="1317" y="413" width="3" height="2" fill="#ffff00" />
<path d="M1432,540 L1432,552 M1429,541 L1435,541 M1429,551 L1435,551" stroke="#00ff00" stroke-width="1.5"/>
<path d="M1391.5,647 L1391.5,661 M1388,648 L1395,648 M1388,660 L1395,660" stroke="#00ff00" stroke-width="1.5"/>
<path d="M1560,603 L1573,603 M1561,600 L1561,606 M1572,600 L1572,606" stroke="#00ff00" stroke-width="1.5"/>
<path d="M1324,643 L1334,643 M1325,640 L1325,646 M1333,640 L1333,646" stroke="#00ff00" stroke-width="1.5"/>
<rect x="1614" y="540" width="69" height="21" fill="#ffff00" />
<rect x="1617" y="543" width="64" height="1" fill="#212830" />
<rect x="1617" y="546" width="64" height="1" fill="#212830" />
<rect x="1617" y="549" width="64" height="1" fill="#212830" />
<rect x="1617" y="552" width="64" height="1" fill="#212830" />
<rect x="1617" y="555" width="64" height="1" fill="#212830" />
<rect x="1617" y="558" width="64" height="1" fill="#212830" />
<rect x="1640" y="544" width="12" height="8" fill="#ffff00" />
<rect x="1625" y="541" width="1" height="20" fill="#ffff00"/>
<rect x="1640" y="541" width="1" height="20" fill="#ffff00"/>
<rect x="1652" y="541" width="1" height="20" fill="#ffff00"/>
<rect x="1660" y="541" width="1" height="20" fill="#ffff00"/>
<rect x="1668" y="541" width="1" height="20" fill="#ffff00"/>
<rect x="1676" y="541" width="1" height="20" fill="#ffff00"/>
<rect x="1626" y="556" width="1" height="5" fill="#212830"/>
<rect x="1641" y="556" width="1" height="5" fill="#212830"/>
<rect x="1653" y="556" width="1" height="5" fill="#212830"/>
<rect x="1661" y="556" width="1" height="5" fill="#212830"/>
<rect x="1669" y="556" width="1" height="5" fill="#212830"/>
<rect x="1677" y="556" width="1" height="5" fill="#212830"/>
<rect x="1618" y="543" width="5" height="2" fill="#00ffff" />
<rect x="1618" y="553" width="8" height="2" fill="#ff0000" />
<rect x="1618" y="556" width="8" height="1" fill="#00ff00" />
<rect x="1641" y="533" width="22" height="3" fill="#ffff00" />
<rect x="1617" y="587" width="43" height="19" fill="#ffffff" />
<rect x="1617" y="586" width="64" height="3" fill="#ffffff" />
<rect x="1660" y="590" width="6" height="3" fill="#ffffff" />
<rect x="1623" y="591" width="1" height="1" fill="#212830" />
<rect x="1627" y="591" width="1" height="1" fill="#212830" />
<rect x="1631" y="591" width="1" height="1" fill="#212830" />
<rect x="1623" y="597" width="1" height="1" fill="#212830" />
<rect x="1628" y="601" width="1" height="1" fill="#212830" />
<rect x="1634" y="597" width="1" height="1" fill="#212830" />
<rect x="1640" y="597" width="1" height="1" fill="#212830" />
<rect x="1620" y="600" width="1" height="1" fill="#212830" />
<rect x="1655" y="603" width="5" height="3" fill="#ffffff" />
<rect x="1643" y="623" width="26" height="2" fill="#ff00ff"/>
<rect x="1643" y="630" width="14" height="2" fill="#ff0000" />
<rect x="1643" y="636" width="17" height="3" fill="#ff0000" />
<rect x="1659" y="622" width="1" height="26" fill="#ff0000"/>
<rect x="1667" y="622" width="1" height="26" fill="#ff0000"/>
<rect x="1660" y="630" width="6" height="1" fill="#ffffff"/>
<rect x="1660" y="645" width="6" height="1" fill="#ffffff"/>
<rect x="1660" y="630" width="1" height="16" fill="#ffffff"/>
<rect x="1665" y="630" width="1" height="16" fill="#ffffff"/>
<rect x="1647" y="652" width="20" height="3" fill="#ff0000" />
<rect x="1660" y="622" width="5" height="5" fill="#ff0000" />
<rect x="1595" y="673" width="97" height="1" fill="#00ffff"/>
<rect x="1595" y="673" width="1" height="22" fill="#00ffff"/>
<rect x="1643" y="673" width="1" height="22" fill="#ffffff"/>
<rect x="1677" y="673" width="1" height="8" fill="#ffffff"/>
<rect x="1595" y="680" width="97" height="1" fill="#ffffff"/>
<rect x="1596" y="684" width="47" height="1" fill="#ffffff"/>
<rect x="1596" y="687" width="47" height="1" fill="#ffffff"/>
<rect x="1596" y="690" width="47" height="1" fill="#ffffff"/>
<rect x="1616" y="680" width="1" height="15" fill="#ffffff"/>
<rect x="1633" y="680" width="1" height="15" fill="#ffffff"/>
<rect x="1597" y="681" width="2" height="13" fill="#ff0000" />
<rect x="1604" y="681" width="2" height="13" fill="#ff0000" />
<rect x="1595" y="694" width="97" height="1" fill="#ffffff"/>
<rect x="1644" y="690" width="47" height="1" fill="#ffffff"/>
<rect x="1657" y="683" width="20" height="3" fill="#ffffff" />
<rect x="1672" y="675" width="5" height="4" fill="#ff0000" />
<rect x="1682" y="675" width="3" height="2" fill="#ff0000" />
<rect x="1688" y="674" width="2" height="6" fill="#ff0000" />
<rect x="1646" y="692" width="1" height="1" fill="#ffffff" />
<rect x="1651" y="692" width="1" height="1" fill="#ffffff" />
<rect x="1656" y="692" width="1" height="1" fill="#ffffff" />
<rect x="1661" y="692" width="1" height="1" fill="#ffffff" />
<rect x="1666" y="692" width="1" height="1" fill="#ffffff" />
<rect x="1671" y="692" width="1" height="1" fill="#ffffff" />
<rect x="1676" y="692" width="1" height="1" fill="#ffffff" />
<rect x="1681" y="692" width="1" height="1" fill="#ffffff" />
<rect x="1686" y="692" width="1" height="1" fill="#ffffff" />
<path d="M1672,410 m-8,0 a8,8 0 1,0 16,0 a8,8 0 1,0 -16,0" fill="none" stroke="#fff" stroke-width="1" shape-rendering="auto"/>
<line x1="1672" y1="410" x2="1676.0" y2="403.1" stroke="#fff" stroke-width="0.8" shape-rendering="auto"/>
<line x1="1672" y1="410" x2="1678.6" y2="405.4" stroke="#fff" stroke-width="0.8" shape-rendering="auto"/>
<line x1="1672" y1="410" x2="1679.9" y2="408.6" stroke="#fff" stroke-width="0.8" shape-rendering="auto"/>
<line x1="1672" y1="410" x2="1679.7" y2="412.1" stroke="#fff" stroke-width="0.8" shape-rendering="auto"/>
<line x1="1672" y1="410" x2="1678.1" y2="415.1" stroke="#fff" stroke-width="0.8" shape-rendering="auto"/>
<line x1="1672" y1="410" x2="1675.4" y2="417.3" stroke="#fff" stroke-width="0.8" shape-rendering="auto"/>
<line x1="1672" y1="410" x2="1672.0" y2="418.0" stroke="#fff" stroke-width="0.8" shape-rendering="auto"/>
<line x1="1672" y1="410" x2="1668.6" y2="417.3" stroke="#fff" stroke-width="0.8" shape-rendering="auto"/>
<line x1="1672" y1="410" x2="1665.9" y2="415.1" stroke="#fff" stroke-width="0.8" shape-rendering="auto"/>
<line x1="1672" y1="410" x2="1664.3" y2="412.1" stroke="#fff" stroke-width="0.8" shape-rendering="auto"/>
<line x1="1672" y1="410" x2="1664.1" y2="408.6" stroke="#fff" stroke-width="0.8" shape-rendering="auto"/>
<line x1="1672" y1="410" x2="1665.4" y2="405.4" stroke="#fff" stroke-width="0.8" shape-rendering="auto"/>
<rect x="1669" y="407" width="7" height="7" fill="#ffffff" />
<rect x="1672" y="392" width="1" height="38" fill="#ffffff"/>
<rect x="1648" y="410" width="44" height="1" fill="#ffffff"/>
<rect x="1649" y="408" width="3" height="4" fill="#ffffff" />
<g fill="none" stroke="#ffffff" stroke-width="1" shape-rendering="auto">
<circle cx="1321" cy="414" r="108"/>
<circle cx="1572" cy="530" r="108"/>
<path d="M1413,357 L1483,404 Q1500,413 1560,422"/>
<path d="M1321,522 Q1420,530 1503,613"/>
</g>
<rect x="1745" y="603" width="116" height="1" fill="#ff0000"/>
<rect x="1745" y="695" width="116" height="1" fill="#ff0000"/>
<rect x="1745" y="603" width="1" height="93" fill="#ff0000"/>
<rect x="1860" y="603" width="1" height="93" fill="#ff0000"/>
<rect x="1754" y="606" width="107" height="1" fill="#00ffff"/>
<rect x="1754" y="693" width="107" height="1" fill="#00ffff"/>
<rect x="1754" y="606" width="1" height="88" fill="#00ffff"/>
<rect x="1860" y="606" width="1" height="88" fill="#00ffff"/>
<rect x="1745" y="606" width="10" height="39" fill="#ffffff" />
<rect x="1748" y="607" width="1" height="4" fill="#212830"/>
<rect x="1748" y="612" width="1" height="3" fill="#212830"/>
<rect x="1748" y="616" width="1" height="4" fill="#212830"/>
<rect x="1748" y="621" width="1" height="15" fill="#212830"/>
<rect x="1748" y="637" width="1" height="2" fill="#212830"/>
<rect x="1748" y="641" width="1" height="2" fill="#212830"/>
<rect x="1751" y="607" width="1" height="4" fill="#212830"/>
<rect x="1751" y="612" width="1" height="3" fill="#212830"/>
<rect x="1751" y="616" width="1" height="4" fill="#212830"/>
<rect x="1751" y="621" width="1" height="15" fill="#212830"/>
<rect x="1751" y="637" width="1" height="2" fill="#212830"/>
<rect x="1751" y="641" width="1" height="2" fill="#212830"/>
<rect x="1753" y="607" width="1" height="4" fill="#212830"/>
<rect x="1753" y="612" width="1" height="3" fill="#212830"/>
<rect x="1753" y="616" width="1" height="4" fill="#212830"/>
<rect x="1753" y="621" width="1" height="15" fill="#212830"/>
<rect x="1753" y="637" width="1" height="2" fill="#212830"/>
<rect x="1753" y="641" width="1" height="2" fill="#212830"/>
<rect x="1746" y="609" width="1" height="1" fill="#212830"/>
<rect x="1746" y="613" width="1" height="1" fill="#212830"/>
<rect x="1746" y="618" width="1" height="1" fill="#212830"/>
<rect x="1746" y="622" width="1" height="1" fill="#212830"/>
<rect x="1746" y="623" width="1" height="1" fill="#212830"/>
<rect x="1746" y="625" width="1" height="1" fill="#212830"/>
<rect x="1746" y="628" width="1" height="1" fill="#212830"/>
<rect x="1746" y="631" width="1" height="1" fill="#212830"/>
<rect x="1746" y="635" width="1" height="1" fill="#212830"/>
<rect x="1746" y="639" width="1" height="1" fill="#212830"/>
<rect x="1745" y="675" width="10" height="19" fill="#ffffff" />
<rect x="1748" y="676" width="1" height="4" fill="#212830"/>
<rect x="1748" y="681" width="1" height="6" fill="#212830"/>
<rect x="1748" y="688" width="1" height="4" fill="#212830"/>
<rect x="1751" y="676" width="1" height="4" fill="#212830"/>
<rect x="1751" y="681" width="1" height="6" fill="#212830"/>
<rect x="1751" y="688" width="1" height="4" fill="#212830"/>
<rect x="1753" y="676" width="1" height="4" fill="#212830"/>
<rect x="1753" y="681" width="1" height="6" fill="#212830"/>
<rect x="1753" y="688" width="1" height="4" fill="#212830"/>
<rect x="1746" y="678" width="1" height="1" fill="#212830"/>
<rect x="1746" y="683" width="1" height="1" fill="#212830"/>
<rect x="1746" y="685" width="1" height="1" fill="#212830"/>
<rect x="1746" y="690" width="1" height="1" fill="#212830"/>
<path d="M0,24 L7,0 L14,24 M2.3,16 L11.7,16" transform="translate(1748.20,574.50) scale(1.0333)" fill="none" stroke="#fff" stroke-width="1.113" stroke-linejoin="round"/>
<path d="M2,0 L12.5,0 L6.3,9 L10,9 C11.5,9 12.4,10.2 12.4,11.5 L12.4,19.5 C12.4,22.5 10,24 6.5,24 C3.5,24 1.5,22.5 0.3,19.5" transform="translate(1768.87,574.50) scale(1.0333)" fill="none" stroke="#fff" stroke-width="1.113" stroke-linejoin="round"/>
<rect x="1763" y="614" width="1" height="28" fill="#ffffff"/>
<rect x="1767" y="614" width="1" height="28" fill="#00ff00"/>
<rect x="1763" y="641" width="7" height="2" fill="#ffffff" />
<rect x="1764" y="623" width="2" height="2" fill="#ff0000" />
<rect x="1773" y="615" width="6" height="10" fill="#00ff00" />
<rect x="1775" y="615" width="2" height="10" fill="#ffffff" />
<rect x="1773" y="623" width="6" height="1" fill="#ff0000" />
<rect x="1783" y="615" width="6" height="10" fill="#00ff00" />
<rect x="1785" y="615" width="2" height="10" fill="#ffffff" />
<rect x="1783" y="623" width="6" height="1" fill="#ff0000" />
<rect x="1792" y="617" width="8" height="5" fill="#ffffff" />
<rect x="1801" y="617" width="9" height="5" fill="#00ff00" />
<rect x="1792" y="620" width="18" height="1" fill="#ff0000" />
<rect x="1792" y="628" width="18" height="6" fill="#00ff00" />
<rect x="1794" y="626" width="12" height="2" fill="#ffffff" />
<rect x="1792" y="636" width="17" height="3" fill="#ffffff" />
<rect x="1792" y="634" width="16" height="2" fill="#00ff00" />
<rect x="1772" y="629" width="8" height="2" fill="#ffffff" />
<rect x="1782" y="627" width="8" height="4" fill="#00ff00" />
<rect x="1772" y="634" width="14" height="2" fill="#ffffff" />
<rect x="1775" y="640" width="4" height="9" fill="#00ff00" />
<rect x="1778" y="641" width="2" height="7" fill="#00ffff" />
<rect x="1780" y="643" width="10" height="3" fill="#ffffff" />
<rect x="1790" y="645" width="5" height="3" fill="#ff0000" />
<rect x="1774" y="650" width="12" height="3" fill="#ffffff" />
<rect x="1806" y="645" width="6" height="6" fill="#00ff00" />
<rect x="1803" y="650" width="10" height="3" fill="#ffffff" />
<rect x="1767" y="655" width="35" height="15" fill="url(#blk)"/>
<rect x="1766" y="654" width="4" height="3" fill="#ffffff" />
<rect x="1766" y="673" width="43" height="1" fill="#ffffff"/>
<rect x="1766" y="683" width="43" height="1" fill="#ffffff"/>
<rect x="1766" y="673" width="1" height="11" fill="#ffffff"/>
<rect x="1808" y="673" width="1" height="11" fill="#ffffff"/>
<rect x="1767" y="674" width="41" height="9" fill="url(#rows)"/>
<rect x="1797" y="673" width="1" height="11" fill="#ffffff"/>
<rect x="1817" y="680" width="44" height="1" fill="#00ffff"/>
<rect x="1817" y="692" width="44" height="1" fill="#00ffff"/>
<rect x="1817" y="680" width="1" height="13" fill="#00ffff"/>
<rect x="1860" y="680" width="1" height="13" fill="#00ffff"/>
<rect x="1819" y="682" width="3" height="8" fill="#ff0000" />
<rect x="1831" y="682" width="3" height="8" fill="#ff0000" />
<rect x="1823" y="684" width="24" height="1" fill="#ffffff"/>
<rect x="1823" y="687" width="24" height="1" fill="#ffffff"/>
<circle cx="1821" cy="85" r="53.2" fill="none" stroke="#9094a0" stroke-opacity="0.27" stroke-width="13.6" shape-rendering="auto"/>
<rect x="1795" y="59" width="55" height="52" fill="#aeb0b2" opacity="0.82"/>
<rect x="1805" y="69" width="32" height="32" fill="#8f9296" opacity="0.55"/>
<path d="M1806,94.5 L1836,94.5 M1821,82.5 L1832,82.5" stroke="#75787d" stroke-width="1" fill="none"/>
<rect x="1818" y="74" width="2.6" height="21" fill="#686b70"/>
<path d="M1829,82.5 L1831,79.5 L1833,82.5 Z M1831,94.5 L1833,91.5 L1835,94.5 Z" fill="#686b70"/>
<path d="M6,0 v19 M0,8 h6 M0,16.5 l6,-3 M10.5,0 v17.5 h7 v-3 M10.5,10.5 l7,-5.5" transform="translate(1812,20)" fill="none" stroke="#a2a4a7" stroke-width="1.5" shape-rendering="auto"/>
<path d="M0,1 h17 M1,6 v12 M1,6 h15 v12 M1,15.5 h15 M6,1 v8 q0,3 -4,4 M10.5,1 v9 h4" transform="translate(1756,77.5)" fill="none" stroke="#a2a4a7" stroke-width="1.5" shape-rendering="auto"/>
<path d="M0,3 h17 M8.5,0 v3 M1,6 v10.5 M1,6 h15 v10 h-2 M5,8 l1.5,2 M12,8 l-1.5,2 M4,11 h9 M4,13.5 h9 M8.5,11 v5.5" transform="translate(1812.3,136)" fill="none" stroke="#a2a4a7" stroke-width="1.5" shape-rendering="auto"/>
<rect x="1797" y="174" width="47" height="17" rx="6" fill="#8a8d91" opacity="0.45"/>
<text x="1800" y="187.5" font-family="Liberation Sans, sans-serif" font-size="12.5" fill="#777a7f">WCS</text>
<path d="M1829,181 L1838,181 L1833.5,186 Z" fill="none" stroke="#777a7f" stroke-width="1" shape-rendering="auto"/>
<path d="M10.5,707 L16.5,714 L22.5,707 M16.5,714 L16.5,720" stroke="#fff" stroke-width="1" fill="none" shape-rendering="auto"/>
<rect x="8" y="725" width="1" height="20" fill="#ffffff"/>
</svg>
</body></html>
